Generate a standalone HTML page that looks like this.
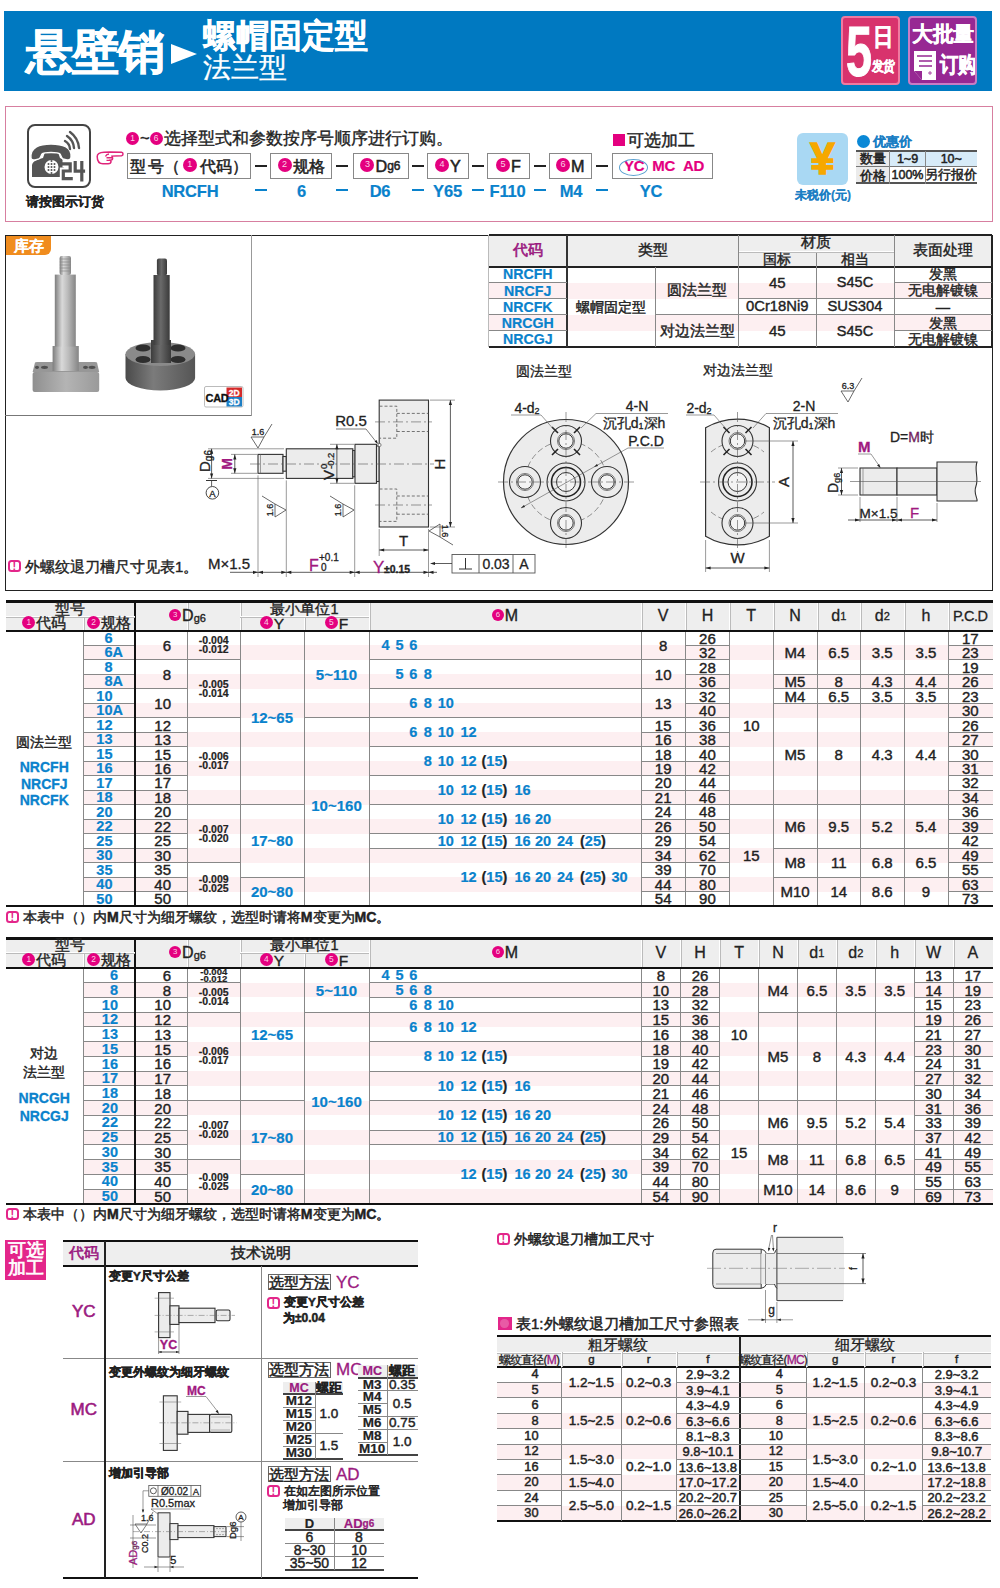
<!DOCTYPE html><html><head><meta charset="utf-8"><title>悬壁销 螺帽固定型 法兰型</title><style>
*{margin:0;padding:0}
html,body{width:1000px;height:1588px;background:#fff;overflow:hidden}
body{position:relative;font-family:"Liberation Sans",sans-serif}
.a{position:absolute}
.t{position:absolute;display:flex;align-items:center;white-space:nowrap;line-height:1;-webkit-text-stroke-width:0.3px}
.c{position:absolute;border-radius:50%;display:flex;align-items:center;justify-content:center;line-height:1}
.ci{display:inline-flex;align-items:center;justify-content:center;border-radius:50%;color:#fbd0e6;-webkit-text-stroke:0;vertical-align:middle;margin-right:1px;line-height:1;position:relative;top:-1px}
.nt{display:inline-flex;align-items:center;justify-content:center;width:12.5px;height:12.5px;border:2.2px solid #e3268a;border-radius:3.5px;color:#e3268a;font-size:11px;font-weight:bold;margin-left:1px;margin-right:4.5px;box-sizing:border-box;line-height:1;-webkit-text-stroke:0}
svg text{font-family:"Liberation Sans",sans-serif}
</style></head><body>
<div class="a" style="left:4px;top:11px;width:988px;height:80px;background:#0079c1;"></div>
<div class="t" style="left:26px;top:20px;width:149px;height:62px;font-size:47px;color:#fff;font-weight:bold;justify-content:flex-start;-webkit-text-stroke-width:0.2px;letter-spacing:-1px;-webkit-text-stroke:0.7px #fff;">悬壁销</div>
<svg class="a" style="left:171px;top:44px" width="27" height="21"><polygon points="0,0 26,10 0,20" fill="#fff"/></svg>
<div class="t" style="left:203px;top:18px;width:177px;height:37px;font-size:32.5px;color:#fff;font-weight:bold;justify-content:flex-start;-webkit-text-stroke-width:0.2px;-webkit-text-stroke:0.5px #fff;">螺帽固定型</div>
<div class="t" style="left:203px;top:53px;width:177px;height:30px;font-size:28px;color:#fff;font-weight:normal;justify-content:flex-start;">法兰型</div>
<div class="a" style="left:841px;top:16px;width:59px;height:69px;background:#d8336d;border:2px solid #f07aa0;box-sizing:border-box;border-radius:4px;"></div>
<div class="t" style="left:838px;top:18px;width:42px;height:67px;font-size:71px;color:#fff;font-weight:bold;justify-content:center;-webkit-text-stroke-width:0.2px;transform:scaleX(0.66);-webkit-text-stroke:1px #fff;">5</div>
<div class="t" style="left:872px;top:22px;width:22px;height:30px;font-size:24px;color:#fff;font-weight:bold;justify-content:center;-webkit-text-stroke-width:0.2px;transform:scaleX(0.85);-webkit-text-stroke:0.6px #fff;">日</div>
<div class="t" style="left:869px;top:55px;width:27px;height:23px;font-size:13.5px;color:#fff;font-weight:bold;justify-content:center;-webkit-text-stroke-width:0.2px;letter-spacing:-1.5px;transform:scaleX(0.85);-webkit-text-stroke:0.4px #fff;">发货</div>
<div class="a" style="left:908px;top:16px;width:69px;height:69px;background:#972893;border:2px solid #c97cc4;box-sizing:border-box;border-radius:4px;"></div>
<div class="t" style="left:909px;top:20px;width:68px;height:29px;font-size:20.5px;color:#fff;font-weight:bold;justify-content:center;-webkit-text-stroke-width:0.2px;letter-spacing:-0.5px;-webkit-text-stroke:0.4px #fff;">大批量</div>
<div class="t" style="left:939px;top:50px;width:37px;height:29px;font-size:18px;color:#fff;font-weight:bold;justify-content:center;-webkit-text-stroke-width:0.2px;transform:scaleY(1.2);letter-spacing:-0.5px;-webkit-text-stroke:0.4px #fff;">订购</div>
<svg class="a" style="left:913px;top:51px" width="25" height="30"><path d="M1,0 H23 V29 H9 L1,20 Z" fill="#fff"/><path d="M1,20 H9 V29 Z" fill="#972893"/><path d="M4,5 H19 M6,10 H19 M6,15 H19" stroke="#972893" stroke-width="1.6"/><path d="M15,22 h4 M17,20 v4" stroke="#972893" stroke-width="0.8"/></svg>
<div class="a" style="left:5px;top:106px;width:988px;height:116px;border:1.5px solid #d77fa0;box-sizing:border-box;"></div>
<div class="a" style="left:27px;top:124px;width:64px;height:64px;background:#fff;border:2.2px solid #444;box-sizing:border-box;border-radius:8px;"></div>
<svg class="a" style="left:27px;top:124px" width="64" height="64" viewBox="0 0 64 64">
<path d="M5,53 L5,41 C6,37 11,35 16,34 L18,28 L31,28 L33,34 C36,35 37,38 37,41 L37,53 Z" fill="#555"/>
<path d="M4,34 C3,23 13,20 24,20 C35,20 45,23 44,33 C44,35 42,36 40,36 L36,35 C34,34 34,31 33,30 C31,28 17,28 15,30 C14,31 14,34 12,35 L8,36 C6,36 4,36 4,34 Z" fill="#555" stroke="#fff" stroke-width="1.3"/>
<circle cx="24.5" cy="43" r="7" fill="#fff"/>
<g fill="#555"><circle cx="21.5" cy="40" r="1"/><circle cx="24.5" cy="40" r="1"/><circle cx="27.5" cy="40" r="1"/><circle cx="21.5" cy="43" r="1"/><circle cx="24.5" cy="43" r="1"/><circle cx="27.5" cy="43" r="1"/><circle cx="21.5" cy="46" r="1"/><circle cx="24.5" cy="46" r="1"/><circle cx="27.5" cy="46" r="1"/><circle cx="24.5" cy="37" r="1"/><circle cx="24.5" cy="49" r="1"/></g>
<path d="M44,24 A10,10 0 0 0 39,16 M48,23 A16,16 0 0 0 41,11 M53,23 A22,22 0 0 0 44,7" stroke="#555" stroke-width="2.4" fill="none" stroke-linecap="round" transform="translate(-1,1)"/>
<path d="M35.5,39.8 H43.2 V47 H36.3 V54.6 H44.2 M48.2,38.5 V47.2 H56.5 M54.8,38.5 V56" fill="none" stroke="#fff" stroke-width="7" stroke-linejoin="miter"/>
<path d="M35.5,39.8 H43.2 V47 H36.3 V54.6 H44.2 M48.2,38.5 V47.2 H56.5 M54.8,38.5 V56" fill="none" stroke="#555" stroke-width="3.2" stroke-linejoin="miter" stroke-linecap="square"/>
</svg>
<div class="t" style="left:20px;top:193px;width:90px;height:16px;font-size:13px;color:#222;font-weight:bold;justify-content:center;-webkit-text-stroke-width:0.2px;">请按图示订货</div>
<svg class="a" style="left:96px;top:150.5px" width="29" height="15"><path d="M1.2,5.5 C1.2,2.5 5,1.3 8,1.2 L14,0.9 L25.5,1.3 C27.5,1.6 27.5,4.5 25.5,4.8 L16,5.1 L16.6,7.2 C16.6,8.6 15.6,9.2 14.3,9.2 L15,10.5 C15,12.2 14,12.8 12,12.8 L7,12.8 C3.5,12.8 1.2,10.5 1.2,5.5 Z" fill="#fff" stroke="#e0247a" stroke-width="1.5"/><path d="M9.5,5.5 C10,4 11,3.2 13,3 M10.5,6.7 H16.2 M10.5,9.4 H14.5" fill="none" stroke="#e0247a" stroke-width="1.4"/></svg>
<div class="t" style="left:126px;top:130px;width:434px;height:18px;font-size:16.6px;color:#222;font-weight:normal;justify-content:flex-start;-webkit-text-stroke:0.35px #222;"><span class="ci" style="width:13.0px;height:13.0px;background:#e4007f;font-size:8.450000000000001px;">1</span>~<span class="ci" style="width:13.0px;height:13.0px;background:#e4007f;font-size:8.450000000000001px;">6</span>选择型式和参数按序号顺序进行订购。</div>
<div class="a" style="left:126.5px;top:153px;width:124.5px;height:25.5px;background:#fff;border:1px solid #888;box-sizing:border-box;"></div>
<div class="t" style="left:126.5px;top:153px;width:124.5px;height:25.5px;font-size:16.2px;color:#222;font-weight:normal;justify-content:center;-webkit-text-stroke:0.5px #222;">型<span style="margin-left:2px">号</span>（<span style="margin:0 2px 0 3px;display:inline-flex"><span class="ci" style="width:14px;height:14px;background:#e4007f;font-size:9.1px;">1</span></span>代码）</div>
<div class="a" style="left:270px;top:153px;width:62px;height:25.5px;background:#fff;border:1px solid #888;box-sizing:border-box;"></div>
<div class="t" style="left:270px;top:153px;width:62px;height:25.5px;font-size:16.2px;color:#222;font-weight:normal;justify-content:center;-webkit-text-stroke:0.5px #222;"><span class="ci" style="width:14px;height:14px;background:#e4007f;font-size:9.1px;">2</span>规格</div>
<div class="a" style="left:352.5px;top:153px;width:56.0px;height:25.5px;background:#fff;border:1px solid #888;box-sizing:border-box;"></div>
<div class="t" style="left:352.5px;top:153px;width:56.0px;height:25.5px;font-size:16.2px;color:#222;font-weight:normal;justify-content:center;-webkit-text-stroke:0.5px #222;"><span class="ci" style="width:14px;height:14px;background:#e4007f;font-size:9.1px;">3</span>D<span style="font-size:12px">g6</span></div>
<div class="a" style="left:427px;top:153px;width:42px;height:25.5px;background:#fff;border:1px solid #888;box-sizing:border-box;"></div>
<div class="t" style="left:427px;top:153px;width:42px;height:25.5px;font-size:16.2px;color:#222;font-weight:normal;justify-content:center;-webkit-text-stroke:0.5px #222;"><span class="ci" style="width:14px;height:14px;background:#e4007f;font-size:9.1px;">4</span>Y</div>
<div class="a" style="left:487px;top:153px;width:43px;height:25.5px;background:#fff;border:1px solid #888;box-sizing:border-box;"></div>
<div class="t" style="left:487px;top:153px;width:43px;height:25.5px;font-size:16.2px;color:#222;font-weight:normal;justify-content:center;-webkit-text-stroke:0.5px #222;"><span class="ci" style="width:14px;height:14px;background:#e4007f;font-size:9.1px;">5</span>F</div>
<div class="a" style="left:549px;top:153px;width:42.5px;height:25.5px;background:#fff;border:1px solid #888;box-sizing:border-box;"></div>
<div class="t" style="left:549px;top:153px;width:42.5px;height:25.5px;font-size:16.2px;color:#222;font-weight:normal;justify-content:center;-webkit-text-stroke:0.5px #222;"><span class="ci" style="width:14px;height:14px;background:#e4007f;font-size:9.1px;">6</span>M</div>
<div class="a" style="left:612px;top:153px;width:101px;height:25.5px;background:#fff;border:1px solid #888;box-sizing:border-box;"></div>
<div class="t" style="left:624px;top:153px;width:96px;height:25.5px;font-size:15px;color:#e4007f;font-weight:bold;justify-content:flex-start;-webkit-text-stroke-width:0.2px;letter-spacing:-0.3px;">YC<span style="margin-left:8px">MC</span><span style="margin-left:8px">AD</span></div>
<div class="a" style="left:619px;top:158.5px;width:29px;height:17px;border:1px solid #5aa0d0;border-radius:50%;box-sizing:border-box;"></div>
<div class="a" style="left:613px;top:134px;width:12px;height:12px;background:#e4007f;"></div>
<div class="t" style="left:627px;top:130px;width:73px;height:20px;font-size:17px;color:#222;font-weight:normal;justify-content:flex-start;-webkit-text-stroke:0.4px #222;">可选加工</div>
<div class="a" style="left:254.5px;top:164.7px;width:12.0px;height:2.2px;background:#222;"></div>
<div class="a" style="left:336.2px;top:164.7px;width:12.0px;height:2.2px;background:#222;"></div>
<div class="a" style="left:411.8px;top:164.7px;width:12.0px;height:2.2px;background:#222;"></div>
<div class="a" style="left:472px;top:164.7px;width:12px;height:2.2px;background:#222;"></div>
<div class="a" style="left:533.5px;top:164.7px;width:12.0px;height:2.2px;background:#222;"></div>
<div class="a" style="left:595.8px;top:164.7px;width:12.0px;height:2.2px;background:#222;"></div>
<div class="t" style="left:150px;top:182px;width:80px;height:18px;font-size:16.5px;color:#0a82cc;font-weight:bold;justify-content:center;-webkit-text-stroke-width:0.2px;letter-spacing:-0.2px;">NRCFH</div>
<div class="t" style="left:285px;top:182px;width:33px;height:18px;font-size:16.5px;color:#0a82cc;font-weight:bold;justify-content:center;-webkit-text-stroke-width:0.2px;letter-spacing:-0.2px;">6</div>
<div class="t" style="left:360px;top:182px;width:40px;height:18px;font-size:16.5px;color:#0a82cc;font-weight:bold;justify-content:center;-webkit-text-stroke-width:0.2px;letter-spacing:-0.2px;">D6</div>
<div class="t" style="left:425px;top:182px;width:45px;height:18px;font-size:16.5px;color:#0a82cc;font-weight:bold;justify-content:center;-webkit-text-stroke-width:0.2px;letter-spacing:-0.2px;">Y65</div>
<div class="t" style="left:485px;top:182px;width:45px;height:18px;font-size:16.5px;color:#0a82cc;font-weight:bold;justify-content:center;-webkit-text-stroke-width:0.2px;letter-spacing:-0.2px;">F110</div>
<div class="t" style="left:550px;top:182px;width:42px;height:18px;font-size:16.5px;color:#0a82cc;font-weight:bold;justify-content:center;-webkit-text-stroke-width:0.2px;letter-spacing:-0.2px;">M4</div>
<div class="t" style="left:620px;top:182px;width:62px;height:18px;font-size:16.5px;color:#0a82cc;font-weight:bold;justify-content:center;-webkit-text-stroke-width:0.2px;letter-spacing:-0.2px;">YC</div>
<div class="a" style="left:254.5px;top:188.9px;width:12.0px;height:2.2px;background:#0a82cc;"></div>
<div class="a" style="left:336.2px;top:188.9px;width:12.0px;height:2.2px;background:#0a82cc;"></div>
<div class="a" style="left:411.8px;top:188.9px;width:12.0px;height:2.2px;background:#0a82cc;"></div>
<div class="a" style="left:472px;top:188.9px;width:12px;height:2.2px;background:#0a82cc;"></div>
<div class="a" style="left:533.5px;top:188.9px;width:12.0px;height:2.2px;background:#0a82cc;"></div>
<div class="a" style="left:595.8px;top:188.9px;width:12.0px;height:2.2px;background:#0a82cc;"></div>
<div class="a" style="left:797px;top:132.5px;width:51px;height:52.0px;background:#a9d8f3;border-radius:6px;"></div>
<div class="t" style="left:797px;top:132.5px;width:51px;height:52.0px;font-size:44px;color:#f6a800;font-weight:bold;justify-content:center;-webkit-text-stroke-width:0.2px;-webkit-text-stroke:1.6px #f6a800;">¥</div>
<div class="t" style="left:790px;top:187px;width:66px;height:16px;font-size:12px;color:#1b7ec4;font-weight:bold;justify-content:center;-webkit-text-stroke-width:0.2px;">未税价(元)</div>
<div class="c" style="left:857.0px;top:135.0px;width:13.0px;height:13.0px;background:#0a88d6;color:#f7a8d0;font-size:9.1px;"></div>
<div class="t" style="left:873px;top:133px;width:47px;height:17px;font-size:13px;color:#1b7ec4;font-weight:bold;justify-content:flex-start;-webkit-text-stroke-width:0.2px;">优惠价</div>
<div class="a" style="left:856px;top:150.5px;width:121px;height:33.0px;background:#fff;"></div>
<div class="a" style="left:856px;top:150.5px;width:33.5px;height:33.0px;background:#ebebeb;"></div>
<div class="a" style="left:889.5px;top:150.5px;width:87.5px;height:16.0px;background:#d7ebf8;"></div>
<div class="a" style="left:856px;top:150.25px;width:121px;height:1.5px;background:#555;"></div>
<div class="a" style="left:856px;top:166.0px;width:121px;height:1.0px;background:#777;"></div>
<div class="a" style="left:856px;top:182.25px;width:121px;height:1.5px;background:#555;"></div>
<div class="a" style="left:889.0px;top:150.5px;width:1.0px;height:33.0px;background:#888;"></div>
<div class="a" style="left:925.0px;top:150.5px;width:1.0px;height:33.0px;background:#888;"></div>
<div class="t" style="left:856px;top:151px;width:33.5px;height:15.5px;font-size:13px;color:#222;font-weight:normal;justify-content:center;-webkit-text-stroke-width:0.5px;">数量</div>
<div class="t" style="left:889.5px;top:151px;width:36.0px;height:15.5px;font-size:12.5px;color:#222;font-weight:normal;justify-content:center;-webkit-text-stroke-width:0.5px;">1~9</div>
<div class="t" style="left:925.5px;top:151px;width:51.5px;height:15.5px;font-size:12.5px;color:#222;font-weight:normal;justify-content:center;-webkit-text-stroke-width:0.5px;">10~</div>
<div class="t" style="left:856px;top:167px;width:33.5px;height:16px;font-size:13px;color:#222;font-weight:normal;justify-content:center;-webkit-text-stroke-width:0.5px;">价格</div>
<div class="t" style="left:889.5px;top:167px;width:36.0px;height:16px;font-size:12.5px;color:#222;font-weight:normal;justify-content:center;-webkit-text-stroke-width:0.5px;">100%</div>
<div class="t" style="left:925.5px;top:167px;width:51.5px;height:16px;font-size:12.5px;color:#222;font-weight:normal;justify-content:center;-webkit-text-stroke-width:0.5px;">另行报价</div>
<div class="a" style="left:5px;top:234.5px;width:988px;height:356.0px;border:1.5px solid #222;box-sizing:border-box;"></div>
<div class="a" style="left:5px;top:415.0px;width:246px;height:1.0px;background:#777;"></div>
<div class="a" style="left:250.5px;top:234.5px;width:1.0px;height:181.0px;background:#999;"></div>
<div class="a" style="left:6px;top:235.5px;width:45px;height:19.5px;background:#f08c1e;border-radius:0 0 6px 0;"></div>
<div class="t" style="left:6px;top:235.5px;width:45px;height:19.5px;font-size:15px;color:#fff;font-weight:bold;justify-content:center;-webkit-text-stroke-width:0.2px;">库存</div>
<div class="t" style="left:7px;top:557px;width:293px;height:18px;font-size:15px;color:#222;font-weight:normal;justify-content:flex-start;-webkit-text-stroke:0.4px #222;"><span class="nt">!</span>外螺纹退刀槽尺寸见表1。</div>
<div class="a" style="left:488.5px;top:234.5px;width:503.5px;height:32.0px;background:#eeeeee;"></div>
<div class="a" style="left:488.5px;top:234.5px;width:503.5px;height:112.5px;"></div>
<div class="a" style="left:488.5px;top:266.5px;width:503.5px;height:80.5px;background:#fff;"></div>
<div class="a" style="left:488.5px;top:282.6px;width:503.5px;height:16.1px;background:#fdeff1;"></div>
<div class="a" style="left:488.5px;top:314.8px;width:503.5px;height:16.1px;background:#fdeff1;"></div>
<div class="a" style="left:488.5px;top:233.5px;width:503.5px;height:2.0px;background:#222;"></div>
<div class="a" style="left:488.5px;top:265.5px;width:503.5px;height:2.0px;background:#222;"></div>
<div class="a" style="left:488.5px;top:346.0px;width:503.5px;height:2.0px;background:#222;"></div>
<div class="a" style="left:488.0px;top:234.5px;width:1.0px;height:112.5px;background:#bbb;"></div>
<div class="a" style="left:991.25px;top:234.5px;width:1.5px;height:112.5px;background:#222;"></div>
<div class="a" style="left:566.4px;top:234.5px;width:1.2px;height:112.5px;background:#333;"></div>
<div class="a" style="left:655.0px;top:266.5px;width:1.0px;height:80.5px;background:#888;"></div>
<div class="a" style="left:738.1px;top:234.5px;width:1.0px;height:112.5px;background:#888;"></div>
<div class="a" style="left:815.5px;top:251.8px;width:1.0px;height:95.2px;background:#888;"></div>
<div class="a" style="left:893.5px;top:234.5px;width:1.0px;height:112.5px;background:#888;"></div>
<div class="a" style="left:738.6px;top:251.3px;width:155.4px;height:1.0px;background:#fff;"></div>
<div class="a" style="left:738.6px;top:252.1px;width:155.4px;height:1.0px;background:#bbb;"></div>
<div class="a" style="left:488.5px;top:282.1px;width:78.5px;height:1.0px;background:#888;"></div>
<div class="a" style="left:488.5px;top:298.2px;width:78.5px;height:1.0px;background:#888;"></div>
<div class="a" style="left:488.5px;top:314.3px;width:78.5px;height:1.0px;background:#888;"></div>
<div class="a" style="left:488.5px;top:330.4px;width:78.5px;height:1.0px;background:#888;"></div>
<div class="a" style="left:738.6px;top:298.2px;width:253.4px;height:1.0px;background:#888;"></div>
<div class="a" style="left:655.5px;top:314.3px;width:336.5px;height:1.0px;background:#888;"></div>
<div class="a" style="left:894px;top:282.1px;width:98px;height:1.0px;background:#888;"></div>
<div class="a" style="left:894px;top:330.4px;width:98px;height:1.0px;background:#888;"></div>
<div class="t" style="left:488.5px;top:234.5px;width:78.5px;height:32.0px;font-size:14.5px;color:#9b1a80;font-weight:normal;justify-content:center;-webkit-text-stroke-width:0.6px;">代码</div>
<div class="t" style="left:567px;top:234.5px;width:171.6px;height:32.0px;font-size:14.5px;color:#222;font-weight:normal;justify-content:center;-webkit-text-stroke-width:0.4px;">类型</div>
<div class="t" style="left:738.6px;top:233.5px;width:155.4px;height:18.3px;font-size:14.5px;color:#222;font-weight:normal;justify-content:center;-webkit-text-stroke-width:0.4px;">材质</div>
<div class="t" style="left:738.6px;top:251.8px;width:77.4px;height:14.7px;font-size:14.3px;color:#222;font-weight:normal;justify-content:center;-webkit-text-stroke-width:0.4px;">国标</div>
<div class="t" style="left:816px;top:251.8px;width:78px;height:14.7px;font-size:14.3px;color:#222;font-weight:normal;justify-content:center;-webkit-text-stroke-width:0.4px;">相当</div>
<div class="t" style="left:894px;top:234.5px;width:98px;height:32.0px;font-size:14.5px;color:#222;font-weight:normal;justify-content:center;-webkit-text-stroke-width:0.4px;">表面处理</div>
<div class="t" style="left:488.5px;top:266.5px;width:78.5px;height:16.1px;font-size:14.2px;color:#0a82cc;font-weight:bold;justify-content:center;-webkit-text-stroke-width:0.2px;">NRCFH</div>
<div class="t" style="left:488.5px;top:282.6px;width:78.5px;height:16.1px;font-size:14.2px;color:#0a82cc;font-weight:bold;justify-content:center;-webkit-text-stroke-width:0.2px;">NRCFJ</div>
<div class="t" style="left:488.5px;top:298.7px;width:78.5px;height:16.1px;font-size:14.2px;color:#0a82cc;font-weight:bold;justify-content:center;-webkit-text-stroke-width:0.2px;">NRCFK</div>
<div class="t" style="left:488.5px;top:314.8px;width:78.5px;height:16.1px;font-size:14.2px;color:#0a82cc;font-weight:bold;justify-content:center;-webkit-text-stroke-width:0.2px;">NRCGH</div>
<div class="t" style="left:488.5px;top:330.9px;width:78.5px;height:16.1px;font-size:14.2px;color:#0a82cc;font-weight:bold;justify-content:center;-webkit-text-stroke-width:0.2px;">NRCGJ</div>
<div class="t" style="left:567px;top:266.5px;width:88.5px;height:80.5px;font-size:14.3px;color:#222;font-weight:normal;justify-content:center;-webkit-text-stroke-width:0.4px;">螺帽固定型</div>
<div class="t" style="left:655.5px;top:266.5px;width:83.1px;height:48.3px;font-size:14.5px;color:#222;font-weight:normal;justify-content:center;-webkit-text-stroke-width:0.4px;">圆法兰型</div>
<div class="t" style="left:655.5px;top:314.8px;width:83.1px;height:32.2px;font-size:14.5px;color:#222;font-weight:normal;justify-content:center;-webkit-text-stroke-width:0.4px;">对边法兰型</div>
<div class="t" style="left:738.6px;top:266.5px;width:77.4px;height:32.2px;font-size:15px;color:#222;font-weight:normal;justify-content:center;-webkit-text-stroke-width:0.4px;">45</div>
<div class="t" style="left:816px;top:266.5px;width:78px;height:32.2px;font-size:14.5px;color:#222;font-weight:normal;justify-content:center;-webkit-text-stroke-width:0.4px;">S45C</div>
<div class="t" style="left:738.6px;top:298.7px;width:77.4px;height:16.1px;font-size:14.8px;color:#222;font-weight:normal;justify-content:center;-webkit-text-stroke-width:0.4px;">0Cr18Ni9</div>
<div class="t" style="left:816px;top:298.7px;width:78px;height:16.1px;font-size:14.8px;color:#222;font-weight:normal;justify-content:center;-webkit-text-stroke-width:0.4px;">SUS304</div>
<div class="t" style="left:738.6px;top:314.8px;width:77.4px;height:32.2px;font-size:15px;color:#222;font-weight:normal;justify-content:center;-webkit-text-stroke-width:0.4px;">45</div>
<div class="t" style="left:816px;top:314.8px;width:78px;height:32.2px;font-size:14.5px;color:#222;font-weight:normal;justify-content:center;-webkit-text-stroke-width:0.4px;">S45C</div>
<div class="t" style="left:894px;top:266.5px;width:98px;height:16.1px;font-size:14.3px;color:#222;font-weight:normal;justify-content:center;-webkit-text-stroke-width:0.4px;">发黑</div>
<div class="t" style="left:894px;top:282.6px;width:98px;height:16.1px;font-size:14.3px;color:#222;font-weight:normal;justify-content:center;-webkit-text-stroke-width:0.4px;">无电解镀镍</div>
<div class="t" style="left:894px;top:298.7px;width:98px;height:16.1px;font-size:14.3px;color:#222;font-weight:normal;justify-content:center;-webkit-text-stroke-width:0.4px;">—</div>
<div class="t" style="left:894px;top:314.8px;width:98px;height:16.1px;font-size:14.3px;color:#222;font-weight:normal;justify-content:center;-webkit-text-stroke-width:0.4px;">发黑</div>
<div class="t" style="left:894px;top:330.9px;width:98px;height:16.1px;font-size:14.3px;color:#222;font-weight:normal;justify-content:center;-webkit-text-stroke-width:0.4px;">无电解镀镍</div>
<div class="a" style="left:5.5px;top:601.5px;width:987.0px;height:29.5px;background:#eeeeee;"></div>
<div class="a" style="left:83px;top:645.47px;width:909.5px;height:14.47px;background:#fdeff1;"></div>
<div class="a" style="left:83px;top:674.42px;width:909.5px;height:14.47px;background:#fdeff1;"></div>
<div class="a" style="left:83px;top:703.37px;width:909.5px;height:14.47px;background:#fdeff1;"></div>
<div class="a" style="left:83px;top:732.32px;width:909.5px;height:14.47px;background:#fdeff1;"></div>
<div class="a" style="left:83px;top:761.26px;width:909.5px;height:14.47px;background:#fdeff1;"></div>
<div class="a" style="left:83px;top:790.21px;width:909.5px;height:14.47px;background:#fdeff1;"></div>
<div class="a" style="left:83px;top:819.16px;width:909.5px;height:14.47px;background:#fdeff1;"></div>
<div class="a" style="left:83px;top:848.11px;width:909.5px;height:14.47px;background:#fdeff1;"></div>
<div class="a" style="left:83px;top:877.05px;width:909.5px;height:14.47px;background:#fdeff1;"></div>
<div class="t" style="left:83px;top:631.0px;width:29.5px;height:14.47px;font-size:14.5px;color:#0a82cc;font-weight:bold;justify-content:flex-end;-webkit-text-stroke-width:0.2px;">6</div>
<div class="a" style="left:83px;top:644.97px;width:52px;height:1.0px;background:#888;"></div>
<div class="t" style="left:83px;top:645.47px;width:29.5px;height:14.47px;font-size:14.5px;color:#0a82cc;font-weight:bold;justify-content:flex-end;-webkit-text-stroke-width:0.2px;">6</div>
<div class="t" style="left:112.5px;top:645.47px;width:22.5px;height:14.47px;font-size:14.5px;color:#0a82cc;font-weight:bold;justify-content:flex-start;-webkit-text-stroke-width:0.2px;">A</div>
<div class="a" style="left:83px;top:659.45px;width:52px;height:1.0px;background:#888;"></div>
<div class="t" style="left:83px;top:659.95px;width:29.5px;height:14.47px;font-size:14.5px;color:#0a82cc;font-weight:bold;justify-content:flex-end;-webkit-text-stroke-width:0.2px;">8</div>
<div class="a" style="left:83px;top:673.92px;width:52px;height:1.0px;background:#888;"></div>
<div class="t" style="left:83px;top:674.42px;width:29.5px;height:14.47px;font-size:14.5px;color:#0a82cc;font-weight:bold;justify-content:flex-end;-webkit-text-stroke-width:0.2px;">8</div>
<div class="t" style="left:112.5px;top:674.42px;width:22.5px;height:14.47px;font-size:14.5px;color:#0a82cc;font-weight:bold;justify-content:flex-start;-webkit-text-stroke-width:0.2px;">A</div>
<div class="a" style="left:83px;top:688.39px;width:52px;height:1.0px;background:#888;"></div>
<div class="t" style="left:83px;top:688.89px;width:29.5px;height:14.47px;font-size:14.5px;color:#0a82cc;font-weight:bold;justify-content:flex-end;-webkit-text-stroke-width:0.2px;">10</div>
<div class="a" style="left:83px;top:702.87px;width:52px;height:1.0px;background:#888;"></div>
<div class="t" style="left:83px;top:703.37px;width:29.5px;height:14.47px;font-size:14.5px;color:#0a82cc;font-weight:bold;justify-content:flex-end;-webkit-text-stroke-width:0.2px;">10</div>
<div class="t" style="left:112.5px;top:703.37px;width:22.5px;height:14.47px;font-size:14.5px;color:#0a82cc;font-weight:bold;justify-content:flex-start;-webkit-text-stroke-width:0.2px;">A</div>
<div class="a" style="left:83px;top:717.34px;width:52px;height:1.0px;background:#888;"></div>
<div class="t" style="left:83px;top:717.84px;width:29.5px;height:14.47px;font-size:14.5px;color:#0a82cc;font-weight:bold;justify-content:flex-end;-webkit-text-stroke-width:0.2px;">12</div>
<div class="a" style="left:83px;top:731.82px;width:52px;height:1.0px;background:#888;"></div>
<div class="t" style="left:83px;top:732.32px;width:29.5px;height:14.47px;font-size:14.5px;color:#0a82cc;font-weight:bold;justify-content:flex-end;-webkit-text-stroke-width:0.2px;">13</div>
<div class="a" style="left:83px;top:746.29px;width:52px;height:1.0px;background:#888;"></div>
<div class="t" style="left:83px;top:746.79px;width:29.5px;height:14.47px;font-size:14.5px;color:#0a82cc;font-weight:bold;justify-content:flex-end;-webkit-text-stroke-width:0.2px;">15</div>
<div class="a" style="left:83px;top:760.76px;width:52px;height:1.0px;background:#888;"></div>
<div class="t" style="left:83px;top:761.26px;width:29.5px;height:14.47px;font-size:14.5px;color:#0a82cc;font-weight:bold;justify-content:flex-end;-webkit-text-stroke-width:0.2px;">16</div>
<div class="a" style="left:83px;top:775.24px;width:52px;height:1.0px;background:#888;"></div>
<div class="t" style="left:83px;top:775.74px;width:29.5px;height:14.47px;font-size:14.5px;color:#0a82cc;font-weight:bold;justify-content:flex-end;-webkit-text-stroke-width:0.2px;">17</div>
<div class="a" style="left:83px;top:789.71px;width:52px;height:1.0px;background:#888;"></div>
<div class="t" style="left:83px;top:790.21px;width:29.5px;height:14.47px;font-size:14.5px;color:#0a82cc;font-weight:bold;justify-content:flex-end;-webkit-text-stroke-width:0.2px;">18</div>
<div class="a" style="left:83px;top:804.18px;width:52px;height:1.0px;background:#888;"></div>
<div class="t" style="left:83px;top:804.68px;width:29.5px;height:14.47px;font-size:14.5px;color:#0a82cc;font-weight:bold;justify-content:flex-end;-webkit-text-stroke-width:0.2px;">20</div>
<div class="a" style="left:83px;top:818.66px;width:52px;height:1.0px;background:#888;"></div>
<div class="t" style="left:83px;top:819.16px;width:29.5px;height:14.47px;font-size:14.5px;color:#0a82cc;font-weight:bold;justify-content:flex-end;-webkit-text-stroke-width:0.2px;">22</div>
<div class="a" style="left:83px;top:833.13px;width:52px;height:1.0px;background:#888;"></div>
<div class="t" style="left:83px;top:833.63px;width:29.5px;height:14.47px;font-size:14.5px;color:#0a82cc;font-weight:bold;justify-content:flex-end;-webkit-text-stroke-width:0.2px;">25</div>
<div class="a" style="left:83px;top:847.61px;width:52px;height:1.0px;background:#888;"></div>
<div class="t" style="left:83px;top:848.11px;width:29.5px;height:14.47px;font-size:14.5px;color:#0a82cc;font-weight:bold;justify-content:flex-end;-webkit-text-stroke-width:0.2px;">30</div>
<div class="a" style="left:83px;top:862.08px;width:52px;height:1.0px;background:#888;"></div>
<div class="t" style="left:83px;top:862.58px;width:29.5px;height:14.47px;font-size:14.5px;color:#0a82cc;font-weight:bold;justify-content:flex-end;-webkit-text-stroke-width:0.2px;">35</div>
<div class="a" style="left:83px;top:876.55px;width:52px;height:1.0px;background:#888;"></div>
<div class="t" style="left:83px;top:877.05px;width:29.5px;height:14.47px;font-size:14.5px;color:#0a82cc;font-weight:bold;justify-content:flex-end;-webkit-text-stroke-width:0.2px;">40</div>
<div class="a" style="left:83px;top:891.03px;width:52px;height:1.0px;background:#888;"></div>
<div class="t" style="left:83px;top:891.53px;width:29.5px;height:14.47px;font-size:14.5px;color:#0a82cc;font-weight:bold;justify-content:flex-end;-webkit-text-stroke-width:0.2px;">50</div>
<div class="t" style="left:135px;top:631.0px;width:36px;height:28.95px;font-size:15px;color:#222;font-weight:normal;justify-content:flex-end;-webkit-text-stroke:0.4px #222;">6</div>
<div class="a" style="left:135px;top:659.45px;width:52.5px;height:1.0px;background:#888;"></div>
<div class="t" style="left:135px;top:659.95px;width:36px;height:28.95px;font-size:15px;color:#222;font-weight:normal;justify-content:flex-end;-webkit-text-stroke:0.4px #222;">8</div>
<div class="a" style="left:135px;top:688.39px;width:52.5px;height:1.0px;background:#888;"></div>
<div class="t" style="left:135px;top:688.89px;width:36px;height:28.95px;font-size:15px;color:#222;font-weight:normal;justify-content:flex-end;-webkit-text-stroke:0.4px #222;">10</div>
<div class="a" style="left:135px;top:717.34px;width:52.5px;height:1.0px;background:#888;"></div>
<div class="t" style="left:135px;top:717.84px;width:36px;height:14.47px;font-size:15px;color:#222;font-weight:normal;justify-content:flex-end;-webkit-text-stroke:0.4px #222;">12</div>
<div class="a" style="left:135px;top:731.82px;width:52.5px;height:1.0px;background:#888;"></div>
<div class="t" style="left:135px;top:732.32px;width:36px;height:14.47px;font-size:15px;color:#222;font-weight:normal;justify-content:flex-end;-webkit-text-stroke:0.4px #222;">13</div>
<div class="a" style="left:135px;top:746.29px;width:52.5px;height:1.0px;background:#888;"></div>
<div class="t" style="left:135px;top:746.79px;width:36px;height:14.47px;font-size:15px;color:#222;font-weight:normal;justify-content:flex-end;-webkit-text-stroke:0.4px #222;">15</div>
<div class="a" style="left:135px;top:760.76px;width:52.5px;height:1.0px;background:#888;"></div>
<div class="t" style="left:135px;top:761.26px;width:36px;height:14.47px;font-size:15px;color:#222;font-weight:normal;justify-content:flex-end;-webkit-text-stroke:0.4px #222;">16</div>
<div class="a" style="left:135px;top:775.24px;width:52.5px;height:1.0px;background:#888;"></div>
<div class="t" style="left:135px;top:775.74px;width:36px;height:14.47px;font-size:15px;color:#222;font-weight:normal;justify-content:flex-end;-webkit-text-stroke:0.4px #222;">17</div>
<div class="a" style="left:135px;top:789.71px;width:52.5px;height:1.0px;background:#888;"></div>
<div class="t" style="left:135px;top:790.21px;width:36px;height:14.47px;font-size:15px;color:#222;font-weight:normal;justify-content:flex-end;-webkit-text-stroke:0.4px #222;">18</div>
<div class="a" style="left:135px;top:804.18px;width:52.5px;height:1.0px;background:#888;"></div>
<div class="t" style="left:135px;top:804.68px;width:36px;height:14.47px;font-size:15px;color:#222;font-weight:normal;justify-content:flex-end;-webkit-text-stroke:0.4px #222;">20</div>
<div class="a" style="left:135px;top:818.66px;width:52.5px;height:1.0px;background:#888;"></div>
<div class="t" style="left:135px;top:819.16px;width:36px;height:14.47px;font-size:15px;color:#222;font-weight:normal;justify-content:flex-end;-webkit-text-stroke:0.4px #222;">22</div>
<div class="a" style="left:135px;top:833.13px;width:52.5px;height:1.0px;background:#888;"></div>
<div class="t" style="left:135px;top:833.63px;width:36px;height:14.47px;font-size:15px;color:#222;font-weight:normal;justify-content:flex-end;-webkit-text-stroke:0.4px #222;">25</div>
<div class="a" style="left:135px;top:847.61px;width:52.5px;height:1.0px;background:#888;"></div>
<div class="t" style="left:135px;top:848.11px;width:36px;height:14.47px;font-size:15px;color:#222;font-weight:normal;justify-content:flex-end;-webkit-text-stroke:0.4px #222;">30</div>
<div class="a" style="left:135px;top:862.08px;width:52.5px;height:1.0px;background:#888;"></div>
<div class="t" style="left:135px;top:862.58px;width:36px;height:14.47px;font-size:15px;color:#222;font-weight:normal;justify-content:flex-end;-webkit-text-stroke:0.4px #222;">35</div>
<div class="a" style="left:135px;top:876.55px;width:52.5px;height:1.0px;background:#888;"></div>
<div class="t" style="left:135px;top:877.05px;width:36px;height:14.47px;font-size:15px;color:#222;font-weight:normal;justify-content:flex-end;-webkit-text-stroke:0.4px #222;">40</div>
<div class="a" style="left:135px;top:891.03px;width:52.5px;height:1.0px;background:#888;"></div>
<div class="t" style="left:135px;top:891.53px;width:36px;height:14.47px;font-size:15px;color:#222;font-weight:normal;justify-content:flex-end;-webkit-text-stroke:0.4px #222;">50</div>
<div class="t" style="left:187.5px;top:631.0px;width:52.5px;height:28.95px;font-size:10.5px;color:#222;font-weight:bold;justify-content:center;-webkit-text-stroke-width:0.2px;line-height:9px;text-align:center;">-0.004<br>-0.012</div>
<div class="a" style="left:187.5px;top:659.45px;width:52.5px;height:1.0px;background:#888;"></div>
<div class="t" style="left:187.5px;top:659.95px;width:52.5px;height:57.89px;font-size:10.5px;color:#222;font-weight:bold;justify-content:center;-webkit-text-stroke-width:0.2px;line-height:9px;text-align:center;">-0.005<br>-0.014</div>
<div class="a" style="left:187.5px;top:717.34px;width:52.5px;height:1.0px;background:#888;"></div>
<div class="t" style="left:187.5px;top:717.84px;width:52.5px;height:86.84px;font-size:10.5px;color:#222;font-weight:bold;justify-content:center;-webkit-text-stroke-width:0.2px;line-height:9px;text-align:center;">-0.006<br>-0.017</div>
<div class="a" style="left:187.5px;top:804.18px;width:52.5px;height:1.0px;background:#888;"></div>
<div class="t" style="left:187.5px;top:804.68px;width:52.5px;height:57.89px;font-size:10.5px;color:#222;font-weight:bold;justify-content:center;-webkit-text-stroke-width:0.2px;line-height:9px;text-align:center;">-0.007<br>-0.020</div>
<div class="a" style="left:187.5px;top:862.08px;width:52.5px;height:1.0px;background:#888;"></div>
<div class="t" style="left:187.5px;top:862.58px;width:52.5px;height:43.42px;font-size:10.5px;color:#222;font-weight:bold;justify-content:center;-webkit-text-stroke-width:0.2px;line-height:9px;text-align:center;">-0.009<br>-0.025</div>
<div class="t" style="left:240px;top:631.0px;width:64px;height:173.68px;font-size:15px;color:#0a82cc;font-weight:bold;justify-content:center;-webkit-text-stroke-width:0.2px;">12~65</div>
<div class="a" style="left:240px;top:804.18px;width:64px;height:1.0px;background:#888;"></div>
<div class="t" style="left:240px;top:804.68px;width:64px;height:72.37px;font-size:15px;color:#0a82cc;font-weight:bold;justify-content:center;-webkit-text-stroke-width:0.2px;">17~80</div>
<div class="a" style="left:240px;top:876.55px;width:64px;height:1.0px;background:#888;"></div>
<div class="t" style="left:240px;top:877.05px;width:64px;height:28.95px;font-size:15px;color:#0a82cc;font-weight:bold;justify-content:center;-webkit-text-stroke-width:0.2px;">20~80</div>
<div class="t" style="left:304px;top:631.0px;width:65px;height:86.84px;font-size:15px;color:#0a82cc;font-weight:bold;justify-content:center;-webkit-text-stroke-width:0.2px;">5~110</div>
<div class="a" style="left:304px;top:717.34px;width:65px;height:1.0px;background:#888;"></div>
<div class="t" style="left:304px;top:711.34px;width:65px;height:188.16px;font-size:15px;color:#0a82cc;font-weight:bold;justify-content:center;-webkit-text-stroke-width:0.2px;">10~160</div>
<div class="a" style="left:369px;top:659.45px;width:272px;height:1.0px;background:#888;"></div>
<div class="a" style="left:369px;top:688.39px;width:272px;height:1.0px;background:#888;"></div>
<div class="a" style="left:369px;top:717.34px;width:272px;height:1.0px;background:#888;"></div>
<div class="a" style="left:369px;top:746.29px;width:272px;height:1.0px;background:#888;"></div>
<div class="a" style="left:369px;top:775.24px;width:272px;height:1.0px;background:#888;"></div>
<div class="a" style="left:369px;top:804.18px;width:272px;height:1.0px;background:#888;"></div>
<div class="a" style="left:369px;top:833.13px;width:272px;height:1.0px;background:#888;"></div>
<div class="a" style="left:369px;top:847.61px;width:272px;height:1.0px;background:#888;"></div>
<div class="t" style="left:641px;top:631.0px;width:44.4px;height:28.95px;font-size:15px;color:#222;font-weight:normal;justify-content:center;-webkit-text-stroke:0.4px #222;">8</div>
<div class="a" style="left:641px;top:659.45px;width:44.4px;height:1.0px;background:#888;"></div>
<div class="t" style="left:641px;top:659.95px;width:44.4px;height:28.95px;font-size:15px;color:#222;font-weight:normal;justify-content:center;-webkit-text-stroke:0.4px #222;">10</div>
<div class="a" style="left:641px;top:688.39px;width:44.4px;height:1.0px;background:#888;"></div>
<div class="t" style="left:641px;top:688.89px;width:44.4px;height:28.95px;font-size:15px;color:#222;font-weight:normal;justify-content:center;-webkit-text-stroke:0.4px #222;">13</div>
<div class="a" style="left:641px;top:717.34px;width:44.4px;height:1.0px;background:#888;"></div>
<div class="t" style="left:641px;top:717.84px;width:44.4px;height:14.47px;font-size:15px;color:#222;font-weight:normal;justify-content:center;-webkit-text-stroke:0.4px #222;">15</div>
<div class="a" style="left:641px;top:731.82px;width:44.4px;height:1.0px;background:#888;"></div>
<div class="t" style="left:641px;top:732.32px;width:44.4px;height:14.47px;font-size:15px;color:#222;font-weight:normal;justify-content:center;-webkit-text-stroke:0.4px #222;">16</div>
<div class="a" style="left:641px;top:746.29px;width:44.4px;height:1.0px;background:#888;"></div>
<div class="t" style="left:641px;top:746.79px;width:44.4px;height:14.47px;font-size:15px;color:#222;font-weight:normal;justify-content:center;-webkit-text-stroke:0.4px #222;">18</div>
<div class="a" style="left:641px;top:760.76px;width:44.4px;height:1.0px;background:#888;"></div>
<div class="t" style="left:641px;top:761.26px;width:44.4px;height:14.47px;font-size:15px;color:#222;font-weight:normal;justify-content:center;-webkit-text-stroke:0.4px #222;">19</div>
<div class="a" style="left:641px;top:775.24px;width:44.4px;height:1.0px;background:#888;"></div>
<div class="t" style="left:641px;top:775.74px;width:44.4px;height:14.47px;font-size:15px;color:#222;font-weight:normal;justify-content:center;-webkit-text-stroke:0.4px #222;">20</div>
<div class="a" style="left:641px;top:789.71px;width:44.4px;height:1.0px;background:#888;"></div>
<div class="t" style="left:641px;top:790.21px;width:44.4px;height:14.47px;font-size:15px;color:#222;font-weight:normal;justify-content:center;-webkit-text-stroke:0.4px #222;">21</div>
<div class="a" style="left:641px;top:804.18px;width:44.4px;height:1.0px;background:#888;"></div>
<div class="t" style="left:641px;top:804.68px;width:44.4px;height:14.47px;font-size:15px;color:#222;font-weight:normal;justify-content:center;-webkit-text-stroke:0.4px #222;">24</div>
<div class="a" style="left:641px;top:818.66px;width:44.4px;height:1.0px;background:#888;"></div>
<div class="t" style="left:641px;top:819.16px;width:44.4px;height:14.47px;font-size:15px;color:#222;font-weight:normal;justify-content:center;-webkit-text-stroke:0.4px #222;">26</div>
<div class="a" style="left:641px;top:833.13px;width:44.4px;height:1.0px;background:#888;"></div>
<div class="t" style="left:641px;top:833.63px;width:44.4px;height:14.47px;font-size:15px;color:#222;font-weight:normal;justify-content:center;-webkit-text-stroke:0.4px #222;">29</div>
<div class="a" style="left:641px;top:847.61px;width:44.4px;height:1.0px;background:#888;"></div>
<div class="t" style="left:641px;top:848.11px;width:44.4px;height:14.47px;font-size:15px;color:#222;font-weight:normal;justify-content:center;-webkit-text-stroke:0.4px #222;">34</div>
<div class="a" style="left:641px;top:862.08px;width:44.4px;height:1.0px;background:#888;"></div>
<div class="t" style="left:641px;top:862.58px;width:44.4px;height:14.47px;font-size:15px;color:#222;font-weight:normal;justify-content:center;-webkit-text-stroke:0.4px #222;">39</div>
<div class="a" style="left:641px;top:876.55px;width:44.4px;height:1.0px;background:#888;"></div>
<div class="t" style="left:641px;top:877.05px;width:44.4px;height:14.47px;font-size:15px;color:#222;font-weight:normal;justify-content:center;-webkit-text-stroke:0.4px #222;">44</div>
<div class="a" style="left:641px;top:891.03px;width:44.4px;height:1.0px;background:#888;"></div>
<div class="t" style="left:641px;top:891.53px;width:44.4px;height:14.47px;font-size:15px;color:#222;font-weight:normal;justify-content:center;-webkit-text-stroke:0.4px #222;">54</div>
<div class="t" style="left:685.4px;top:631.0px;width:44.1px;height:14.47px;font-size:15px;color:#222;font-weight:normal;justify-content:center;-webkit-text-stroke:0.4px #222;">26</div>
<div class="a" style="left:685.4px;top:644.97px;width:44.1px;height:1.0px;background:#888;"></div>
<div class="t" style="left:685.4px;top:645.47px;width:44.1px;height:14.47px;font-size:15px;color:#222;font-weight:normal;justify-content:center;-webkit-text-stroke:0.4px #222;">32</div>
<div class="a" style="left:685.4px;top:659.45px;width:44.1px;height:1.0px;background:#888;"></div>
<div class="t" style="left:685.4px;top:659.95px;width:44.1px;height:14.47px;font-size:15px;color:#222;font-weight:normal;justify-content:center;-webkit-text-stroke:0.4px #222;">28</div>
<div class="a" style="left:685.4px;top:673.92px;width:44.1px;height:1.0px;background:#888;"></div>
<div class="t" style="left:685.4px;top:674.42px;width:44.1px;height:14.47px;font-size:15px;color:#222;font-weight:normal;justify-content:center;-webkit-text-stroke:0.4px #222;">36</div>
<div class="a" style="left:685.4px;top:688.39px;width:44.1px;height:1.0px;background:#888;"></div>
<div class="t" style="left:685.4px;top:688.89px;width:44.1px;height:14.47px;font-size:15px;color:#222;font-weight:normal;justify-content:center;-webkit-text-stroke:0.4px #222;">32</div>
<div class="a" style="left:685.4px;top:702.87px;width:44.1px;height:1.0px;background:#888;"></div>
<div class="t" style="left:685.4px;top:703.37px;width:44.1px;height:14.47px;font-size:15px;color:#222;font-weight:normal;justify-content:center;-webkit-text-stroke:0.4px #222;">40</div>
<div class="a" style="left:685.4px;top:717.34px;width:44.1px;height:1.0px;background:#888;"></div>
<div class="t" style="left:685.4px;top:717.84px;width:44.1px;height:14.47px;font-size:15px;color:#222;font-weight:normal;justify-content:center;-webkit-text-stroke:0.4px #222;">36</div>
<div class="a" style="left:685.4px;top:731.82px;width:44.1px;height:1.0px;background:#888;"></div>
<div class="t" style="left:685.4px;top:732.32px;width:44.1px;height:14.47px;font-size:15px;color:#222;font-weight:normal;justify-content:center;-webkit-text-stroke:0.4px #222;">38</div>
<div class="a" style="left:685.4px;top:746.29px;width:44.1px;height:1.0px;background:#888;"></div>
<div class="t" style="left:685.4px;top:746.79px;width:44.1px;height:14.47px;font-size:15px;color:#222;font-weight:normal;justify-content:center;-webkit-text-stroke:0.4px #222;">40</div>
<div class="a" style="left:685.4px;top:760.76px;width:44.1px;height:1.0px;background:#888;"></div>
<div class="t" style="left:685.4px;top:761.26px;width:44.1px;height:14.47px;font-size:15px;color:#222;font-weight:normal;justify-content:center;-webkit-text-stroke:0.4px #222;">42</div>
<div class="a" style="left:685.4px;top:775.24px;width:44.1px;height:1.0px;background:#888;"></div>
<div class="t" style="left:685.4px;top:775.74px;width:44.1px;height:14.47px;font-size:15px;color:#222;font-weight:normal;justify-content:center;-webkit-text-stroke:0.4px #222;">44</div>
<div class="a" style="left:685.4px;top:789.71px;width:44.1px;height:1.0px;background:#888;"></div>
<div class="t" style="left:685.4px;top:790.21px;width:44.1px;height:14.47px;font-size:15px;color:#222;font-weight:normal;justify-content:center;-webkit-text-stroke:0.4px #222;">46</div>
<div class="a" style="left:685.4px;top:804.18px;width:44.1px;height:1.0px;background:#888;"></div>
<div class="t" style="left:685.4px;top:804.68px;width:44.1px;height:14.47px;font-size:15px;color:#222;font-weight:normal;justify-content:center;-webkit-text-stroke:0.4px #222;">48</div>
<div class="a" style="left:685.4px;top:818.66px;width:44.1px;height:1.0px;background:#888;"></div>
<div class="t" style="left:685.4px;top:819.16px;width:44.1px;height:14.47px;font-size:15px;color:#222;font-weight:normal;justify-content:center;-webkit-text-stroke:0.4px #222;">50</div>
<div class="a" style="left:685.4px;top:833.13px;width:44.1px;height:1.0px;background:#888;"></div>
<div class="t" style="left:685.4px;top:833.63px;width:44.1px;height:14.47px;font-size:15px;color:#222;font-weight:normal;justify-content:center;-webkit-text-stroke:0.4px #222;">54</div>
<div class="a" style="left:685.4px;top:847.61px;width:44.1px;height:1.0px;background:#888;"></div>
<div class="t" style="left:685.4px;top:848.11px;width:44.1px;height:14.47px;font-size:15px;color:#222;font-weight:normal;justify-content:center;-webkit-text-stroke:0.4px #222;">62</div>
<div class="a" style="left:685.4px;top:862.08px;width:44.1px;height:1.0px;background:#888;"></div>
<div class="t" style="left:685.4px;top:862.58px;width:44.1px;height:14.47px;font-size:15px;color:#222;font-weight:normal;justify-content:center;-webkit-text-stroke:0.4px #222;">70</div>
<div class="a" style="left:685.4px;top:876.55px;width:44.1px;height:1.0px;background:#888;"></div>
<div class="t" style="left:685.4px;top:877.05px;width:44.1px;height:14.47px;font-size:15px;color:#222;font-weight:normal;justify-content:center;-webkit-text-stroke:0.4px #222;">80</div>
<div class="a" style="left:685.4px;top:891.03px;width:44.1px;height:1.0px;background:#888;"></div>
<div class="t" style="left:685.4px;top:891.53px;width:44.1px;height:14.47px;font-size:15px;color:#222;font-weight:normal;justify-content:center;-webkit-text-stroke:0.4px #222;">90</div>
<div class="t" style="left:729.5px;top:638.5px;width:43.5px;height:173.68px;font-size:15px;color:#222;font-weight:normal;justify-content:center;-webkit-text-stroke:0.4px #222;">10</div>
<div class="a" style="left:729.5px;top:804.18px;width:43.5px;height:1.0px;background:#888;"></div>
<div class="t" style="left:729.5px;top:804.68px;width:43.5px;height:101.32px;font-size:15px;color:#222;font-weight:normal;justify-content:center;-webkit-text-stroke:0.4px #222;">15</div>
<div class="t" style="left:773px;top:631.0px;width:44px;height:43.42px;font-size:15px;color:#222;font-weight:normal;justify-content:center;-webkit-text-stroke:0.4px #222;">M4</div>
<div class="a" style="left:773px;top:673.92px;width:44px;height:1.0px;background:#888;"></div>
<div class="t" style="left:773px;top:674.42px;width:44px;height:14.47px;font-size:15px;color:#222;font-weight:normal;justify-content:center;-webkit-text-stroke:0.4px #222;">M5</div>
<div class="a" style="left:773px;top:688.39px;width:44px;height:1.0px;background:#888;"></div>
<div class="t" style="left:773px;top:688.89px;width:44px;height:14.47px;font-size:15px;color:#222;font-weight:normal;justify-content:center;-webkit-text-stroke:0.4px #222;">M4</div>
<div class="a" style="left:773px;top:702.87px;width:44px;height:1.0px;background:#888;"></div>
<div class="t" style="left:773px;top:703.37px;width:44px;height:101.32px;font-size:15px;color:#222;font-weight:normal;justify-content:center;-webkit-text-stroke:0.4px #222;">M5</div>
<div class="a" style="left:773px;top:804.18px;width:44px;height:1.0px;background:#888;"></div>
<div class="t" style="left:773px;top:804.68px;width:44px;height:43.42px;font-size:15px;color:#222;font-weight:normal;justify-content:center;-webkit-text-stroke:0.4px #222;">M6</div>
<div class="a" style="left:773px;top:847.61px;width:44px;height:1.0px;background:#888;"></div>
<div class="t" style="left:773px;top:848.11px;width:44px;height:28.95px;font-size:15px;color:#222;font-weight:normal;justify-content:center;-webkit-text-stroke:0.4px #222;">M8</div>
<div class="a" style="left:773px;top:876.55px;width:44px;height:1.0px;background:#888;"></div>
<div class="t" style="left:773px;top:877.05px;width:44px;height:28.95px;font-size:15px;color:#222;font-weight:normal;justify-content:center;-webkit-text-stroke:0.4px #222;">M10</div>
<div class="t" style="left:817px;top:631.0px;width:43.5px;height:43.42px;font-size:15px;color:#222;font-weight:normal;justify-content:center;-webkit-text-stroke:0.4px #222;">6.5</div>
<div class="a" style="left:817px;top:673.92px;width:43.5px;height:1.0px;background:#888;"></div>
<div class="t" style="left:817px;top:674.42px;width:43.5px;height:14.47px;font-size:15px;color:#222;font-weight:normal;justify-content:center;-webkit-text-stroke:0.4px #222;">8</div>
<div class="a" style="left:817px;top:688.39px;width:43.5px;height:1.0px;background:#888;"></div>
<div class="t" style="left:817px;top:688.89px;width:43.5px;height:14.47px;font-size:15px;color:#222;font-weight:normal;justify-content:center;-webkit-text-stroke:0.4px #222;">6.5</div>
<div class="a" style="left:817px;top:702.87px;width:43.5px;height:1.0px;background:#888;"></div>
<div class="t" style="left:817px;top:703.37px;width:43.5px;height:101.32px;font-size:15px;color:#222;font-weight:normal;justify-content:center;-webkit-text-stroke:0.4px #222;">8</div>
<div class="a" style="left:817px;top:804.18px;width:43.5px;height:1.0px;background:#888;"></div>
<div class="t" style="left:817px;top:804.68px;width:43.5px;height:43.42px;font-size:15px;color:#222;font-weight:normal;justify-content:center;-webkit-text-stroke:0.4px #222;">9.5</div>
<div class="a" style="left:817px;top:847.61px;width:43.5px;height:1.0px;background:#888;"></div>
<div class="t" style="left:817px;top:848.11px;width:43.5px;height:28.95px;font-size:15px;color:#222;font-weight:normal;justify-content:center;-webkit-text-stroke:0.4px #222;">11</div>
<div class="a" style="left:817px;top:876.55px;width:43.5px;height:1.0px;background:#888;"></div>
<div class="t" style="left:817px;top:877.05px;width:43.5px;height:28.95px;font-size:15px;color:#222;font-weight:normal;justify-content:center;-webkit-text-stroke:0.4px #222;">14</div>
<div class="t" style="left:860.5px;top:631.0px;width:43.5px;height:43.42px;font-size:15px;color:#222;font-weight:normal;justify-content:center;-webkit-text-stroke:0.4px #222;">3.5</div>
<div class="a" style="left:860.5px;top:673.92px;width:43.5px;height:1.0px;background:#888;"></div>
<div class="t" style="left:860.5px;top:674.42px;width:43.5px;height:14.47px;font-size:15px;color:#222;font-weight:normal;justify-content:center;-webkit-text-stroke:0.4px #222;">4.3</div>
<div class="a" style="left:860.5px;top:688.39px;width:43.5px;height:1.0px;background:#888;"></div>
<div class="t" style="left:860.5px;top:688.89px;width:43.5px;height:14.47px;font-size:15px;color:#222;font-weight:normal;justify-content:center;-webkit-text-stroke:0.4px #222;">3.5</div>
<div class="a" style="left:860.5px;top:702.87px;width:43.5px;height:1.0px;background:#888;"></div>
<div class="t" style="left:860.5px;top:703.37px;width:43.5px;height:101.32px;font-size:15px;color:#222;font-weight:normal;justify-content:center;-webkit-text-stroke:0.4px #222;">4.3</div>
<div class="a" style="left:860.5px;top:804.18px;width:43.5px;height:1.0px;background:#888;"></div>
<div class="t" style="left:860.5px;top:804.68px;width:43.5px;height:43.42px;font-size:15px;color:#222;font-weight:normal;justify-content:center;-webkit-text-stroke:0.4px #222;">5.2</div>
<div class="a" style="left:860.5px;top:847.61px;width:43.5px;height:1.0px;background:#888;"></div>
<div class="t" style="left:860.5px;top:848.11px;width:43.5px;height:28.95px;font-size:15px;color:#222;font-weight:normal;justify-content:center;-webkit-text-stroke:0.4px #222;">6.8</div>
<div class="a" style="left:860.5px;top:876.55px;width:43.5px;height:1.0px;background:#888;"></div>
<div class="t" style="left:860.5px;top:877.05px;width:43.5px;height:28.95px;font-size:15px;color:#222;font-weight:normal;justify-content:center;-webkit-text-stroke:0.4px #222;">8.6</div>
<div class="t" style="left:904px;top:631.0px;width:44px;height:43.42px;font-size:15px;color:#222;font-weight:normal;justify-content:center;-webkit-text-stroke:0.4px #222;">3.5</div>
<div class="a" style="left:904px;top:673.92px;width:44px;height:1.0px;background:#888;"></div>
<div class="t" style="left:904px;top:674.42px;width:44px;height:14.47px;font-size:15px;color:#222;font-weight:normal;justify-content:center;-webkit-text-stroke:0.4px #222;">4.4</div>
<div class="a" style="left:904px;top:688.39px;width:44px;height:1.0px;background:#888;"></div>
<div class="t" style="left:904px;top:688.89px;width:44px;height:14.47px;font-size:15px;color:#222;font-weight:normal;justify-content:center;-webkit-text-stroke:0.4px #222;">3.5</div>
<div class="a" style="left:904px;top:702.87px;width:44px;height:1.0px;background:#888;"></div>
<div class="t" style="left:904px;top:703.37px;width:44px;height:101.32px;font-size:15px;color:#222;font-weight:normal;justify-content:center;-webkit-text-stroke:0.4px #222;">4.4</div>
<div class="a" style="left:904px;top:804.18px;width:44px;height:1.0px;background:#888;"></div>
<div class="t" style="left:904px;top:804.68px;width:44px;height:43.42px;font-size:15px;color:#222;font-weight:normal;justify-content:center;-webkit-text-stroke:0.4px #222;">5.4</div>
<div class="a" style="left:904px;top:847.61px;width:44px;height:1.0px;background:#888;"></div>
<div class="t" style="left:904px;top:848.11px;width:44px;height:28.95px;font-size:15px;color:#222;font-weight:normal;justify-content:center;-webkit-text-stroke:0.4px #222;">6.5</div>
<div class="a" style="left:904px;top:876.55px;width:44px;height:1.0px;background:#888;"></div>
<div class="t" style="left:904px;top:877.05px;width:44px;height:28.95px;font-size:15px;color:#222;font-weight:normal;justify-content:center;-webkit-text-stroke:0.4px #222;">9</div>
<div class="t" style="left:948px;top:631.0px;width:44.5px;height:14.47px;font-size:15px;color:#222;font-weight:normal;justify-content:center;-webkit-text-stroke:0.4px #222;">17</div>
<div class="a" style="left:948px;top:644.97px;width:44.5px;height:1.0px;background:#888;"></div>
<div class="t" style="left:948px;top:645.47px;width:44.5px;height:14.47px;font-size:15px;color:#222;font-weight:normal;justify-content:center;-webkit-text-stroke:0.4px #222;">23</div>
<div class="a" style="left:948px;top:659.45px;width:44.5px;height:1.0px;background:#888;"></div>
<div class="t" style="left:948px;top:659.95px;width:44.5px;height:14.47px;font-size:15px;color:#222;font-weight:normal;justify-content:center;-webkit-text-stroke:0.4px #222;">19</div>
<div class="a" style="left:948px;top:673.92px;width:44.5px;height:1.0px;background:#888;"></div>
<div class="t" style="left:948px;top:674.42px;width:44.5px;height:14.47px;font-size:15px;color:#222;font-weight:normal;justify-content:center;-webkit-text-stroke:0.4px #222;">26</div>
<div class="a" style="left:948px;top:688.39px;width:44.5px;height:1.0px;background:#888;"></div>
<div class="t" style="left:948px;top:688.89px;width:44.5px;height:14.47px;font-size:15px;color:#222;font-weight:normal;justify-content:center;-webkit-text-stroke:0.4px #222;">23</div>
<div class="a" style="left:948px;top:702.87px;width:44.5px;height:1.0px;background:#888;"></div>
<div class="t" style="left:948px;top:703.37px;width:44.5px;height:14.47px;font-size:15px;color:#222;font-weight:normal;justify-content:center;-webkit-text-stroke:0.4px #222;">30</div>
<div class="a" style="left:948px;top:717.34px;width:44.5px;height:1.0px;background:#888;"></div>
<div class="t" style="left:948px;top:717.84px;width:44.5px;height:14.47px;font-size:15px;color:#222;font-weight:normal;justify-content:center;-webkit-text-stroke:0.4px #222;">26</div>
<div class="a" style="left:948px;top:731.82px;width:44.5px;height:1.0px;background:#888;"></div>
<div class="t" style="left:948px;top:732.32px;width:44.5px;height:14.47px;font-size:15px;color:#222;font-weight:normal;justify-content:center;-webkit-text-stroke:0.4px #222;">27</div>
<div class="a" style="left:948px;top:746.29px;width:44.5px;height:1.0px;background:#888;"></div>
<div class="t" style="left:948px;top:746.79px;width:44.5px;height:14.47px;font-size:15px;color:#222;font-weight:normal;justify-content:center;-webkit-text-stroke:0.4px #222;">30</div>
<div class="a" style="left:948px;top:760.76px;width:44.5px;height:1.0px;background:#888;"></div>
<div class="t" style="left:948px;top:761.26px;width:44.5px;height:14.47px;font-size:15px;color:#222;font-weight:normal;justify-content:center;-webkit-text-stroke:0.4px #222;">31</div>
<div class="a" style="left:948px;top:775.24px;width:44.5px;height:1.0px;background:#888;"></div>
<div class="t" style="left:948px;top:775.74px;width:44.5px;height:14.47px;font-size:15px;color:#222;font-weight:normal;justify-content:center;-webkit-text-stroke:0.4px #222;">32</div>
<div class="a" style="left:948px;top:789.71px;width:44.5px;height:1.0px;background:#888;"></div>
<div class="t" style="left:948px;top:790.21px;width:44.5px;height:14.47px;font-size:15px;color:#222;font-weight:normal;justify-content:center;-webkit-text-stroke:0.4px #222;">34</div>
<div class="a" style="left:948px;top:804.18px;width:44.5px;height:1.0px;background:#888;"></div>
<div class="t" style="left:948px;top:804.68px;width:44.5px;height:14.47px;font-size:15px;color:#222;font-weight:normal;justify-content:center;-webkit-text-stroke:0.4px #222;">36</div>
<div class="a" style="left:948px;top:818.66px;width:44.5px;height:1.0px;background:#888;"></div>
<div class="t" style="left:948px;top:819.16px;width:44.5px;height:14.47px;font-size:15px;color:#222;font-weight:normal;justify-content:center;-webkit-text-stroke:0.4px #222;">39</div>
<div class="a" style="left:948px;top:833.13px;width:44.5px;height:1.0px;background:#888;"></div>
<div class="t" style="left:948px;top:833.63px;width:44.5px;height:14.47px;font-size:15px;color:#222;font-weight:normal;justify-content:center;-webkit-text-stroke:0.4px #222;">42</div>
<div class="a" style="left:948px;top:847.61px;width:44.5px;height:1.0px;background:#888;"></div>
<div class="t" style="left:948px;top:848.11px;width:44.5px;height:14.47px;font-size:15px;color:#222;font-weight:normal;justify-content:center;-webkit-text-stroke:0.4px #222;">49</div>
<div class="a" style="left:948px;top:862.08px;width:44.5px;height:1.0px;background:#888;"></div>
<div class="t" style="left:948px;top:862.58px;width:44.5px;height:14.47px;font-size:15px;color:#222;font-weight:normal;justify-content:center;-webkit-text-stroke:0.4px #222;">55</div>
<div class="a" style="left:948px;top:876.55px;width:44.5px;height:1.0px;background:#888;"></div>
<div class="t" style="left:948px;top:877.05px;width:44.5px;height:14.47px;font-size:15px;color:#222;font-weight:normal;justify-content:center;-webkit-text-stroke:0.4px #222;">63</div>
<div class="a" style="left:948px;top:891.03px;width:44.5px;height:1.0px;background:#888;"></div>
<div class="t" style="left:948px;top:891.53px;width:44.5px;height:14.47px;font-size:15px;color:#222;font-weight:normal;justify-content:center;-webkit-text-stroke:0.4px #222;">73</div>
<div class="a" style="left:82.5px;top:631px;width:1.0px;height:275px;background:#888;"></div>
<div class="a" style="left:134.0px;top:601.5px;width:2.0px;height:304.5px;background:#111;"></div>
<div class="a" style="left:187.0px;top:631px;width:1.0px;height:275px;background:#888;"></div>
<div class="a" style="left:239.5px;top:631px;width:1.0px;height:275px;background:#888;"></div>
<div class="a" style="left:303.5px;top:631px;width:1.0px;height:275px;background:#888;"></div>
<div class="a" style="left:368.5px;top:631px;width:1.0px;height:275px;background:#888;"></div>
<div class="a" style="left:640.5px;top:631px;width:1.0px;height:275px;background:#888;"></div>
<div class="a" style="left:684.9px;top:631px;width:1.0px;height:275px;background:#888;"></div>
<div class="a" style="left:729.0px;top:631px;width:1.0px;height:275px;background:#888;"></div>
<div class="a" style="left:772.5px;top:631px;width:1.0px;height:275px;background:#888;"></div>
<div class="a" style="left:816.5px;top:631px;width:1.0px;height:275px;background:#888;"></div>
<div class="a" style="left:860.0px;top:631px;width:1.0px;height:275px;background:#888;"></div>
<div class="a" style="left:903.5px;top:631px;width:1.0px;height:275px;background:#888;"></div>
<div class="a" style="left:947.5px;top:631px;width:1.0px;height:275px;background:#888;"></div>
<div class="a" style="left:82.5px;top:616px;width:1.0px;height:15px;background:#fff;"></div>
<div class="a" style="left:83.5px;top:616px;width:1.0px;height:15px;background:#bbb;"></div>
<div class="a" style="left:187.0px;top:601.5px;width:1.0px;height:29.5px;background:#fff;"></div>
<div class="a" style="left:188.0px;top:601.5px;width:1.0px;height:29.5px;background:#bbb;"></div>
<div class="a" style="left:239.5px;top:601.5px;width:1.0px;height:29.5px;background:#fff;"></div>
<div class="a" style="left:240.5px;top:601.5px;width:1.0px;height:29.5px;background:#bbb;"></div>
<div class="a" style="left:303.5px;top:616px;width:1.0px;height:15px;background:#fff;"></div>
<div class="a" style="left:304.5px;top:616px;width:1.0px;height:15px;background:#bbb;"></div>
<div class="a" style="left:368.5px;top:601.5px;width:1.0px;height:29.5px;background:#fff;"></div>
<div class="a" style="left:369.5px;top:601.5px;width:1.0px;height:29.5px;background:#bbb;"></div>
<div class="a" style="left:640.5px;top:601.5px;width:1.0px;height:29.5px;background:#fff;"></div>
<div class="a" style="left:641.5px;top:601.5px;width:1.0px;height:29.5px;background:#bbb;"></div>
<div class="a" style="left:684.9px;top:601.5px;width:1.0px;height:29.5px;background:#fff;"></div>
<div class="a" style="left:685.9px;top:601.5px;width:1.0px;height:29.5px;background:#bbb;"></div>
<div class="a" style="left:729.0px;top:601.5px;width:1.0px;height:29.5px;background:#fff;"></div>
<div class="a" style="left:730.0px;top:601.5px;width:1.0px;height:29.5px;background:#bbb;"></div>
<div class="a" style="left:772.5px;top:601.5px;width:1.0px;height:29.5px;background:#fff;"></div>
<div class="a" style="left:773.5px;top:601.5px;width:1.0px;height:29.5px;background:#bbb;"></div>
<div class="a" style="left:816.5px;top:601.5px;width:1.0px;height:29.5px;background:#fff;"></div>
<div class="a" style="left:817.5px;top:601.5px;width:1.0px;height:29.5px;background:#bbb;"></div>
<div class="a" style="left:860.0px;top:601.5px;width:1.0px;height:29.5px;background:#fff;"></div>
<div class="a" style="left:861.0px;top:601.5px;width:1.0px;height:29.5px;background:#bbb;"></div>
<div class="a" style="left:903.5px;top:601.5px;width:1.0px;height:29.5px;background:#fff;"></div>
<div class="a" style="left:904.5px;top:601.5px;width:1.0px;height:29.5px;background:#bbb;"></div>
<div class="a" style="left:947.5px;top:601.5px;width:1.0px;height:29.5px;background:#fff;"></div>
<div class="a" style="left:948.5px;top:601.5px;width:1.0px;height:29.5px;background:#bbb;"></div>
<div class="a" style="left:5.5px;top:615.5px;width:129.5px;height:1.0px;background:#fff;"></div>
<div class="a" style="left:5.5px;top:616.5px;width:129.5px;height:1.0px;background:#bbb;"></div>
<div class="a" style="left:240px;top:615.5px;width:129px;height:1.0px;background:#fff;"></div>
<div class="a" style="left:240px;top:616.5px;width:129px;height:1.0px;background:#bbb;"></div>
<div class="a" style="left:5.5px;top:600.4px;width:987.0px;height:2.2px;background:#111;"></div>
<div class="a" style="left:5.5px;top:629.9px;width:987.0px;height:2.2px;background:#111;"></div>
<div class="a" style="left:5.5px;top:904.9px;width:987.0px;height:2.2px;background:#111;"></div>
<div class="t" style="left:5.5px;top:601.5px;width:129.5px;height:14.5px;font-size:14.5px;color:#222;font-weight:normal;justify-content:center;-webkit-text-stroke:0.35px #222;">型号</div>
<div class="t" style="left:5.5px;top:616px;width:77.5px;height:15px;font-size:14.5px;color:#222;font-weight:normal;justify-content:center;-webkit-text-stroke:0.35px #222;"><span class="ci" style="width:13.0px;height:13.0px;background:#e4007f;font-size:8.450000000000001px;">1</span>代码</div>
<div class="t" style="left:83px;top:616px;width:52px;height:15px;font-size:14.5px;color:#222;font-weight:normal;justify-content:center;-webkit-text-stroke:0.35px #222;"><span class="ci" style="width:13.0px;height:13.0px;background:#e4007f;font-size:8.450000000000001px;">2</span>规格</div>
<div class="t" style="left:135px;top:601.5px;width:105px;height:29.5px;font-size:16px;color:#222;font-weight:normal;justify-content:center;-webkit-text-stroke:0.35px #222;"><span class="ci" style="width:12px;height:12px;background:#e4007f;font-size:7.800000000000001px;">3</span>D<span style="font-size:11px;position:relative;top:2px">g6</span></div>
<div class="t" style="left:240px;top:601.5px;width:129px;height:14.5px;font-size:14.5px;color:#222;font-weight:normal;justify-content:center;-webkit-text-stroke:0.35px #222;">最小单位1</div>
<div class="t" style="left:240px;top:616px;width:64px;height:15px;font-size:15.5px;color:#222;font-weight:normal;justify-content:center;-webkit-text-stroke:0.35px #222;"><span class="ci" style="width:13.0px;height:13.0px;background:#e4007f;font-size:8.450000000000001px;">4</span>Y</div>
<div class="t" style="left:304px;top:616px;width:65px;height:15px;font-size:15.5px;color:#222;font-weight:normal;justify-content:center;-webkit-text-stroke:0.35px #222;"><span class="ci" style="width:13.0px;height:13.0px;background:#e4007f;font-size:8.450000000000001px;">5</span>F</div>
<div class="t" style="left:369px;top:601.5px;width:272px;height:29.5px;font-size:16px;color:#222;font-weight:normal;justify-content:center;-webkit-text-stroke:0.35px #222;"><span class="ci" style="width:12px;height:12px;background:#e4007f;font-size:7.800000000000001px;">6</span>M</div>
<div class="t" style="left:5.5px;top:733px;width:77.5px;height:18px;font-size:14.4px;color:#222;font-weight:normal;justify-content:center;-webkit-text-stroke-width:0.4px;">圆法兰型</div>
<div class="t" style="left:5.5px;top:758px;width:77.5px;height:18px;font-size:14px;color:#0a82cc;font-weight:bold;justify-content:center;-webkit-text-stroke-width:0.2px;-webkit-text-stroke-width:0.3px;">NRCFH</div>
<div class="t" style="left:5.5px;top:774.5px;width:77.5px;height:18.0px;font-size:14px;color:#0a82cc;font-weight:bold;justify-content:center;-webkit-text-stroke-width:0.2px;-webkit-text-stroke-width:0.3px;">NRCFJ</div>
<div class="t" style="left:5.5px;top:790.5px;width:77.5px;height:18.0px;font-size:14px;color:#0a82cc;font-weight:bold;justify-content:center;-webkit-text-stroke-width:0.2px;-webkit-text-stroke-width:0.3px;">NRCFK</div>
<div class="t" style="left:381.5px;top:631.0px;width:40.0px;height:28.95px;font-size:14.5px;color:#0a82cc;font-weight:bold;justify-content:flex-start;-webkit-text-stroke-width:0.2px;">4</div>
<div class="t" style="left:395.5px;top:631.0px;width:40.0px;height:28.95px;font-size:14.5px;color:#0a82cc;font-weight:bold;justify-content:flex-start;-webkit-text-stroke-width:0.2px;">5</div>
<div class="t" style="left:409.3px;top:631.0px;width:40.0px;height:28.95px;font-size:14.5px;color:#0a82cc;font-weight:bold;justify-content:flex-start;-webkit-text-stroke-width:0.2px;">6</div>
<div class="t" style="left:395.5px;top:659.95px;width:40.0px;height:28.95px;font-size:14.5px;color:#0a82cc;font-weight:bold;justify-content:flex-start;-webkit-text-stroke-width:0.2px;">5</div>
<div class="t" style="left:409.3px;top:659.95px;width:40.0px;height:28.95px;font-size:14.5px;color:#0a82cc;font-weight:bold;justify-content:flex-start;-webkit-text-stroke-width:0.2px;">6</div>
<div class="t" style="left:423.8px;top:659.95px;width:40.0px;height:28.95px;font-size:14.5px;color:#0a82cc;font-weight:bold;justify-content:flex-start;-webkit-text-stroke-width:0.2px;">8</div>
<div class="t" style="left:409.3px;top:688.89px;width:40.0px;height:28.95px;font-size:14.5px;color:#0a82cc;font-weight:bold;justify-content:flex-start;-webkit-text-stroke-width:0.2px;">6</div>
<div class="t" style="left:423.8px;top:688.89px;width:40.0px;height:28.95px;font-size:14.5px;color:#0a82cc;font-weight:bold;justify-content:flex-start;-webkit-text-stroke-width:0.2px;">8</div>
<div class="t" style="left:437.8px;top:688.89px;width:40.0px;height:28.95px;font-size:14.5px;color:#0a82cc;font-weight:bold;justify-content:flex-start;-webkit-text-stroke-width:0.2px;">10</div>
<div class="t" style="left:409.3px;top:717.84px;width:40.0px;height:28.95px;font-size:14.5px;color:#0a82cc;font-weight:bold;justify-content:flex-start;-webkit-text-stroke-width:0.2px;">6</div>
<div class="t" style="left:423.8px;top:717.84px;width:40.0px;height:28.95px;font-size:14.5px;color:#0a82cc;font-weight:bold;justify-content:flex-start;-webkit-text-stroke-width:0.2px;">8</div>
<div class="t" style="left:437.8px;top:717.84px;width:40.0px;height:28.95px;font-size:14.5px;color:#0a82cc;font-weight:bold;justify-content:flex-start;-webkit-text-stroke-width:0.2px;">10</div>
<div class="t" style="left:460.5px;top:717.84px;width:40.0px;height:28.95px;font-size:14.5px;color:#0a82cc;font-weight:bold;justify-content:flex-start;-webkit-text-stroke-width:0.2px;">12</div>
<div class="t" style="left:423.8px;top:746.79px;width:40.0px;height:28.95px;font-size:14.5px;color:#0a82cc;font-weight:bold;justify-content:flex-start;-webkit-text-stroke-width:0.2px;">8</div>
<div class="t" style="left:437.8px;top:746.79px;width:40.0px;height:28.95px;font-size:14.5px;color:#0a82cc;font-weight:bold;justify-content:flex-start;-webkit-text-stroke-width:0.2px;">10</div>
<div class="t" style="left:460.5px;top:746.79px;width:40.0px;height:28.95px;font-size:14.5px;color:#0a82cc;font-weight:bold;justify-content:flex-start;-webkit-text-stroke-width:0.2px;">12</div>
<div class="t" style="left:481.5px;top:746.79px;width:40.0px;height:28.95px;font-size:14.5px;color:#0a82cc;font-weight:bold;justify-content:flex-start;-webkit-text-stroke-width:0.2px;"><span style="color:#222">(</span>15<span style="color:#222">)</span></div>
<div class="t" style="left:437.8px;top:775.74px;width:40.0px;height:28.95px;font-size:14.5px;color:#0a82cc;font-weight:bold;justify-content:flex-start;-webkit-text-stroke-width:0.2px;">10</div>
<div class="t" style="left:460.5px;top:775.74px;width:40.0px;height:28.95px;font-size:14.5px;color:#0a82cc;font-weight:bold;justify-content:flex-start;-webkit-text-stroke-width:0.2px;">12</div>
<div class="t" style="left:481.5px;top:775.74px;width:40.0px;height:28.95px;font-size:14.5px;color:#0a82cc;font-weight:bold;justify-content:flex-start;-webkit-text-stroke-width:0.2px;"><span style="color:#222">(</span>15<span style="color:#222">)</span></div>
<div class="t" style="left:514.5px;top:775.74px;width:40.0px;height:28.95px;font-size:14.5px;color:#0a82cc;font-weight:bold;justify-content:flex-start;-webkit-text-stroke-width:0.2px;">16</div>
<div class="t" style="left:437.8px;top:804.68px;width:40.0px;height:28.95px;font-size:14.5px;color:#0a82cc;font-weight:bold;justify-content:flex-start;-webkit-text-stroke-width:0.2px;">10</div>
<div class="t" style="left:460.5px;top:804.68px;width:40.0px;height:28.95px;font-size:14.5px;color:#0a82cc;font-weight:bold;justify-content:flex-start;-webkit-text-stroke-width:0.2px;">12</div>
<div class="t" style="left:481.5px;top:804.68px;width:40.0px;height:28.95px;font-size:14.5px;color:#0a82cc;font-weight:bold;justify-content:flex-start;-webkit-text-stroke-width:0.2px;"><span style="color:#222">(</span>15<span style="color:#222">)</span></div>
<div class="t" style="left:514.5px;top:804.68px;width:40.0px;height:28.95px;font-size:14.5px;color:#0a82cc;font-weight:bold;justify-content:flex-start;-webkit-text-stroke-width:0.2px;">16</div>
<div class="t" style="left:535px;top:804.68px;width:40px;height:28.95px;font-size:14.5px;color:#0a82cc;font-weight:bold;justify-content:flex-start;-webkit-text-stroke-width:0.2px;">20</div>
<div class="t" style="left:437.8px;top:833.63px;width:40.0px;height:14.47px;font-size:14.5px;color:#0a82cc;font-weight:bold;justify-content:flex-start;-webkit-text-stroke-width:0.2px;">10</div>
<div class="t" style="left:460.5px;top:833.63px;width:40.0px;height:14.47px;font-size:14.5px;color:#0a82cc;font-weight:bold;justify-content:flex-start;-webkit-text-stroke-width:0.2px;">12</div>
<div class="t" style="left:481.5px;top:833.63px;width:40.0px;height:14.47px;font-size:14.5px;color:#0a82cc;font-weight:bold;justify-content:flex-start;-webkit-text-stroke-width:0.2px;"><span style="color:#222">(</span>15<span style="color:#222">)</span></div>
<div class="t" style="left:514.5px;top:833.63px;width:40.0px;height:14.47px;font-size:14.5px;color:#0a82cc;font-weight:bold;justify-content:flex-start;-webkit-text-stroke-width:0.2px;">16</div>
<div class="t" style="left:535px;top:833.63px;width:40px;height:14.47px;font-size:14.5px;color:#0a82cc;font-weight:bold;justify-content:flex-start;-webkit-text-stroke-width:0.2px;">20</div>
<div class="t" style="left:557px;top:833.63px;width:40px;height:14.47px;font-size:14.5px;color:#0a82cc;font-weight:bold;justify-content:flex-start;-webkit-text-stroke-width:0.2px;">24</div>
<div class="t" style="left:580px;top:833.63px;width:40px;height:14.47px;font-size:14.5px;color:#0a82cc;font-weight:bold;justify-content:flex-start;-webkit-text-stroke-width:0.2px;"><span style="color:#222">(</span>25<span style="color:#222">)</span></div>
<div class="t" style="left:460.5px;top:848.11px;width:40.0px;height:57.89px;font-size:14.5px;color:#0a82cc;font-weight:bold;justify-content:flex-start;-webkit-text-stroke-width:0.2px;">12</div>
<div class="t" style="left:481.5px;top:848.11px;width:40.0px;height:57.89px;font-size:14.5px;color:#0a82cc;font-weight:bold;justify-content:flex-start;-webkit-text-stroke-width:0.2px;"><span style="color:#222">(</span>15<span style="color:#222">)</span></div>
<div class="t" style="left:514.5px;top:848.11px;width:40.0px;height:57.89px;font-size:14.5px;color:#0a82cc;font-weight:bold;justify-content:flex-start;-webkit-text-stroke-width:0.2px;">16</div>
<div class="t" style="left:535px;top:848.11px;width:40px;height:57.89px;font-size:14.5px;color:#0a82cc;font-weight:bold;justify-content:flex-start;-webkit-text-stroke-width:0.2px;">20</div>
<div class="t" style="left:557px;top:848.11px;width:40px;height:57.89px;font-size:14.5px;color:#0a82cc;font-weight:bold;justify-content:flex-start;-webkit-text-stroke-width:0.2px;">24</div>
<div class="t" style="left:580px;top:848.11px;width:40px;height:57.89px;font-size:14.5px;color:#0a82cc;font-weight:bold;justify-content:flex-start;-webkit-text-stroke-width:0.2px;"><span style="color:#222">(</span>25<span style="color:#222">)</span></div>
<div class="t" style="left:611.5px;top:848.11px;width:40.0px;height:57.89px;font-size:14.5px;color:#0a82cc;font-weight:bold;justify-content:flex-start;-webkit-text-stroke-width:0.2px;">30</div>
<div class="t" style="left:641px;top:601.5px;width:44.4px;height:29.5px;font-size:16px;color:#222;font-weight:normal;justify-content:center;">V</div>
<div class="t" style="left:685.4px;top:601.5px;width:44.1px;height:29.5px;font-size:16px;color:#222;font-weight:normal;justify-content:center;">H</div>
<div class="t" style="left:729.5px;top:601.5px;width:43.5px;height:29.5px;font-size:16px;color:#222;font-weight:normal;justify-content:center;">T</div>
<div class="t" style="left:773px;top:601.5px;width:44px;height:29.5px;font-size:16px;color:#222;font-weight:normal;justify-content:center;">N</div>
<div class="t" style="left:817px;top:601.5px;width:43.5px;height:29.5px;font-size:16px;color:#222;font-weight:normal;justify-content:center;">d<span style="font-size:11px">1</span></div>
<div class="t" style="left:860.5px;top:601.5px;width:43.5px;height:29.5px;font-size:16px;color:#222;font-weight:normal;justify-content:center;">d<span style="font-size:11px">2</span></div>
<div class="t" style="left:904px;top:601.5px;width:44px;height:29.5px;font-size:16px;color:#222;font-weight:normal;justify-content:center;">h</div>
<div class="t" style="left:948px;top:601.5px;width:44.5px;height:29.5px;font-size:14.5px;color:#222;font-weight:normal;justify-content:center;letter-spacing:-0.5px;">P.C.D</div>
<div class="t" style="left:5px;top:908px;width:595px;height:18px;font-size:14.1px;color:#222;font-weight:normal;justify-content:flex-start;-webkit-text-stroke-width:0.45px;"><span class="nt">!</span>本表中（）内<b>M</b>尺寸为细牙螺纹，选型时请将<b>M</b>变更为<b>MC</b>。</div>
<div class="a" style="left:5.5px;top:938.5px;width:987.0px;height:29.5px;background:#eeeeee;"></div>
<div class="a" style="left:83px;top:982.74px;width:909.5px;height:14.74px;background:#fdeff1;"></div>
<div class="a" style="left:83px;top:1012.21px;width:909.5px;height:14.74px;background:#fdeff1;"></div>
<div class="a" style="left:83px;top:1041.69px;width:909.5px;height:14.74px;background:#fdeff1;"></div>
<div class="a" style="left:83px;top:1071.16px;width:909.5px;height:14.74px;background:#fdeff1;"></div>
<div class="a" style="left:83px;top:1100.64px;width:909.5px;height:14.74px;background:#fdeff1;"></div>
<div class="a" style="left:83px;top:1130.11px;width:909.5px;height:14.74px;background:#fdeff1;"></div>
<div class="a" style="left:83px;top:1159.59px;width:909.5px;height:14.74px;background:#fdeff1;"></div>
<div class="a" style="left:83px;top:1189.06px;width:909.5px;height:14.74px;background:#fdeff1;"></div>
<div class="t" style="left:83px;top:968.0px;width:35px;height:14.74px;font-size:14.5px;color:#0a82cc;font-weight:bold;justify-content:flex-end;-webkit-text-stroke-width:0.2px;">6</div>
<div class="a" style="left:83px;top:982.24px;width:52px;height:1.0px;background:#888;"></div>
<div class="t" style="left:83px;top:982.74px;width:35px;height:14.74px;font-size:14.5px;color:#0a82cc;font-weight:bold;justify-content:flex-end;-webkit-text-stroke-width:0.2px;">8</div>
<div class="a" style="left:83px;top:996.98px;width:52px;height:1.0px;background:#888;"></div>
<div class="t" style="left:83px;top:997.48px;width:35px;height:14.74px;font-size:14.5px;color:#0a82cc;font-weight:bold;justify-content:flex-end;-webkit-text-stroke-width:0.2px;">10</div>
<div class="a" style="left:83px;top:1011.71px;width:52px;height:1.0px;background:#888;"></div>
<div class="t" style="left:83px;top:1012.21px;width:35px;height:14.74px;font-size:14.5px;color:#0a82cc;font-weight:bold;justify-content:flex-end;-webkit-text-stroke-width:0.2px;">12</div>
<div class="a" style="left:83px;top:1026.45px;width:52px;height:1.0px;background:#888;"></div>
<div class="t" style="left:83px;top:1026.95px;width:35px;height:14.74px;font-size:14.5px;color:#0a82cc;font-weight:bold;justify-content:flex-end;-webkit-text-stroke-width:0.2px;">13</div>
<div class="a" style="left:83px;top:1041.19px;width:52px;height:1.0px;background:#888;"></div>
<div class="t" style="left:83px;top:1041.69px;width:35px;height:14.74px;font-size:14.5px;color:#0a82cc;font-weight:bold;justify-content:flex-end;-webkit-text-stroke-width:0.2px;">15</div>
<div class="a" style="left:83px;top:1055.92px;width:52px;height:1.0px;background:#888;"></div>
<div class="t" style="left:83px;top:1056.42px;width:35px;height:14.74px;font-size:14.5px;color:#0a82cc;font-weight:bold;justify-content:flex-end;-webkit-text-stroke-width:0.2px;">16</div>
<div class="a" style="left:83px;top:1070.66px;width:52px;height:1.0px;background:#888;"></div>
<div class="t" style="left:83px;top:1071.16px;width:35px;height:14.74px;font-size:14.5px;color:#0a82cc;font-weight:bold;justify-content:flex-end;-webkit-text-stroke-width:0.2px;">17</div>
<div class="a" style="left:83px;top:1085.4px;width:52px;height:1.0px;background:#888;"></div>
<div class="t" style="left:83px;top:1085.9px;width:35px;height:14.74px;font-size:14.5px;color:#0a82cc;font-weight:bold;justify-content:flex-end;-webkit-text-stroke-width:0.2px;">18</div>
<div class="a" style="left:83px;top:1100.14px;width:52px;height:1.0px;background:#888;"></div>
<div class="t" style="left:83px;top:1100.64px;width:35px;height:14.74px;font-size:14.5px;color:#0a82cc;font-weight:bold;justify-content:flex-end;-webkit-text-stroke-width:0.2px;">20</div>
<div class="a" style="left:83px;top:1114.88px;width:52px;height:1.0px;background:#888;"></div>
<div class="t" style="left:83px;top:1115.38px;width:35px;height:14.74px;font-size:14.5px;color:#0a82cc;font-weight:bold;justify-content:flex-end;-webkit-text-stroke-width:0.2px;">22</div>
<div class="a" style="left:83px;top:1129.61px;width:52px;height:1.0px;background:#888;"></div>
<div class="t" style="left:83px;top:1130.11px;width:35px;height:14.74px;font-size:14.5px;color:#0a82cc;font-weight:bold;justify-content:flex-end;-webkit-text-stroke-width:0.2px;">25</div>
<div class="a" style="left:83px;top:1144.35px;width:52px;height:1.0px;background:#888;"></div>
<div class="t" style="left:83px;top:1144.85px;width:35px;height:14.74px;font-size:14.5px;color:#0a82cc;font-weight:bold;justify-content:flex-end;-webkit-text-stroke-width:0.2px;">30</div>
<div class="a" style="left:83px;top:1159.09px;width:52px;height:1.0px;background:#888;"></div>
<div class="t" style="left:83px;top:1159.59px;width:35px;height:14.74px;font-size:14.5px;color:#0a82cc;font-weight:bold;justify-content:flex-end;-webkit-text-stroke-width:0.2px;">35</div>
<div class="a" style="left:83px;top:1173.83px;width:52px;height:1.0px;background:#888;"></div>
<div class="t" style="left:83px;top:1174.33px;width:35px;height:14.74px;font-size:14.5px;color:#0a82cc;font-weight:bold;justify-content:flex-end;-webkit-text-stroke-width:0.2px;">40</div>
<div class="a" style="left:83px;top:1188.56px;width:52px;height:1.0px;background:#888;"></div>
<div class="t" style="left:83px;top:1189.06px;width:35px;height:14.74px;font-size:14.5px;color:#0a82cc;font-weight:bold;justify-content:flex-end;-webkit-text-stroke-width:0.2px;">50</div>
<div class="t" style="left:135px;top:968.0px;width:36px;height:14.74px;font-size:15px;color:#222;font-weight:normal;justify-content:flex-end;-webkit-text-stroke:0.4px #222;">6</div>
<div class="a" style="left:135px;top:982.24px;width:52.5px;height:1.0px;background:#888;"></div>
<div class="t" style="left:135px;top:982.74px;width:36px;height:14.74px;font-size:15px;color:#222;font-weight:normal;justify-content:flex-end;-webkit-text-stroke:0.4px #222;">8</div>
<div class="a" style="left:135px;top:996.98px;width:52.5px;height:1.0px;background:#888;"></div>
<div class="t" style="left:135px;top:997.48px;width:36px;height:14.74px;font-size:15px;color:#222;font-weight:normal;justify-content:flex-end;-webkit-text-stroke:0.4px #222;">10</div>
<div class="a" style="left:135px;top:1011.71px;width:52.5px;height:1.0px;background:#888;"></div>
<div class="t" style="left:135px;top:1012.21px;width:36px;height:14.74px;font-size:15px;color:#222;font-weight:normal;justify-content:flex-end;-webkit-text-stroke:0.4px #222;">12</div>
<div class="a" style="left:135px;top:1026.45px;width:52.5px;height:1.0px;background:#888;"></div>
<div class="t" style="left:135px;top:1026.95px;width:36px;height:14.74px;font-size:15px;color:#222;font-weight:normal;justify-content:flex-end;-webkit-text-stroke:0.4px #222;">13</div>
<div class="a" style="left:135px;top:1041.19px;width:52.5px;height:1.0px;background:#888;"></div>
<div class="t" style="left:135px;top:1041.69px;width:36px;height:14.74px;font-size:15px;color:#222;font-weight:normal;justify-content:flex-end;-webkit-text-stroke:0.4px #222;">15</div>
<div class="a" style="left:135px;top:1055.92px;width:52.5px;height:1.0px;background:#888;"></div>
<div class="t" style="left:135px;top:1056.42px;width:36px;height:14.74px;font-size:15px;color:#222;font-weight:normal;justify-content:flex-end;-webkit-text-stroke:0.4px #222;">16</div>
<div class="a" style="left:135px;top:1070.66px;width:52.5px;height:1.0px;background:#888;"></div>
<div class="t" style="left:135px;top:1071.16px;width:36px;height:14.74px;font-size:15px;color:#222;font-weight:normal;justify-content:flex-end;-webkit-text-stroke:0.4px #222;">17</div>
<div class="a" style="left:135px;top:1085.4px;width:52.5px;height:1.0px;background:#888;"></div>
<div class="t" style="left:135px;top:1085.9px;width:36px;height:14.74px;font-size:15px;color:#222;font-weight:normal;justify-content:flex-end;-webkit-text-stroke:0.4px #222;">18</div>
<div class="a" style="left:135px;top:1100.14px;width:52.5px;height:1.0px;background:#888;"></div>
<div class="t" style="left:135px;top:1100.64px;width:36px;height:14.74px;font-size:15px;color:#222;font-weight:normal;justify-content:flex-end;-webkit-text-stroke:0.4px #222;">20</div>
<div class="a" style="left:135px;top:1114.88px;width:52.5px;height:1.0px;background:#888;"></div>
<div class="t" style="left:135px;top:1115.38px;width:36px;height:14.74px;font-size:15px;color:#222;font-weight:normal;justify-content:flex-end;-webkit-text-stroke:0.4px #222;">22</div>
<div class="a" style="left:135px;top:1129.61px;width:52.5px;height:1.0px;background:#888;"></div>
<div class="t" style="left:135px;top:1130.11px;width:36px;height:14.74px;font-size:15px;color:#222;font-weight:normal;justify-content:flex-end;-webkit-text-stroke:0.4px #222;">25</div>
<div class="a" style="left:135px;top:1144.35px;width:52.5px;height:1.0px;background:#888;"></div>
<div class="t" style="left:135px;top:1144.85px;width:36px;height:14.74px;font-size:15px;color:#222;font-weight:normal;justify-content:flex-end;-webkit-text-stroke:0.4px #222;">30</div>
<div class="a" style="left:135px;top:1159.09px;width:52.5px;height:1.0px;background:#888;"></div>
<div class="t" style="left:135px;top:1159.59px;width:36px;height:14.74px;font-size:15px;color:#222;font-weight:normal;justify-content:flex-end;-webkit-text-stroke:0.4px #222;">35</div>
<div class="a" style="left:135px;top:1173.83px;width:52.5px;height:1.0px;background:#888;"></div>
<div class="t" style="left:135px;top:1174.33px;width:36px;height:14.74px;font-size:15px;color:#222;font-weight:normal;justify-content:flex-end;-webkit-text-stroke:0.4px #222;">40</div>
<div class="a" style="left:135px;top:1188.56px;width:52.5px;height:1.0px;background:#888;"></div>
<div class="t" style="left:135px;top:1189.06px;width:36px;height:14.74px;font-size:15px;color:#222;font-weight:normal;justify-content:flex-end;-webkit-text-stroke:0.4px #222;">50</div>
<div class="t" style="left:187.5px;top:968.0px;width:52.5px;height:14.74px;font-size:9.5px;color:#222;font-weight:bold;justify-content:center;-webkit-text-stroke-width:0.2px;line-height:7px;text-align:center;">-0.004<br>-0.012</div>
<div class="a" style="left:187.5px;top:982.24px;width:52.5px;height:1.0px;background:#888;"></div>
<div class="t" style="left:187.5px;top:982.74px;width:52.5px;height:29.48px;font-size:10.5px;color:#222;font-weight:bold;justify-content:center;-webkit-text-stroke-width:0.2px;line-height:9px;text-align:center;">-0.005<br>-0.014</div>
<div class="a" style="left:187.5px;top:1011.71px;width:52.5px;height:1.0px;background:#888;"></div>
<div class="t" style="left:187.5px;top:1012.21px;width:52.5px;height:88.43px;font-size:10.5px;color:#222;font-weight:bold;justify-content:center;-webkit-text-stroke-width:0.2px;line-height:9px;text-align:center;">-0.006<br>-0.017</div>
<div class="a" style="left:187.5px;top:1100.14px;width:52.5px;height:1.0px;background:#888;"></div>
<div class="t" style="left:187.5px;top:1100.64px;width:52.5px;height:58.95px;font-size:10.5px;color:#222;font-weight:bold;justify-content:center;-webkit-text-stroke-width:0.2px;line-height:9px;text-align:center;">-0.007<br>-0.020</div>
<div class="a" style="left:187.5px;top:1159.09px;width:52.5px;height:1.0px;background:#888;"></div>
<div class="t" style="left:187.5px;top:1159.59px;width:52.5px;height:44.21px;font-size:10.5px;color:#222;font-weight:bold;justify-content:center;-webkit-text-stroke-width:0.2px;line-height:9px;text-align:center;">-0.009<br>-0.025</div>
<div class="t" style="left:240px;top:968.0px;width:64px;height:132.64px;font-size:15px;color:#0a82cc;font-weight:bold;justify-content:center;-webkit-text-stroke-width:0.2px;">12~65</div>
<div class="a" style="left:240px;top:1100.14px;width:64px;height:1.0px;background:#888;"></div>
<div class="t" style="left:240px;top:1100.64px;width:64px;height:73.69px;font-size:15px;color:#0a82cc;font-weight:bold;justify-content:center;-webkit-text-stroke-width:0.2px;">17~80</div>
<div class="a" style="left:240px;top:1173.83px;width:64px;height:1.0px;background:#888;"></div>
<div class="t" style="left:240px;top:1174.33px;width:64px;height:29.47px;font-size:15px;color:#0a82cc;font-weight:bold;justify-content:center;-webkit-text-stroke-width:0.2px;">20~80</div>
<div class="t" style="left:304px;top:968.0px;width:65px;height:44.21px;font-size:15px;color:#0a82cc;font-weight:bold;justify-content:center;-webkit-text-stroke-width:0.2px;">5~110</div>
<div class="a" style="left:304px;top:1011.71px;width:65px;height:1.0px;background:#888;"></div>
<div class="t" style="left:304px;top:1005.71px;width:65px;height:191.59px;font-size:15px;color:#0a82cc;font-weight:bold;justify-content:center;-webkit-text-stroke-width:0.2px;">10~160</div>
<div class="a" style="left:369px;top:982.24px;width:272px;height:1.0px;background:#888;"></div>
<div class="a" style="left:369px;top:996.98px;width:272px;height:1.0px;background:#888;"></div>
<div class="a" style="left:369px;top:1011.71px;width:272px;height:1.0px;background:#888;"></div>
<div class="a" style="left:369px;top:1041.19px;width:272px;height:1.0px;background:#888;"></div>
<div class="a" style="left:369px;top:1070.66px;width:272px;height:1.0px;background:#888;"></div>
<div class="a" style="left:369px;top:1100.14px;width:272px;height:1.0px;background:#888;"></div>
<div class="a" style="left:369px;top:1129.61px;width:272px;height:1.0px;background:#888;"></div>
<div class="a" style="left:369px;top:1144.35px;width:272px;height:1.0px;background:#888;"></div>
<div class="t" style="left:641px;top:968.0px;width:39.7px;height:14.74px;font-size:15px;color:#222;font-weight:normal;justify-content:center;-webkit-text-stroke:0.4px #222;">8</div>
<div class="a" style="left:641px;top:982.24px;width:39.7px;height:1.0px;background:#888;"></div>
<div class="t" style="left:641px;top:982.74px;width:39.7px;height:14.74px;font-size:15px;color:#222;font-weight:normal;justify-content:center;-webkit-text-stroke:0.4px #222;">10</div>
<div class="a" style="left:641px;top:996.98px;width:39.7px;height:1.0px;background:#888;"></div>
<div class="t" style="left:641px;top:997.48px;width:39.7px;height:14.74px;font-size:15px;color:#222;font-weight:normal;justify-content:center;-webkit-text-stroke:0.4px #222;">13</div>
<div class="a" style="left:641px;top:1011.71px;width:39.7px;height:1.0px;background:#888;"></div>
<div class="t" style="left:641px;top:1012.21px;width:39.7px;height:14.74px;font-size:15px;color:#222;font-weight:normal;justify-content:center;-webkit-text-stroke:0.4px #222;">15</div>
<div class="a" style="left:641px;top:1026.45px;width:39.7px;height:1.0px;background:#888;"></div>
<div class="t" style="left:641px;top:1026.95px;width:39.7px;height:14.74px;font-size:15px;color:#222;font-weight:normal;justify-content:center;-webkit-text-stroke:0.4px #222;">16</div>
<div class="a" style="left:641px;top:1041.19px;width:39.7px;height:1.0px;background:#888;"></div>
<div class="t" style="left:641px;top:1041.69px;width:39.7px;height:14.74px;font-size:15px;color:#222;font-weight:normal;justify-content:center;-webkit-text-stroke:0.4px #222;">18</div>
<div class="a" style="left:641px;top:1055.92px;width:39.7px;height:1.0px;background:#888;"></div>
<div class="t" style="left:641px;top:1056.42px;width:39.7px;height:14.74px;font-size:15px;color:#222;font-weight:normal;justify-content:center;-webkit-text-stroke:0.4px #222;">19</div>
<div class="a" style="left:641px;top:1070.66px;width:39.7px;height:1.0px;background:#888;"></div>
<div class="t" style="left:641px;top:1071.16px;width:39.7px;height:14.74px;font-size:15px;color:#222;font-weight:normal;justify-content:center;-webkit-text-stroke:0.4px #222;">20</div>
<div class="a" style="left:641px;top:1085.4px;width:39.7px;height:1.0px;background:#888;"></div>
<div class="t" style="left:641px;top:1085.9px;width:39.7px;height:14.74px;font-size:15px;color:#222;font-weight:normal;justify-content:center;-webkit-text-stroke:0.4px #222;">21</div>
<div class="a" style="left:641px;top:1100.14px;width:39.7px;height:1.0px;background:#888;"></div>
<div class="t" style="left:641px;top:1100.64px;width:39.7px;height:14.74px;font-size:15px;color:#222;font-weight:normal;justify-content:center;-webkit-text-stroke:0.4px #222;">24</div>
<div class="a" style="left:641px;top:1114.88px;width:39.7px;height:1.0px;background:#888;"></div>
<div class="t" style="left:641px;top:1115.38px;width:39.7px;height:14.74px;font-size:15px;color:#222;font-weight:normal;justify-content:center;-webkit-text-stroke:0.4px #222;">26</div>
<div class="a" style="left:641px;top:1129.61px;width:39.7px;height:1.0px;background:#888;"></div>
<div class="t" style="left:641px;top:1130.11px;width:39.7px;height:14.74px;font-size:15px;color:#222;font-weight:normal;justify-content:center;-webkit-text-stroke:0.4px #222;">29</div>
<div class="a" style="left:641px;top:1144.35px;width:39.7px;height:1.0px;background:#888;"></div>
<div class="t" style="left:641px;top:1144.85px;width:39.7px;height:14.74px;font-size:15px;color:#222;font-weight:normal;justify-content:center;-webkit-text-stroke:0.4px #222;">34</div>
<div class="a" style="left:641px;top:1159.09px;width:39.7px;height:1.0px;background:#888;"></div>
<div class="t" style="left:641px;top:1159.59px;width:39.7px;height:14.74px;font-size:15px;color:#222;font-weight:normal;justify-content:center;-webkit-text-stroke:0.4px #222;">39</div>
<div class="a" style="left:641px;top:1173.83px;width:39.7px;height:1.0px;background:#888;"></div>
<div class="t" style="left:641px;top:1174.33px;width:39.7px;height:14.74px;font-size:15px;color:#222;font-weight:normal;justify-content:center;-webkit-text-stroke:0.4px #222;">44</div>
<div class="a" style="left:641px;top:1188.56px;width:39.7px;height:1.0px;background:#888;"></div>
<div class="t" style="left:641px;top:1189.06px;width:39.7px;height:14.74px;font-size:15px;color:#222;font-weight:normal;justify-content:center;-webkit-text-stroke:0.4px #222;">54</div>
<div class="t" style="left:680.7px;top:968.0px;width:38.9px;height:14.74px;font-size:15px;color:#222;font-weight:normal;justify-content:center;-webkit-text-stroke:0.4px #222;">26</div>
<div class="a" style="left:680.7px;top:982.24px;width:38.9px;height:1.0px;background:#888;"></div>
<div class="t" style="left:680.7px;top:982.74px;width:38.9px;height:14.74px;font-size:15px;color:#222;font-weight:normal;justify-content:center;-webkit-text-stroke:0.4px #222;">28</div>
<div class="a" style="left:680.7px;top:996.98px;width:38.9px;height:1.0px;background:#888;"></div>
<div class="t" style="left:680.7px;top:997.48px;width:38.9px;height:14.74px;font-size:15px;color:#222;font-weight:normal;justify-content:center;-webkit-text-stroke:0.4px #222;">32</div>
<div class="a" style="left:680.7px;top:1011.71px;width:38.9px;height:1.0px;background:#888;"></div>
<div class="t" style="left:680.7px;top:1012.21px;width:38.9px;height:14.74px;font-size:15px;color:#222;font-weight:normal;justify-content:center;-webkit-text-stroke:0.4px #222;">36</div>
<div class="a" style="left:680.7px;top:1026.45px;width:38.9px;height:1.0px;background:#888;"></div>
<div class="t" style="left:680.7px;top:1026.95px;width:38.9px;height:14.74px;font-size:15px;color:#222;font-weight:normal;justify-content:center;-webkit-text-stroke:0.4px #222;">38</div>
<div class="a" style="left:680.7px;top:1041.19px;width:38.9px;height:1.0px;background:#888;"></div>
<div class="t" style="left:680.7px;top:1041.69px;width:38.9px;height:14.74px;font-size:15px;color:#222;font-weight:normal;justify-content:center;-webkit-text-stroke:0.4px #222;">40</div>
<div class="a" style="left:680.7px;top:1055.92px;width:38.9px;height:1.0px;background:#888;"></div>
<div class="t" style="left:680.7px;top:1056.42px;width:38.9px;height:14.74px;font-size:15px;color:#222;font-weight:normal;justify-content:center;-webkit-text-stroke:0.4px #222;">42</div>
<div class="a" style="left:680.7px;top:1070.66px;width:38.9px;height:1.0px;background:#888;"></div>
<div class="t" style="left:680.7px;top:1071.16px;width:38.9px;height:14.74px;font-size:15px;color:#222;font-weight:normal;justify-content:center;-webkit-text-stroke:0.4px #222;">44</div>
<div class="a" style="left:680.7px;top:1085.4px;width:38.9px;height:1.0px;background:#888;"></div>
<div class="t" style="left:680.7px;top:1085.9px;width:38.9px;height:14.74px;font-size:15px;color:#222;font-weight:normal;justify-content:center;-webkit-text-stroke:0.4px #222;">46</div>
<div class="a" style="left:680.7px;top:1100.14px;width:38.9px;height:1.0px;background:#888;"></div>
<div class="t" style="left:680.7px;top:1100.64px;width:38.9px;height:14.74px;font-size:15px;color:#222;font-weight:normal;justify-content:center;-webkit-text-stroke:0.4px #222;">48</div>
<div class="a" style="left:680.7px;top:1114.88px;width:38.9px;height:1.0px;background:#888;"></div>
<div class="t" style="left:680.7px;top:1115.38px;width:38.9px;height:14.74px;font-size:15px;color:#222;font-weight:normal;justify-content:center;-webkit-text-stroke:0.4px #222;">50</div>
<div class="a" style="left:680.7px;top:1129.61px;width:38.9px;height:1.0px;background:#888;"></div>
<div class="t" style="left:680.7px;top:1130.11px;width:38.9px;height:14.74px;font-size:15px;color:#222;font-weight:normal;justify-content:center;-webkit-text-stroke:0.4px #222;">54</div>
<div class="a" style="left:680.7px;top:1144.35px;width:38.9px;height:1.0px;background:#888;"></div>
<div class="t" style="left:680.7px;top:1144.85px;width:38.9px;height:14.74px;font-size:15px;color:#222;font-weight:normal;justify-content:center;-webkit-text-stroke:0.4px #222;">62</div>
<div class="a" style="left:680.7px;top:1159.09px;width:38.9px;height:1.0px;background:#888;"></div>
<div class="t" style="left:680.7px;top:1159.59px;width:38.9px;height:14.74px;font-size:15px;color:#222;font-weight:normal;justify-content:center;-webkit-text-stroke:0.4px #222;">70</div>
<div class="a" style="left:680.7px;top:1173.83px;width:38.9px;height:1.0px;background:#888;"></div>
<div class="t" style="left:680.7px;top:1174.33px;width:38.9px;height:14.74px;font-size:15px;color:#222;font-weight:normal;justify-content:center;-webkit-text-stroke:0.4px #222;">80</div>
<div class="a" style="left:680.7px;top:1188.56px;width:38.9px;height:1.0px;background:#888;"></div>
<div class="t" style="left:680.7px;top:1189.06px;width:38.9px;height:14.74px;font-size:15px;color:#222;font-weight:normal;justify-content:center;-webkit-text-stroke:0.4px #222;">90</div>
<div class="t" style="left:719.6px;top:968.0px;width:38.9px;height:132.64px;font-size:15px;color:#222;font-weight:normal;justify-content:center;-webkit-text-stroke:0.4px #222;">10</div>
<div class="a" style="left:719.6px;top:1100.14px;width:38.9px;height:1.0px;background:#888;"></div>
<div class="t" style="left:719.6px;top:1100.64px;width:38.9px;height:103.16px;font-size:15px;color:#222;font-weight:normal;justify-content:center;-webkit-text-stroke:0.4px #222;">15</div>
<div class="t" style="left:758.5px;top:968.0px;width:38.9px;height:44.21px;font-size:15px;color:#222;font-weight:normal;justify-content:center;-webkit-text-stroke:0.4px #222;">M4</div>
<div class="a" style="left:758.5px;top:1011.71px;width:38.9px;height:1.0px;background:#888;"></div>
<div class="t" style="left:758.5px;top:1012.21px;width:38.9px;height:88.43px;font-size:15px;color:#222;font-weight:normal;justify-content:center;-webkit-text-stroke:0.4px #222;">M5</div>
<div class="a" style="left:758.5px;top:1100.14px;width:38.9px;height:1.0px;background:#888;"></div>
<div class="t" style="left:758.5px;top:1100.64px;width:38.9px;height:44.21px;font-size:15px;color:#222;font-weight:normal;justify-content:center;-webkit-text-stroke:0.4px #222;">M6</div>
<div class="a" style="left:758.5px;top:1144.35px;width:38.9px;height:1.0px;background:#888;"></div>
<div class="t" style="left:758.5px;top:1144.85px;width:38.9px;height:29.48px;font-size:15px;color:#222;font-weight:normal;justify-content:center;-webkit-text-stroke:0.4px #222;">M8</div>
<div class="a" style="left:758.5px;top:1173.83px;width:38.9px;height:1.0px;background:#888;"></div>
<div class="t" style="left:758.5px;top:1174.33px;width:38.9px;height:29.47px;font-size:15px;color:#222;font-weight:normal;justify-content:center;-webkit-text-stroke:0.4px #222;">M10</div>
<div class="t" style="left:797.4px;top:968.0px;width:38.9px;height:44.21px;font-size:15px;color:#222;font-weight:normal;justify-content:center;-webkit-text-stroke:0.4px #222;">6.5</div>
<div class="a" style="left:797.4px;top:1011.71px;width:38.9px;height:1.0px;background:#888;"></div>
<div class="t" style="left:797.4px;top:1012.21px;width:38.9px;height:88.43px;font-size:15px;color:#222;font-weight:normal;justify-content:center;-webkit-text-stroke:0.4px #222;">8</div>
<div class="a" style="left:797.4px;top:1100.14px;width:38.9px;height:1.0px;background:#888;"></div>
<div class="t" style="left:797.4px;top:1100.64px;width:38.9px;height:44.21px;font-size:15px;color:#222;font-weight:normal;justify-content:center;-webkit-text-stroke:0.4px #222;">9.5</div>
<div class="a" style="left:797.4px;top:1144.35px;width:38.9px;height:1.0px;background:#888;"></div>
<div class="t" style="left:797.4px;top:1144.85px;width:38.9px;height:29.48px;font-size:15px;color:#222;font-weight:normal;justify-content:center;-webkit-text-stroke:0.4px #222;">11</div>
<div class="a" style="left:797.4px;top:1173.83px;width:38.9px;height:1.0px;background:#888;"></div>
<div class="t" style="left:797.4px;top:1174.33px;width:38.9px;height:29.47px;font-size:15px;color:#222;font-weight:normal;justify-content:center;-webkit-text-stroke:0.4px #222;">14</div>
<div class="t" style="left:836.3px;top:968.0px;width:38.9px;height:44.21px;font-size:15px;color:#222;font-weight:normal;justify-content:center;-webkit-text-stroke:0.4px #222;">3.5</div>
<div class="a" style="left:836.3px;top:1011.71px;width:38.9px;height:1.0px;background:#888;"></div>
<div class="t" style="left:836.3px;top:1012.21px;width:38.9px;height:88.43px;font-size:15px;color:#222;font-weight:normal;justify-content:center;-webkit-text-stroke:0.4px #222;">4.3</div>
<div class="a" style="left:836.3px;top:1100.14px;width:38.9px;height:1.0px;background:#888;"></div>
<div class="t" style="left:836.3px;top:1100.64px;width:38.9px;height:44.21px;font-size:15px;color:#222;font-weight:normal;justify-content:center;-webkit-text-stroke:0.4px #222;">5.2</div>
<div class="a" style="left:836.3px;top:1144.35px;width:38.9px;height:1.0px;background:#888;"></div>
<div class="t" style="left:836.3px;top:1144.85px;width:38.9px;height:29.48px;font-size:15px;color:#222;font-weight:normal;justify-content:center;-webkit-text-stroke:0.4px #222;">6.8</div>
<div class="a" style="left:836.3px;top:1173.83px;width:38.9px;height:1.0px;background:#888;"></div>
<div class="t" style="left:836.3px;top:1174.33px;width:38.9px;height:29.47px;font-size:15px;color:#222;font-weight:normal;justify-content:center;-webkit-text-stroke:0.4px #222;">8.6</div>
<div class="t" style="left:875.2px;top:968.0px;width:38.9px;height:44.21px;font-size:15px;color:#222;font-weight:normal;justify-content:center;-webkit-text-stroke:0.4px #222;">3.5</div>
<div class="a" style="left:875.2px;top:1011.71px;width:38.9px;height:1.0px;background:#888;"></div>
<div class="t" style="left:875.2px;top:1012.21px;width:38.9px;height:88.43px;font-size:15px;color:#222;font-weight:normal;justify-content:center;-webkit-text-stroke:0.4px #222;">4.4</div>
<div class="a" style="left:875.2px;top:1100.14px;width:38.9px;height:1.0px;background:#888;"></div>
<div class="t" style="left:875.2px;top:1100.64px;width:38.9px;height:44.21px;font-size:15px;color:#222;font-weight:normal;justify-content:center;-webkit-text-stroke:0.4px #222;">5.4</div>
<div class="a" style="left:875.2px;top:1144.35px;width:38.9px;height:1.0px;background:#888;"></div>
<div class="t" style="left:875.2px;top:1144.85px;width:38.9px;height:29.48px;font-size:15px;color:#222;font-weight:normal;justify-content:center;-webkit-text-stroke:0.4px #222;">6.5</div>
<div class="a" style="left:875.2px;top:1173.83px;width:38.9px;height:1.0px;background:#888;"></div>
<div class="t" style="left:875.2px;top:1174.33px;width:38.9px;height:29.47px;font-size:15px;color:#222;font-weight:normal;justify-content:center;-webkit-text-stroke:0.4px #222;">9</div>
<div class="t" style="left:914.1px;top:968.0px;width:38.9px;height:14.74px;font-size:15px;color:#222;font-weight:normal;justify-content:center;-webkit-text-stroke:0.4px #222;">13</div>
<div class="a" style="left:914.1px;top:982.24px;width:38.9px;height:1.0px;background:#888;"></div>
<div class="t" style="left:914.1px;top:982.74px;width:38.9px;height:14.74px;font-size:15px;color:#222;font-weight:normal;justify-content:center;-webkit-text-stroke:0.4px #222;">14</div>
<div class="a" style="left:914.1px;top:996.98px;width:38.9px;height:1.0px;background:#888;"></div>
<div class="t" style="left:914.1px;top:997.48px;width:38.9px;height:14.74px;font-size:15px;color:#222;font-weight:normal;justify-content:center;-webkit-text-stroke:0.4px #222;">15</div>
<div class="a" style="left:914.1px;top:1011.71px;width:38.9px;height:1.0px;background:#888;"></div>
<div class="t" style="left:914.1px;top:1012.21px;width:38.9px;height:14.74px;font-size:15px;color:#222;font-weight:normal;justify-content:center;-webkit-text-stroke:0.4px #222;">19</div>
<div class="a" style="left:914.1px;top:1026.45px;width:38.9px;height:1.0px;background:#888;"></div>
<div class="t" style="left:914.1px;top:1026.95px;width:38.9px;height:14.74px;font-size:15px;color:#222;font-weight:normal;justify-content:center;-webkit-text-stroke:0.4px #222;">21</div>
<div class="a" style="left:914.1px;top:1041.19px;width:38.9px;height:1.0px;background:#888;"></div>
<div class="t" style="left:914.1px;top:1041.69px;width:38.9px;height:14.74px;font-size:15px;color:#222;font-weight:normal;justify-content:center;-webkit-text-stroke:0.4px #222;">23</div>
<div class="a" style="left:914.1px;top:1055.92px;width:38.9px;height:1.0px;background:#888;"></div>
<div class="t" style="left:914.1px;top:1056.42px;width:38.9px;height:14.74px;font-size:15px;color:#222;font-weight:normal;justify-content:center;-webkit-text-stroke:0.4px #222;">24</div>
<div class="a" style="left:914.1px;top:1070.66px;width:38.9px;height:1.0px;background:#888;"></div>
<div class="t" style="left:914.1px;top:1071.16px;width:38.9px;height:14.74px;font-size:15px;color:#222;font-weight:normal;justify-content:center;-webkit-text-stroke:0.4px #222;">27</div>
<div class="a" style="left:914.1px;top:1085.4px;width:38.9px;height:1.0px;background:#888;"></div>
<div class="t" style="left:914.1px;top:1085.9px;width:38.9px;height:14.74px;font-size:15px;color:#222;font-weight:normal;justify-content:center;-webkit-text-stroke:0.4px #222;">30</div>
<div class="a" style="left:914.1px;top:1100.14px;width:38.9px;height:1.0px;background:#888;"></div>
<div class="t" style="left:914.1px;top:1100.64px;width:38.9px;height:14.74px;font-size:15px;color:#222;font-weight:normal;justify-content:center;-webkit-text-stroke:0.4px #222;">31</div>
<div class="a" style="left:914.1px;top:1114.88px;width:38.9px;height:1.0px;background:#888;"></div>
<div class="t" style="left:914.1px;top:1115.38px;width:38.9px;height:14.74px;font-size:15px;color:#222;font-weight:normal;justify-content:center;-webkit-text-stroke:0.4px #222;">33</div>
<div class="a" style="left:914.1px;top:1129.61px;width:38.9px;height:1.0px;background:#888;"></div>
<div class="t" style="left:914.1px;top:1130.11px;width:38.9px;height:14.74px;font-size:15px;color:#222;font-weight:normal;justify-content:center;-webkit-text-stroke:0.4px #222;">37</div>
<div class="a" style="left:914.1px;top:1144.35px;width:38.9px;height:1.0px;background:#888;"></div>
<div class="t" style="left:914.1px;top:1144.85px;width:38.9px;height:14.74px;font-size:15px;color:#222;font-weight:normal;justify-content:center;-webkit-text-stroke:0.4px #222;">41</div>
<div class="a" style="left:914.1px;top:1159.09px;width:38.9px;height:1.0px;background:#888;"></div>
<div class="t" style="left:914.1px;top:1159.59px;width:38.9px;height:14.74px;font-size:15px;color:#222;font-weight:normal;justify-content:center;-webkit-text-stroke:0.4px #222;">49</div>
<div class="a" style="left:914.1px;top:1173.83px;width:38.9px;height:1.0px;background:#888;"></div>
<div class="t" style="left:914.1px;top:1174.33px;width:38.9px;height:14.74px;font-size:15px;color:#222;font-weight:normal;justify-content:center;-webkit-text-stroke:0.4px #222;">55</div>
<div class="a" style="left:914.1px;top:1188.56px;width:38.9px;height:1.0px;background:#888;"></div>
<div class="t" style="left:914.1px;top:1189.06px;width:38.9px;height:14.74px;font-size:15px;color:#222;font-weight:normal;justify-content:center;-webkit-text-stroke:0.4px #222;">69</div>
<div class="t" style="left:953px;top:968.0px;width:39.5px;height:14.74px;font-size:15px;color:#222;font-weight:normal;justify-content:center;-webkit-text-stroke:0.4px #222;">17</div>
<div class="a" style="left:953px;top:982.24px;width:39.5px;height:1.0px;background:#888;"></div>
<div class="t" style="left:953px;top:982.74px;width:39.5px;height:14.74px;font-size:15px;color:#222;font-weight:normal;justify-content:center;-webkit-text-stroke:0.4px #222;">19</div>
<div class="a" style="left:953px;top:996.98px;width:39.5px;height:1.0px;background:#888;"></div>
<div class="t" style="left:953px;top:997.48px;width:39.5px;height:14.74px;font-size:15px;color:#222;font-weight:normal;justify-content:center;-webkit-text-stroke:0.4px #222;">23</div>
<div class="a" style="left:953px;top:1011.71px;width:39.5px;height:1.0px;background:#888;"></div>
<div class="t" style="left:953px;top:1012.21px;width:39.5px;height:14.74px;font-size:15px;color:#222;font-weight:normal;justify-content:center;-webkit-text-stroke:0.4px #222;">26</div>
<div class="a" style="left:953px;top:1026.45px;width:39.5px;height:1.0px;background:#888;"></div>
<div class="t" style="left:953px;top:1026.95px;width:39.5px;height:14.74px;font-size:15px;color:#222;font-weight:normal;justify-content:center;-webkit-text-stroke:0.4px #222;">27</div>
<div class="a" style="left:953px;top:1041.19px;width:39.5px;height:1.0px;background:#888;"></div>
<div class="t" style="left:953px;top:1041.69px;width:39.5px;height:14.74px;font-size:15px;color:#222;font-weight:normal;justify-content:center;-webkit-text-stroke:0.4px #222;">30</div>
<div class="a" style="left:953px;top:1055.92px;width:39.5px;height:1.0px;background:#888;"></div>
<div class="t" style="left:953px;top:1056.42px;width:39.5px;height:14.74px;font-size:15px;color:#222;font-weight:normal;justify-content:center;-webkit-text-stroke:0.4px #222;">31</div>
<div class="a" style="left:953px;top:1070.66px;width:39.5px;height:1.0px;background:#888;"></div>
<div class="t" style="left:953px;top:1071.16px;width:39.5px;height:14.74px;font-size:15px;color:#222;font-weight:normal;justify-content:center;-webkit-text-stroke:0.4px #222;">32</div>
<div class="a" style="left:953px;top:1085.4px;width:39.5px;height:1.0px;background:#888;"></div>
<div class="t" style="left:953px;top:1085.9px;width:39.5px;height:14.74px;font-size:15px;color:#222;font-weight:normal;justify-content:center;-webkit-text-stroke:0.4px #222;">34</div>
<div class="a" style="left:953px;top:1100.14px;width:39.5px;height:1.0px;background:#888;"></div>
<div class="t" style="left:953px;top:1100.64px;width:39.5px;height:14.74px;font-size:15px;color:#222;font-weight:normal;justify-content:center;-webkit-text-stroke:0.4px #222;">36</div>
<div class="a" style="left:953px;top:1114.88px;width:39.5px;height:1.0px;background:#888;"></div>
<div class="t" style="left:953px;top:1115.38px;width:39.5px;height:14.74px;font-size:15px;color:#222;font-weight:normal;justify-content:center;-webkit-text-stroke:0.4px #222;">39</div>
<div class="a" style="left:953px;top:1129.61px;width:39.5px;height:1.0px;background:#888;"></div>
<div class="t" style="left:953px;top:1130.11px;width:39.5px;height:14.74px;font-size:15px;color:#222;font-weight:normal;justify-content:center;-webkit-text-stroke:0.4px #222;">42</div>
<div class="a" style="left:953px;top:1144.35px;width:39.5px;height:1.0px;background:#888;"></div>
<div class="t" style="left:953px;top:1144.85px;width:39.5px;height:14.74px;font-size:15px;color:#222;font-weight:normal;justify-content:center;-webkit-text-stroke:0.4px #222;">49</div>
<div class="a" style="left:953px;top:1159.09px;width:39.5px;height:1.0px;background:#888;"></div>
<div class="t" style="left:953px;top:1159.59px;width:39.5px;height:14.74px;font-size:15px;color:#222;font-weight:normal;justify-content:center;-webkit-text-stroke:0.4px #222;">55</div>
<div class="a" style="left:953px;top:1173.83px;width:39.5px;height:1.0px;background:#888;"></div>
<div class="t" style="left:953px;top:1174.33px;width:39.5px;height:14.74px;font-size:15px;color:#222;font-weight:normal;justify-content:center;-webkit-text-stroke:0.4px #222;">63</div>
<div class="a" style="left:953px;top:1188.56px;width:39.5px;height:1.0px;background:#888;"></div>
<div class="t" style="left:953px;top:1189.06px;width:39.5px;height:14.74px;font-size:15px;color:#222;font-weight:normal;justify-content:center;-webkit-text-stroke:0.4px #222;">73</div>
<div class="a" style="left:82.5px;top:968px;width:1.0px;height:235.8px;background:#888;"></div>
<div class="a" style="left:134.0px;top:938.5px;width:2.0px;height:265.3px;background:#111;"></div>
<div class="a" style="left:187.0px;top:968px;width:1.0px;height:235.8px;background:#888;"></div>
<div class="a" style="left:239.5px;top:968px;width:1.0px;height:235.8px;background:#888;"></div>
<div class="a" style="left:303.5px;top:968px;width:1.0px;height:235.8px;background:#888;"></div>
<div class="a" style="left:368.5px;top:968px;width:1.0px;height:235.8px;background:#888;"></div>
<div class="a" style="left:640.5px;top:968px;width:1.0px;height:235.8px;background:#888;"></div>
<div class="a" style="left:680.2px;top:968px;width:1.0px;height:235.8px;background:#888;"></div>
<div class="a" style="left:719.1px;top:968px;width:1.0px;height:235.8px;background:#888;"></div>
<div class="a" style="left:758.0px;top:968px;width:1.0px;height:235.8px;background:#888;"></div>
<div class="a" style="left:796.9px;top:968px;width:1.0px;height:235.8px;background:#888;"></div>
<div class="a" style="left:835.8px;top:968px;width:1.0px;height:235.8px;background:#888;"></div>
<div class="a" style="left:874.7px;top:968px;width:1.0px;height:235.8px;background:#888;"></div>
<div class="a" style="left:913.6px;top:968px;width:1.0px;height:235.8px;background:#888;"></div>
<div class="a" style="left:952.5px;top:968px;width:1.0px;height:235.8px;background:#888;"></div>
<div class="a" style="left:82.5px;top:952.5px;width:1.0px;height:15.5px;background:#fff;"></div>
<div class="a" style="left:83.5px;top:952.5px;width:1.0px;height:15.5px;background:#bbb;"></div>
<div class="a" style="left:187.0px;top:938.5px;width:1.0px;height:29.5px;background:#fff;"></div>
<div class="a" style="left:188.0px;top:938.5px;width:1.0px;height:29.5px;background:#bbb;"></div>
<div class="a" style="left:239.5px;top:938.5px;width:1.0px;height:29.5px;background:#fff;"></div>
<div class="a" style="left:240.5px;top:938.5px;width:1.0px;height:29.5px;background:#bbb;"></div>
<div class="a" style="left:303.5px;top:952.5px;width:1.0px;height:15.5px;background:#fff;"></div>
<div class="a" style="left:304.5px;top:952.5px;width:1.0px;height:15.5px;background:#bbb;"></div>
<div class="a" style="left:368.5px;top:938.5px;width:1.0px;height:29.5px;background:#fff;"></div>
<div class="a" style="left:369.5px;top:938.5px;width:1.0px;height:29.5px;background:#bbb;"></div>
<div class="a" style="left:640.5px;top:938.5px;width:1.0px;height:29.5px;background:#fff;"></div>
<div class="a" style="left:641.5px;top:938.5px;width:1.0px;height:29.5px;background:#bbb;"></div>
<div class="a" style="left:680.2px;top:938.5px;width:1.0px;height:29.5px;background:#fff;"></div>
<div class="a" style="left:681.2px;top:938.5px;width:1.0px;height:29.5px;background:#bbb;"></div>
<div class="a" style="left:719.1px;top:938.5px;width:1.0px;height:29.5px;background:#fff;"></div>
<div class="a" style="left:720.1px;top:938.5px;width:1.0px;height:29.5px;background:#bbb;"></div>
<div class="a" style="left:758.0px;top:938.5px;width:1.0px;height:29.5px;background:#fff;"></div>
<div class="a" style="left:759.0px;top:938.5px;width:1.0px;height:29.5px;background:#bbb;"></div>
<div class="a" style="left:796.9px;top:938.5px;width:1.0px;height:29.5px;background:#fff;"></div>
<div class="a" style="left:797.9px;top:938.5px;width:1.0px;height:29.5px;background:#bbb;"></div>
<div class="a" style="left:835.8px;top:938.5px;width:1.0px;height:29.5px;background:#fff;"></div>
<div class="a" style="left:836.8px;top:938.5px;width:1.0px;height:29.5px;background:#bbb;"></div>
<div class="a" style="left:874.7px;top:938.5px;width:1.0px;height:29.5px;background:#fff;"></div>
<div class="a" style="left:875.7px;top:938.5px;width:1.0px;height:29.5px;background:#bbb;"></div>
<div class="a" style="left:913.6px;top:938.5px;width:1.0px;height:29.5px;background:#fff;"></div>
<div class="a" style="left:914.6px;top:938.5px;width:1.0px;height:29.5px;background:#bbb;"></div>
<div class="a" style="left:952.5px;top:938.5px;width:1.0px;height:29.5px;background:#fff;"></div>
<div class="a" style="left:953.5px;top:938.5px;width:1.0px;height:29.5px;background:#bbb;"></div>
<div class="a" style="left:5.5px;top:952.0px;width:129.5px;height:1.0px;background:#fff;"></div>
<div class="a" style="left:5.5px;top:953.0px;width:129.5px;height:1.0px;background:#bbb;"></div>
<div class="a" style="left:240px;top:952.0px;width:129px;height:1.0px;background:#fff;"></div>
<div class="a" style="left:240px;top:953.0px;width:129px;height:1.0px;background:#bbb;"></div>
<div class="a" style="left:5.5px;top:937.4px;width:987.0px;height:2.2px;background:#111;"></div>
<div class="a" style="left:5.5px;top:966.9px;width:987.0px;height:2.2px;background:#111;"></div>
<div class="a" style="left:5.5px;top:1202.7px;width:987.0px;height:2.2px;background:#111;"></div>
<div class="t" style="left:5.5px;top:938.5px;width:129.5px;height:14.0px;font-size:14.5px;color:#222;font-weight:normal;justify-content:center;-webkit-text-stroke:0.35px #222;">型号</div>
<div class="t" style="left:5.5px;top:952.5px;width:77.5px;height:15.5px;font-size:14.5px;color:#222;font-weight:normal;justify-content:center;-webkit-text-stroke:0.35px #222;"><span class="ci" style="width:13.0px;height:13.0px;background:#e4007f;font-size:8.450000000000001px;">1</span>代码</div>
<div class="t" style="left:83px;top:952.5px;width:52px;height:15.5px;font-size:14.5px;color:#222;font-weight:normal;justify-content:center;-webkit-text-stroke:0.35px #222;"><span class="ci" style="width:13.0px;height:13.0px;background:#e4007f;font-size:8.450000000000001px;">2</span>规格</div>
<div class="t" style="left:135px;top:938.5px;width:105px;height:29.5px;font-size:16px;color:#222;font-weight:normal;justify-content:center;-webkit-text-stroke:0.35px #222;"><span class="ci" style="width:12px;height:12px;background:#e4007f;font-size:7.800000000000001px;">3</span>D<span style="font-size:11px;position:relative;top:2px">g6</span></div>
<div class="t" style="left:240px;top:938.5px;width:129px;height:14.0px;font-size:14.5px;color:#222;font-weight:normal;justify-content:center;-webkit-text-stroke:0.35px #222;">最小单位1</div>
<div class="t" style="left:240px;top:952.5px;width:64px;height:15.5px;font-size:15.5px;color:#222;font-weight:normal;justify-content:center;-webkit-text-stroke:0.35px #222;"><span class="ci" style="width:13.0px;height:13.0px;background:#e4007f;font-size:8.450000000000001px;">4</span>Y</div>
<div class="t" style="left:304px;top:952.5px;width:65px;height:15.5px;font-size:15.5px;color:#222;font-weight:normal;justify-content:center;-webkit-text-stroke:0.35px #222;"><span class="ci" style="width:13.0px;height:13.0px;background:#e4007f;font-size:8.450000000000001px;">5</span>F</div>
<div class="t" style="left:369px;top:938.5px;width:272px;height:29.5px;font-size:16px;color:#222;font-weight:normal;justify-content:center;-webkit-text-stroke:0.35px #222;"><span class="ci" style="width:12px;height:12px;background:#e4007f;font-size:7.800000000000001px;">6</span>M</div>
<div class="t" style="left:5.5px;top:1044px;width:77.5px;height:18px;font-size:14.4px;color:#222;font-weight:normal;justify-content:center;-webkit-text-stroke-width:0.4px;">对边</div>
<div class="t" style="left:5.5px;top:1063px;width:77.5px;height:18px;font-size:14.4px;color:#222;font-weight:normal;justify-content:center;-webkit-text-stroke-width:0.4px;">法兰型</div>
<div class="t" style="left:5.5px;top:1089px;width:77.5px;height:18px;font-size:14px;color:#0a82cc;font-weight:bold;justify-content:center;-webkit-text-stroke-width:0.2px;-webkit-text-stroke-width:0.3px;">NRCGH</div>
<div class="t" style="left:5.5px;top:1107px;width:77.5px;height:18px;font-size:14px;color:#0a82cc;font-weight:bold;justify-content:center;-webkit-text-stroke-width:0.2px;-webkit-text-stroke-width:0.3px;">NRCGJ</div>
<div class="t" style="left:381.5px;top:968.0px;width:40.0px;height:14.74px;font-size:14.5px;color:#0a82cc;font-weight:bold;justify-content:flex-start;-webkit-text-stroke-width:0.2px;">4</div>
<div class="t" style="left:395.5px;top:968.0px;width:40.0px;height:14.74px;font-size:14.5px;color:#0a82cc;font-weight:bold;justify-content:flex-start;-webkit-text-stroke-width:0.2px;">5</div>
<div class="t" style="left:409.3px;top:968.0px;width:40.0px;height:14.74px;font-size:14.5px;color:#0a82cc;font-weight:bold;justify-content:flex-start;-webkit-text-stroke-width:0.2px;">6</div>
<div class="t" style="left:395.5px;top:982.74px;width:40.0px;height:14.74px;font-size:14.5px;color:#0a82cc;font-weight:bold;justify-content:flex-start;-webkit-text-stroke-width:0.2px;">5</div>
<div class="t" style="left:409.3px;top:982.74px;width:40.0px;height:14.74px;font-size:14.5px;color:#0a82cc;font-weight:bold;justify-content:flex-start;-webkit-text-stroke-width:0.2px;">6</div>
<div class="t" style="left:423.8px;top:982.74px;width:40.0px;height:14.74px;font-size:14.5px;color:#0a82cc;font-weight:bold;justify-content:flex-start;-webkit-text-stroke-width:0.2px;">8</div>
<div class="t" style="left:409.3px;top:997.48px;width:40.0px;height:14.74px;font-size:14.5px;color:#0a82cc;font-weight:bold;justify-content:flex-start;-webkit-text-stroke-width:0.2px;">6</div>
<div class="t" style="left:423.8px;top:997.48px;width:40.0px;height:14.74px;font-size:14.5px;color:#0a82cc;font-weight:bold;justify-content:flex-start;-webkit-text-stroke-width:0.2px;">8</div>
<div class="t" style="left:437.8px;top:997.48px;width:40.0px;height:14.74px;font-size:14.5px;color:#0a82cc;font-weight:bold;justify-content:flex-start;-webkit-text-stroke-width:0.2px;">10</div>
<div class="t" style="left:409.3px;top:1012.21px;width:40.0px;height:29.48px;font-size:14.5px;color:#0a82cc;font-weight:bold;justify-content:flex-start;-webkit-text-stroke-width:0.2px;">6</div>
<div class="t" style="left:423.8px;top:1012.21px;width:40.0px;height:29.48px;font-size:14.5px;color:#0a82cc;font-weight:bold;justify-content:flex-start;-webkit-text-stroke-width:0.2px;">8</div>
<div class="t" style="left:437.8px;top:1012.21px;width:40.0px;height:29.48px;font-size:14.5px;color:#0a82cc;font-weight:bold;justify-content:flex-start;-webkit-text-stroke-width:0.2px;">10</div>
<div class="t" style="left:460.5px;top:1012.21px;width:40.0px;height:29.48px;font-size:14.5px;color:#0a82cc;font-weight:bold;justify-content:flex-start;-webkit-text-stroke-width:0.2px;">12</div>
<div class="t" style="left:423.8px;top:1041.69px;width:40.0px;height:29.47px;font-size:14.5px;color:#0a82cc;font-weight:bold;justify-content:flex-start;-webkit-text-stroke-width:0.2px;">8</div>
<div class="t" style="left:437.8px;top:1041.69px;width:40.0px;height:29.47px;font-size:14.5px;color:#0a82cc;font-weight:bold;justify-content:flex-start;-webkit-text-stroke-width:0.2px;">10</div>
<div class="t" style="left:460.5px;top:1041.69px;width:40.0px;height:29.47px;font-size:14.5px;color:#0a82cc;font-weight:bold;justify-content:flex-start;-webkit-text-stroke-width:0.2px;">12</div>
<div class="t" style="left:481.5px;top:1041.69px;width:40.0px;height:29.47px;font-size:14.5px;color:#0a82cc;font-weight:bold;justify-content:flex-start;-webkit-text-stroke-width:0.2px;"><span style="color:#222">(</span>15<span style="color:#222">)</span></div>
<div class="t" style="left:437.8px;top:1071.16px;width:40.0px;height:29.48px;font-size:14.5px;color:#0a82cc;font-weight:bold;justify-content:flex-start;-webkit-text-stroke-width:0.2px;">10</div>
<div class="t" style="left:460.5px;top:1071.16px;width:40.0px;height:29.48px;font-size:14.5px;color:#0a82cc;font-weight:bold;justify-content:flex-start;-webkit-text-stroke-width:0.2px;">12</div>
<div class="t" style="left:481.5px;top:1071.16px;width:40.0px;height:29.48px;font-size:14.5px;color:#0a82cc;font-weight:bold;justify-content:flex-start;-webkit-text-stroke-width:0.2px;"><span style="color:#222">(</span>15<span style="color:#222">)</span></div>
<div class="t" style="left:514.5px;top:1071.16px;width:40.0px;height:29.48px;font-size:14.5px;color:#0a82cc;font-weight:bold;justify-content:flex-start;-webkit-text-stroke-width:0.2px;">16</div>
<div class="t" style="left:437.8px;top:1100.64px;width:40.0px;height:29.47px;font-size:14.5px;color:#0a82cc;font-weight:bold;justify-content:flex-start;-webkit-text-stroke-width:0.2px;">10</div>
<div class="t" style="left:460.5px;top:1100.64px;width:40.0px;height:29.47px;font-size:14.5px;color:#0a82cc;font-weight:bold;justify-content:flex-start;-webkit-text-stroke-width:0.2px;">12</div>
<div class="t" style="left:481.5px;top:1100.64px;width:40.0px;height:29.47px;font-size:14.5px;color:#0a82cc;font-weight:bold;justify-content:flex-start;-webkit-text-stroke-width:0.2px;"><span style="color:#222">(</span>15<span style="color:#222">)</span></div>
<div class="t" style="left:514.5px;top:1100.64px;width:40.0px;height:29.47px;font-size:14.5px;color:#0a82cc;font-weight:bold;justify-content:flex-start;-webkit-text-stroke-width:0.2px;">16</div>
<div class="t" style="left:535px;top:1100.64px;width:40px;height:29.47px;font-size:14.5px;color:#0a82cc;font-weight:bold;justify-content:flex-start;-webkit-text-stroke-width:0.2px;">20</div>
<div class="t" style="left:437.8px;top:1130.11px;width:40.0px;height:14.74px;font-size:14.5px;color:#0a82cc;font-weight:bold;justify-content:flex-start;-webkit-text-stroke-width:0.2px;">10</div>
<div class="t" style="left:460.5px;top:1130.11px;width:40.0px;height:14.74px;font-size:14.5px;color:#0a82cc;font-weight:bold;justify-content:flex-start;-webkit-text-stroke-width:0.2px;">12</div>
<div class="t" style="left:481.5px;top:1130.11px;width:40.0px;height:14.74px;font-size:14.5px;color:#0a82cc;font-weight:bold;justify-content:flex-start;-webkit-text-stroke-width:0.2px;"><span style="color:#222">(</span>15<span style="color:#222">)</span></div>
<div class="t" style="left:514.5px;top:1130.11px;width:40.0px;height:14.74px;font-size:14.5px;color:#0a82cc;font-weight:bold;justify-content:flex-start;-webkit-text-stroke-width:0.2px;">16</div>
<div class="t" style="left:535px;top:1130.11px;width:40px;height:14.74px;font-size:14.5px;color:#0a82cc;font-weight:bold;justify-content:flex-start;-webkit-text-stroke-width:0.2px;">20</div>
<div class="t" style="left:557px;top:1130.11px;width:40px;height:14.74px;font-size:14.5px;color:#0a82cc;font-weight:bold;justify-content:flex-start;-webkit-text-stroke-width:0.2px;">24</div>
<div class="t" style="left:580px;top:1130.11px;width:40px;height:14.74px;font-size:14.5px;color:#0a82cc;font-weight:bold;justify-content:flex-start;-webkit-text-stroke-width:0.2px;"><span style="color:#222">(</span>25<span style="color:#222">)</span></div>
<div class="t" style="left:460.5px;top:1144.85px;width:40.0px;height:58.95px;font-size:14.5px;color:#0a82cc;font-weight:bold;justify-content:flex-start;-webkit-text-stroke-width:0.2px;">12</div>
<div class="t" style="left:481.5px;top:1144.85px;width:40.0px;height:58.95px;font-size:14.5px;color:#0a82cc;font-weight:bold;justify-content:flex-start;-webkit-text-stroke-width:0.2px;"><span style="color:#222">(</span>15<span style="color:#222">)</span></div>
<div class="t" style="left:514.5px;top:1144.85px;width:40.0px;height:58.95px;font-size:14.5px;color:#0a82cc;font-weight:bold;justify-content:flex-start;-webkit-text-stroke-width:0.2px;">16</div>
<div class="t" style="left:535px;top:1144.85px;width:40px;height:58.95px;font-size:14.5px;color:#0a82cc;font-weight:bold;justify-content:flex-start;-webkit-text-stroke-width:0.2px;">20</div>
<div class="t" style="left:557px;top:1144.85px;width:40px;height:58.95px;font-size:14.5px;color:#0a82cc;font-weight:bold;justify-content:flex-start;-webkit-text-stroke-width:0.2px;">24</div>
<div class="t" style="left:580px;top:1144.85px;width:40px;height:58.95px;font-size:14.5px;color:#0a82cc;font-weight:bold;justify-content:flex-start;-webkit-text-stroke-width:0.2px;"><span style="color:#222">(</span>25<span style="color:#222">)</span></div>
<div class="t" style="left:611.5px;top:1144.85px;width:40.0px;height:58.95px;font-size:14.5px;color:#0a82cc;font-weight:bold;justify-content:flex-start;-webkit-text-stroke-width:0.2px;">30</div>
<div class="t" style="left:641px;top:938.5px;width:39.7px;height:29.5px;font-size:16px;color:#222;font-weight:normal;justify-content:center;">V</div>
<div class="t" style="left:680.7px;top:938.5px;width:38.9px;height:29.5px;font-size:16px;color:#222;font-weight:normal;justify-content:center;">H</div>
<div class="t" style="left:719.6px;top:938.5px;width:38.9px;height:29.5px;font-size:16px;color:#222;font-weight:normal;justify-content:center;">T</div>
<div class="t" style="left:758.5px;top:938.5px;width:38.9px;height:29.5px;font-size:16px;color:#222;font-weight:normal;justify-content:center;">N</div>
<div class="t" style="left:797.4px;top:938.5px;width:38.9px;height:29.5px;font-size:16px;color:#222;font-weight:normal;justify-content:center;">d<span style="font-size:11px">1</span></div>
<div class="t" style="left:836.3px;top:938.5px;width:38.9px;height:29.5px;font-size:16px;color:#222;font-weight:normal;justify-content:center;">d<span style="font-size:11px">2</span></div>
<div class="t" style="left:875.2px;top:938.5px;width:38.9px;height:29.5px;font-size:16px;color:#222;font-weight:normal;justify-content:center;">h</div>
<div class="t" style="left:914.1px;top:938.5px;width:38.9px;height:29.5px;font-size:16px;color:#222;font-weight:normal;justify-content:center;">W</div>
<div class="t" style="left:953px;top:938.5px;width:39.5px;height:29.5px;font-size:16px;color:#222;font-weight:normal;justify-content:center;">A</div>
<div class="t" style="left:5px;top:1205px;width:595px;height:18px;font-size:14.1px;color:#222;font-weight:normal;justify-content:flex-start;-webkit-text-stroke-width:0.45px;"><span class="nt">!</span>本表中（）内<b>M</b>尺寸为细牙螺纹，选型时请将<b>M</b>变更为<b>MC</b>。</div>
<div class="a" style="left:5.4px;top:1240.3px;width:41.1px;height:39.7px;background:#e3268a;"></div>
<div class="t" style="left:5.4px;top:1241px;width:41.1px;height:20px;font-size:17.5px;color:#fff;font-weight:normal;justify-content:center;-webkit-text-stroke-width:0.7px;">可选</div>
<div class="t" style="left:5.4px;top:1259px;width:41.1px;height:20px;font-size:17.5px;color:#fff;font-weight:normal;justify-content:center;-webkit-text-stroke-width:0.7px;">加工</div>
<div class="a" style="left:62.5px;top:1240.5px;width:355.0px;height:25.3px;background:#eeeeee;"></div>
<div class="a" style="left:62.5px;top:1239.5px;width:355.0px;height:2.0px;background:#111;"></div>
<div class="a" style="left:62.5px;top:1264.8px;width:355.0px;height:2.0px;background:#111;"></div>
<div class="a" style="left:62.5px;top:1576.8px;width:355.0px;height:2.0px;background:#111;"></div>
<div class="a" style="left:62.5px;top:1357.5px;width:355.0px;height:1.0px;background:#888;"></div>
<div class="a" style="left:62.5px;top:1460.5px;width:355.0px;height:1.0px;background:#888;"></div>
<div class="a" style="left:104.25px;top:1240.5px;width:1.5px;height:337.3px;background:#222;"></div>
<div class="a" style="left:260.5px;top:1265.8px;width:1.0px;height:312.0px;background:#888;"></div>
<div class="t" style="left:62.5px;top:1240.5px;width:42.5px;height:25.3px;font-size:14.5px;color:#9b1a80;font-weight:normal;justify-content:center;-webkit-text-stroke-width:0.6px;">代码</div>
<div class="t" style="left:105px;top:1240.5px;width:312.5px;height:25.3px;font-size:14.8px;color:#222;font-weight:normal;justify-content:center;-webkit-text-stroke-width:0.5px;">技术说明</div>
<div class="t" style="left:62.5px;top:1265.8px;width:42.5px;height:92.2px;font-size:17px;color:#9b1a80;font-weight:normal;justify-content:center;-webkit-text-stroke-width:0.6px;">YC</div>
<div class="t" style="left:62.5px;top:1358px;width:42.5px;height:103px;font-size:17px;color:#9b1a80;font-weight:normal;justify-content:center;-webkit-text-stroke-width:0.6px;">MC</div>
<div class="t" style="left:62.5px;top:1461px;width:42.5px;height:116.8px;font-size:17px;color:#9b1a80;font-weight:normal;justify-content:center;-webkit-text-stroke-width:0.6px;">AD</div>
<div class="t" style="left:109px;top:1268.5px;width:151px;height:16.0px;font-size:11.8px;color:#222;font-weight:bold;justify-content:flex-start;-webkit-text-stroke-width:0.2px;-webkit-text-stroke-width:0.5px;">变更Y尺寸公差</div>
<div class="t" style="left:109px;top:1365px;width:151px;height:16px;font-size:11.8px;color:#222;font-weight:bold;justify-content:flex-start;-webkit-text-stroke-width:0.2px;-webkit-text-stroke-width:0.5px;">变更外螺纹为细牙螺纹</div>
<div class="t" style="left:109px;top:1466px;width:151px;height:16px;font-size:11.8px;color:#222;font-weight:bold;justify-content:flex-start;-webkit-text-stroke-width:0.2px;-webkit-text-stroke-width:0.5px;">增加引导部</div>
<div class="a" style="left:268px;top:1274px;width:62.5px;height:16px;background:#fff;border:1px solid #666;box-sizing:border-box;"></div>
<div class="t" style="left:268px;top:1274px;width:62.5px;height:16px;font-size:15px;color:#222;font-weight:normal;justify-content:center;-webkit-text-stroke:0.5px #222;">选型方法</div>
<div class="t" style="left:336px;top:1273px;width:44px;height:18px;font-size:17px;color:#9b1a80;font-weight:normal;justify-content:flex-start;">YC</div>
<div class="t" style="left:266px;top:1295px;width:144px;height:16px;font-size:11.8px;color:#222;font-weight:bold;justify-content:flex-start;-webkit-text-stroke-width:0.2px;-webkit-text-stroke-width:0.5px;"><span class="nt">!</span>变更Y尺寸公差</div>
<div class="t" style="left:283px;top:1310px;width:127px;height:16px;font-size:12px;color:#222;font-weight:bold;justify-content:flex-start;-webkit-text-stroke-width:0.2px;-webkit-text-stroke-width:0.5px;">为±0.04</div>
<div class="a" style="left:268px;top:1361.5px;width:62.5px;height:16.0px;background:#fff;border:1px solid #666;box-sizing:border-box;"></div>
<div class="t" style="left:268px;top:1361.5px;width:62.5px;height:16.0px;font-size:15px;color:#222;font-weight:normal;justify-content:center;-webkit-text-stroke:0.5px #222;">选型方法</div>
<div class="t" style="left:336px;top:1360.5px;width:44px;height:18.0px;font-size:17px;color:#9b1a80;font-weight:normal;justify-content:flex-start;">MC</div>
<div class="a" style="left:268px;top:1466px;width:62.5px;height:16px;background:#fff;border:1px solid #666;box-sizing:border-box;"></div>
<div class="t" style="left:268px;top:1466px;width:62.5px;height:16px;font-size:15px;color:#222;font-weight:normal;justify-content:center;-webkit-text-stroke:0.5px #222;">选型方法</div>
<div class="t" style="left:336px;top:1465px;width:44px;height:18px;font-size:17px;color:#9b1a80;font-weight:normal;justify-content:flex-start;">AD</div>
<div class="t" style="left:266px;top:1483px;width:144px;height:16px;font-size:12.4px;color:#222;font-weight:normal;justify-content:flex-start;-webkit-text-stroke-width:0.6px;"><span class="nt">!</span>在如左图所示位置</div>
<div class="t" style="left:283px;top:1497.5px;width:127px;height:16.0px;font-size:12.4px;color:#222;font-weight:normal;justify-content:flex-start;-webkit-text-stroke-width:0.6px;">增加引导部</div>
<div class="a" style="left:282.5px;top:1381.5px;width:60.0px;height:12.5px;background:#eeeeee;"></div>
<div class="t" style="left:282.5px;top:1381.5px;width:33.0px;height:12.5px;font-size:12.5px;color:#9b1a80;font-weight:bold;justify-content:center;-webkit-text-stroke-width:0.2px;">MC</div>
<div class="t" style="left:315.5px;top:1381.5px;width:27.0px;height:12.5px;font-size:12.5px;color:#222;font-weight:bold;justify-content:center;-webkit-text-stroke-width:0.2px;">螺距</div>
<div class="a" style="left:282.5px;top:1393.25px;width:60.0px;height:1.5px;background:#444;"></div>
<div class="a" style="left:282.5px;top:1458.25px;width:60.0px;height:1.5px;background:#444;"></div>
<div class="a" style="left:315.0px;top:1381.5px;width:1.0px;height:77.5px;background:#888;"></div>
<div class="t" style="left:282.5px;top:1394px;width:33.0px;height:13px;font-size:13.5px;color:#222;font-weight:bold;justify-content:center;-webkit-text-stroke-width:0.2px;">M12</div>
<div class="a" style="left:282.5px;top:1406.5px;width:33.0px;height:1.0px;background:#888;"></div>
<div class="t" style="left:282.5px;top:1407px;width:33.0px;height:13px;font-size:13.5px;color:#222;font-weight:bold;justify-content:center;-webkit-text-stroke-width:0.2px;">M15</div>
<div class="a" style="left:282.5px;top:1419.5px;width:33.0px;height:1.0px;background:#888;"></div>
<div class="t" style="left:282.5px;top:1420px;width:33.0px;height:13px;font-size:13.5px;color:#222;font-weight:bold;justify-content:center;-webkit-text-stroke-width:0.2px;">M20</div>
<div class="a" style="left:282.5px;top:1432.5px;width:33.0px;height:1.0px;background:#888;"></div>
<div class="t" style="left:282.5px;top:1433px;width:33.0px;height:13px;font-size:13.5px;color:#222;font-weight:bold;justify-content:center;-webkit-text-stroke-width:0.2px;">M25</div>
<div class="a" style="left:282.5px;top:1445.5px;width:33.0px;height:1.0px;background:#888;"></div>
<div class="t" style="left:282.5px;top:1446px;width:33.0px;height:13px;font-size:13.5px;color:#222;font-weight:bold;justify-content:center;-webkit-text-stroke-width:0.2px;">M30</div>
<div class="t" style="left:315.5px;top:1394px;width:27.0px;height:39px;font-size:13.5px;color:#222;font-weight:normal;justify-content:center;-webkit-text-stroke-width:0.45px;">1.0</div>
<div class="a" style="left:315.5px;top:1432.5px;width:27.0px;height:1.0px;background:#888;"></div>
<div class="t" style="left:315.5px;top:1433px;width:27.0px;height:26px;font-size:13.5px;color:#222;font-weight:normal;justify-content:center;-webkit-text-stroke-width:0.45px;">1.5</div>
<div class="a" style="left:357.5px;top:1365px;width:60.0px;height:13px;background:#eeeeee;"></div>
<div class="t" style="left:357.5px;top:1365px;width:29.5px;height:13px;font-size:12.5px;color:#9b1a80;font-weight:bold;justify-content:center;-webkit-text-stroke-width:0.2px;">MC</div>
<div class="t" style="left:387px;top:1365px;width:30.5px;height:13px;font-size:12.5px;color:#222;font-weight:bold;justify-content:center;-webkit-text-stroke-width:0.2px;">螺距</div>
<div class="a" style="left:357.5px;top:1377.25px;width:60.0px;height:1.5px;background:#444;"></div>
<div class="a" style="left:357.5px;top:1454.05px;width:60.0px;height:1.5px;background:#444;"></div>
<div class="a" style="left:386.5px;top:1365px;width:1.0px;height:89.8px;background:#888;"></div>
<div class="t" style="left:357.5px;top:1378.0px;width:29.5px;height:12.8px;font-size:13.5px;color:#222;font-weight:bold;justify-content:center;-webkit-text-stroke-width:0.2px;">M3</div>
<div class="a" style="left:357.5px;top:1390.3px;width:29.5px;height:1.0px;background:#888;"></div>
<div class="t" style="left:357.5px;top:1390.8px;width:29.5px;height:12.8px;font-size:13.5px;color:#222;font-weight:bold;justify-content:center;-webkit-text-stroke-width:0.2px;">M4</div>
<div class="a" style="left:357.5px;top:1403.1px;width:29.5px;height:1.0px;background:#888;"></div>
<div class="t" style="left:357.5px;top:1403.6px;width:29.5px;height:12.8px;font-size:13.5px;color:#222;font-weight:bold;justify-content:center;-webkit-text-stroke-width:0.2px;">M5</div>
<div class="a" style="left:357.5px;top:1415.9px;width:29.5px;height:1.0px;background:#888;"></div>
<div class="t" style="left:357.5px;top:1416.4px;width:29.5px;height:12.8px;font-size:13.5px;color:#222;font-weight:bold;justify-content:center;-webkit-text-stroke-width:0.2px;">M6</div>
<div class="a" style="left:357.5px;top:1428.7px;width:29.5px;height:1.0px;background:#888;"></div>
<div class="t" style="left:357.5px;top:1429.2px;width:29.5px;height:12.8px;font-size:13.5px;color:#222;font-weight:bold;justify-content:center;-webkit-text-stroke-width:0.2px;">M8</div>
<div class="a" style="left:357.5px;top:1441.5px;width:29.5px;height:1.0px;background:#888;"></div>
<div class="t" style="left:357.5px;top:1442.0px;width:29.5px;height:12.8px;font-size:13.5px;color:#222;font-weight:bold;justify-content:center;-webkit-text-stroke-width:0.2px;">M10</div>
<div class="t" style="left:387px;top:1378.0px;width:30.5px;height:12.8px;font-size:13.5px;color:#222;font-weight:normal;justify-content:center;-webkit-text-stroke-width:0.45px;">0.35</div>
<div class="a" style="left:387px;top:1390.3px;width:30.5px;height:1.0px;background:#888;"></div>
<div class="t" style="left:387px;top:1390.8px;width:30.5px;height:25.6px;font-size:13.5px;color:#222;font-weight:normal;justify-content:center;-webkit-text-stroke-width:0.45px;">0.5</div>
<div class="a" style="left:387px;top:1415.9px;width:30.5px;height:1.0px;background:#888;"></div>
<div class="t" style="left:387px;top:1416.4px;width:30.5px;height:12.8px;font-size:13.5px;color:#222;font-weight:normal;justify-content:center;-webkit-text-stroke-width:0.45px;">0.75</div>
<div class="a" style="left:387px;top:1428.7px;width:30.5px;height:1.0px;background:#888;"></div>
<div class="t" style="left:387px;top:1429.2px;width:30.5px;height:25.6px;font-size:13.5px;color:#222;font-weight:normal;justify-content:center;-webkit-text-stroke-width:0.45px;">1.0</div>
<div class="a" style="left:285px;top:1517.5px;width:99px;height:12.5px;background:#eeeeee;"></div>
<div class="t" style="left:285px;top:1517.5px;width:49px;height:12.5px;font-size:13px;color:#222;font-weight:bold;justify-content:center;-webkit-text-stroke-width:0.2px;">D</div>
<div class="t" style="left:334px;top:1517.5px;width:50px;height:12.5px;font-size:13px;color:#9b1a80;font-weight:bold;justify-content:center;-webkit-text-stroke-width:0.2px;">AD<span style="font-size:10px">g6</span></div>
<div class="a" style="left:285px;top:1529.25px;width:99px;height:1.5px;background:#444;"></div>
<div class="a" style="left:285px;top:1569.15px;width:99px;height:1.5px;background:#444;"></div>
<div class="a" style="left:333.5px;top:1517.5px;width:1.0px;height:52.4px;background:#888;"></div>
<div class="t" style="left:285px;top:1530.0px;width:49px;height:13.3px;font-size:14px;color:#222;font-weight:normal;justify-content:center;-webkit-text-stroke-width:0.45px;">6</div>
<div class="a" style="left:285px;top:1542.8px;width:49px;height:1.0px;background:#888;"></div>
<div class="t" style="left:285px;top:1543.3px;width:49px;height:13.3px;font-size:14px;color:#222;font-weight:normal;justify-content:center;-webkit-text-stroke-width:0.45px;">8~30</div>
<div class="a" style="left:285px;top:1556.1px;width:49px;height:1.0px;background:#888;"></div>
<div class="t" style="left:285px;top:1556.6px;width:49px;height:13.3px;font-size:14px;color:#222;font-weight:normal;justify-content:center;-webkit-text-stroke-width:0.45px;">35~50</div>
<div class="t" style="left:334px;top:1530.0px;width:50px;height:13.3px;font-size:14px;color:#222;font-weight:normal;justify-content:center;-webkit-text-stroke-width:0.45px;">8</div>
<div class="a" style="left:334px;top:1542.8px;width:50px;height:1.0px;background:#888;"></div>
<div class="t" style="left:334px;top:1543.3px;width:50px;height:13.3px;font-size:14px;color:#222;font-weight:normal;justify-content:center;-webkit-text-stroke-width:0.45px;">10</div>
<div class="a" style="left:334px;top:1556.1px;width:50px;height:1.0px;background:#888;"></div>
<div class="t" style="left:334px;top:1556.6px;width:50px;height:13.3px;font-size:14px;color:#222;font-weight:normal;justify-content:center;-webkit-text-stroke-width:0.45px;">12</div>
<div class="t" style="left:496px;top:1230px;width:204px;height:18px;font-size:14.3px;color:#222;font-weight:normal;justify-content:flex-start;-webkit-text-stroke-width:0.5px;"><span class="nt">!</span>外螺纹退刀槽加工尺寸</div>
<div class="a" style="left:497.5px;top:1317px;width:14.0px;height:13px;background:#e3268a;"></div>
<div class="c" style="left:500.3px;top:1319.3px;width:8.4px;height:8.4px;background:#e85aa5;color:#f7a8d0;font-size:5.88px;"></div>
<div class="t" style="left:516px;top:1314px;width:244px;height:19px;font-size:15px;color:#222;font-weight:normal;justify-content:flex-start;-webkit-text-stroke:0.5px #222;">表1:外螺纹退刀槽加工尺寸参照表</div>
<div class="a" style="left:496.5px;top:1336px;width:494.2px;height:31.2px;background:#eeeeee;"></div>
<div class="a" style="left:496.5px;top:1382.58px;width:494.2px;height:15.38px;background:#fdeff1;"></div>
<div class="a" style="left:496.5px;top:1413.34px;width:494.2px;height:15.38px;background:#fdeff1;"></div>
<div class="a" style="left:496.5px;top:1444.1px;width:494.2px;height:15.38px;background:#fdeff1;"></div>
<div class="a" style="left:496.5px;top:1474.86px;width:494.2px;height:15.38px;background:#fdeff1;"></div>
<div class="a" style="left:496.5px;top:1505.62px;width:494.2px;height:15.38px;background:#fdeff1;"></div>
<div class="a" style="left:496.5px;top:1335.0px;width:494.2px;height:2.0px;background:#111;"></div>
<div class="a" style="left:496.5px;top:1366.2px;width:494.2px;height:2.0px;background:#111;"></div>
<div class="a" style="left:496.5px;top:1520.0px;width:494.2px;height:2.0px;background:#111;"></div>
<div class="a" style="left:496.5px;top:1351.5px;width:494.2px;height:1.0px;background:#fff;"></div>
<div class="a" style="left:496.5px;top:1352.5px;width:494.2px;height:1.0px;background:#bbb;"></div>
<div class="a" style="left:738.8px;top:1336px;width:2.0px;height:185px;background:#222;"></div>
<div class="a" style="left:561.0px;top:1352px;width:1.0px;height:15.2px;background:#fff;"></div>
<div class="a" style="left:562.0px;top:1352px;width:1.0px;height:15.2px;background:#bbb;"></div>
<div class="a" style="left:561.0px;top:1367.2px;width:1.0px;height:153.8px;background:#888;"></div>
<div class="a" style="left:620.8px;top:1352px;width:1.0px;height:15.2px;background:#fff;"></div>
<div class="a" style="left:621.8px;top:1352px;width:1.0px;height:15.2px;background:#bbb;"></div>
<div class="a" style="left:620.8px;top:1367.2px;width:1.0px;height:153.8px;background:#888;"></div>
<div class="a" style="left:675.5px;top:1352px;width:1.0px;height:15.2px;background:#fff;"></div>
<div class="a" style="left:676.5px;top:1352px;width:1.0px;height:15.2px;background:#bbb;"></div>
<div class="a" style="left:675.5px;top:1367.2px;width:1.0px;height:153.8px;background:#888;"></div>
<div class="a" style="left:805.5px;top:1352px;width:1.0px;height:15.2px;background:#fff;"></div>
<div class="a" style="left:806.5px;top:1352px;width:1.0px;height:15.2px;background:#bbb;"></div>
<div class="a" style="left:805.5px;top:1367.2px;width:1.0px;height:153.8px;background:#888;"></div>
<div class="a" style="left:863.8px;top:1352px;width:1.0px;height:15.2px;background:#fff;"></div>
<div class="a" style="left:864.8px;top:1352px;width:1.0px;height:15.2px;background:#bbb;"></div>
<div class="a" style="left:863.8px;top:1367.2px;width:1.0px;height:153.8px;background:#888;"></div>
<div class="a" style="left:922.1px;top:1352px;width:1.0px;height:15.2px;background:#fff;"></div>
<div class="a" style="left:923.1px;top:1352px;width:1.0px;height:15.2px;background:#bbb;"></div>
<div class="a" style="left:922.1px;top:1367.2px;width:1.0px;height:153.8px;background:#888;"></div>
<div class="t" style="left:496.5px;top:1336px;width:243.3px;height:16px;font-size:15px;color:#222;font-weight:normal;justify-content:center;">粗牙螺纹</div>
<div class="t" style="left:739.8px;top:1336px;width:250.9px;height:16px;font-size:15px;color:#222;font-weight:normal;justify-content:center;">细牙螺纹</div>
<div class="t" style="left:496.5px;top:1352px;width:65.0px;height:15.2px;font-size:12px;color:#222;font-weight:normal;justify-content:center;letter-spacing:-0.8px;">螺纹直径(<span style="color:#9b1a80">M</span>)</div>
<div class="t" style="left:739.8px;top:1352px;width:66.2px;height:15.2px;font-size:12px;color:#222;font-weight:normal;justify-content:center;letter-spacing:-0.8px;">螺纹直径(<span style="color:#9b1a80">MC</span>)</div>
<div class="t" style="left:561.5px;top:1352px;width:59.8px;height:15.2px;font-size:11.5px;color:#222;font-weight:normal;justify-content:center;-webkit-text-stroke-width:0.4px;">g</div>
<div class="t" style="left:621.3px;top:1352px;width:54.7px;height:15.2px;font-size:11.5px;color:#222;font-weight:normal;justify-content:center;-webkit-text-stroke-width:0.4px;">r</div>
<div class="t" style="left:676px;top:1352px;width:63.8px;height:15.2px;font-size:11.5px;color:#222;font-weight:normal;justify-content:center;-webkit-text-stroke-width:0.4px;">f</div>
<div class="t" style="left:806px;top:1352px;width:58.3px;height:15.2px;font-size:11.5px;color:#222;font-weight:normal;justify-content:center;-webkit-text-stroke-width:0.4px;">g</div>
<div class="t" style="left:864.3px;top:1352px;width:58.3px;height:15.2px;font-size:11.5px;color:#222;font-weight:normal;justify-content:center;-webkit-text-stroke-width:0.4px;">r</div>
<div class="t" style="left:922.6px;top:1352px;width:68.1px;height:15.2px;font-size:11.5px;color:#222;font-weight:normal;justify-content:center;-webkit-text-stroke-width:0.4px;">f</div>
<div class="t" style="left:496.5px;top:1367.2px;width:42.0px;height:15.38px;font-size:12.8px;color:#222;font-weight:normal;justify-content:flex-end;-webkit-text-stroke:0.45px #222;">4</div>
<div class="t" style="left:676px;top:1367.2px;width:63.8px;height:15.38px;font-size:13px;color:#222;font-weight:normal;justify-content:center;-webkit-text-stroke:0.45px #222;">2.9~3.2</div>
<div class="a" style="left:496.5px;top:1382.08px;width:65.0px;height:1.0px;background:#888;"></div>
<div class="a" style="left:676px;top:1382.08px;width:63.8px;height:1.0px;background:#888;"></div>
<div class="t" style="left:496.5px;top:1382.58px;width:42.0px;height:15.38px;font-size:12.8px;color:#222;font-weight:normal;justify-content:flex-end;-webkit-text-stroke:0.45px #222;">5</div>
<div class="t" style="left:676px;top:1382.58px;width:63.8px;height:15.38px;font-size:13px;color:#222;font-weight:normal;justify-content:center;-webkit-text-stroke:0.45px #222;">3.9~4.1</div>
<div class="a" style="left:496.5px;top:1397.46px;width:65.0px;height:1.0px;background:#888;"></div>
<div class="a" style="left:676px;top:1397.46px;width:63.8px;height:1.0px;background:#888;"></div>
<div class="t" style="left:496.5px;top:1397.96px;width:42.0px;height:15.38px;font-size:12.8px;color:#222;font-weight:normal;justify-content:flex-end;-webkit-text-stroke:0.45px #222;">6</div>
<div class="t" style="left:676px;top:1397.96px;width:63.8px;height:15.38px;font-size:13px;color:#222;font-weight:normal;justify-content:center;-webkit-text-stroke:0.45px #222;">4.3~4.9</div>
<div class="a" style="left:496.5px;top:1412.84px;width:65.0px;height:1.0px;background:#888;"></div>
<div class="a" style="left:676px;top:1412.84px;width:63.8px;height:1.0px;background:#888;"></div>
<div class="t" style="left:496.5px;top:1413.34px;width:42.0px;height:15.38px;font-size:12.8px;color:#222;font-weight:normal;justify-content:flex-end;-webkit-text-stroke:0.45px #222;">8</div>
<div class="t" style="left:676px;top:1413.34px;width:63.8px;height:15.38px;font-size:13px;color:#222;font-weight:normal;justify-content:center;-webkit-text-stroke:0.45px #222;">6.3~6.6</div>
<div class="a" style="left:496.5px;top:1428.22px;width:65.0px;height:1.0px;background:#888;"></div>
<div class="a" style="left:676px;top:1428.22px;width:63.8px;height:1.0px;background:#888;"></div>
<div class="t" style="left:496.5px;top:1428.72px;width:42.0px;height:15.38px;font-size:12.8px;color:#222;font-weight:normal;justify-content:flex-end;-webkit-text-stroke:0.45px #222;">10</div>
<div class="t" style="left:676px;top:1428.72px;width:63.8px;height:15.38px;font-size:13px;color:#222;font-weight:normal;justify-content:center;-webkit-text-stroke:0.45px #222;">8.1~8.3</div>
<div class="a" style="left:496.5px;top:1443.6px;width:65.0px;height:1.0px;background:#888;"></div>
<div class="a" style="left:676px;top:1443.6px;width:63.8px;height:1.0px;background:#888;"></div>
<div class="t" style="left:496.5px;top:1444.1px;width:42.0px;height:15.38px;font-size:12.8px;color:#222;font-weight:normal;justify-content:flex-end;-webkit-text-stroke:0.45px #222;">12</div>
<div class="t" style="left:676px;top:1444.1px;width:63.8px;height:15.38px;font-size:13px;color:#222;font-weight:normal;justify-content:center;-webkit-text-stroke:0.45px #222;">9.8~10.1</div>
<div class="a" style="left:496.5px;top:1458.98px;width:65.0px;height:1.0px;background:#888;"></div>
<div class="a" style="left:676px;top:1458.98px;width:63.8px;height:1.0px;background:#888;"></div>
<div class="t" style="left:496.5px;top:1459.48px;width:42.0px;height:15.38px;font-size:12.8px;color:#222;font-weight:normal;justify-content:flex-end;-webkit-text-stroke:0.45px #222;">16</div>
<div class="t" style="left:676px;top:1459.48px;width:63.8px;height:15.38px;font-size:13px;color:#222;font-weight:normal;justify-content:center;-webkit-text-stroke:0.45px #222;">13.6~13.8</div>
<div class="a" style="left:496.5px;top:1474.36px;width:65.0px;height:1.0px;background:#888;"></div>
<div class="a" style="left:676px;top:1474.36px;width:63.8px;height:1.0px;background:#888;"></div>
<div class="t" style="left:496.5px;top:1474.86px;width:42.0px;height:15.38px;font-size:12.8px;color:#222;font-weight:normal;justify-content:flex-end;-webkit-text-stroke:0.45px #222;">20</div>
<div class="t" style="left:676px;top:1474.86px;width:63.8px;height:15.38px;font-size:13px;color:#222;font-weight:normal;justify-content:center;-webkit-text-stroke:0.45px #222;">17.0~17.2</div>
<div class="a" style="left:496.5px;top:1489.74px;width:65.0px;height:1.0px;background:#888;"></div>
<div class="a" style="left:676px;top:1489.74px;width:63.8px;height:1.0px;background:#888;"></div>
<div class="t" style="left:496.5px;top:1490.24px;width:42.0px;height:15.38px;font-size:12.8px;color:#222;font-weight:normal;justify-content:flex-end;-webkit-text-stroke:0.45px #222;">24</div>
<div class="t" style="left:676px;top:1490.24px;width:63.8px;height:15.38px;font-size:13px;color:#222;font-weight:normal;justify-content:center;-webkit-text-stroke:0.45px #222;">20.2~20.7</div>
<div class="a" style="left:496.5px;top:1505.12px;width:65.0px;height:1.0px;background:#888;"></div>
<div class="a" style="left:676px;top:1505.12px;width:63.8px;height:1.0px;background:#888;"></div>
<div class="t" style="left:496.5px;top:1505.62px;width:42.0px;height:15.38px;font-size:12.8px;color:#222;font-weight:normal;justify-content:flex-end;-webkit-text-stroke:0.45px #222;">30</div>
<div class="t" style="left:676px;top:1505.62px;width:63.8px;height:15.38px;font-size:13px;color:#222;font-weight:normal;justify-content:center;-webkit-text-stroke:0.45px #222;">26.0~26.2</div>
<div class="t" style="left:561.5px;top:1367.2px;width:59.8px;height:30.76px;font-size:13.5px;color:#222;font-weight:normal;justify-content:center;-webkit-text-stroke:0.45px #222;">1.2~1.5</div>
<div class="a" style="left:561.5px;top:1397.46px;width:59.8px;height:1.0px;background:#888;"></div>
<div class="t" style="left:561.5px;top:1397.96px;width:59.8px;height:46.14px;font-size:13.5px;color:#222;font-weight:normal;justify-content:center;-webkit-text-stroke:0.45px #222;">1.5~2.5</div>
<div class="a" style="left:561.5px;top:1443.6px;width:59.8px;height:1.0px;background:#888;"></div>
<div class="t" style="left:561.5px;top:1444.1px;width:59.8px;height:30.76px;font-size:13.5px;color:#222;font-weight:normal;justify-content:center;-webkit-text-stroke:0.45px #222;">1.5~3.0</div>
<div class="a" style="left:561.5px;top:1474.36px;width:59.8px;height:1.0px;background:#888;"></div>
<div class="t" style="left:561.5px;top:1474.86px;width:59.8px;height:15.38px;font-size:13.5px;color:#222;font-weight:normal;justify-content:center;-webkit-text-stroke:0.45px #222;">1.5~4.0</div>
<div class="a" style="left:561.5px;top:1489.74px;width:59.8px;height:1.0px;background:#888;"></div>
<div class="t" style="left:561.5px;top:1490.24px;width:59.8px;height:30.76px;font-size:13.5px;color:#222;font-weight:normal;justify-content:center;-webkit-text-stroke:0.45px #222;">2.5~5.0</div>
<div class="t" style="left:621.3px;top:1367.2px;width:54.7px;height:30.76px;font-size:13.5px;color:#222;font-weight:normal;justify-content:center;-webkit-text-stroke:0.45px #222;">0.2~0.3</div>
<div class="a" style="left:621.3px;top:1397.46px;width:54.7px;height:1.0px;background:#888;"></div>
<div class="t" style="left:621.3px;top:1397.96px;width:54.7px;height:46.14px;font-size:13.5px;color:#222;font-weight:normal;justify-content:center;-webkit-text-stroke:0.45px #222;">0.2~0.6</div>
<div class="a" style="left:621.3px;top:1443.6px;width:54.7px;height:1.0px;background:#888;"></div>
<div class="t" style="left:621.3px;top:1444.1px;width:54.7px;height:46.14px;font-size:13.5px;color:#222;font-weight:normal;justify-content:center;-webkit-text-stroke:0.45px #222;">0.2~1.0</div>
<div class="a" style="left:621.3px;top:1489.74px;width:54.7px;height:1.0px;background:#888;"></div>
<div class="t" style="left:621.3px;top:1490.24px;width:54.7px;height:30.76px;font-size:13.5px;color:#222;font-weight:normal;justify-content:center;-webkit-text-stroke:0.45px #222;">0.2~1.5</div>
<div class="t" style="left:739.8px;top:1367.2px;width:43.2px;height:15.38px;font-size:12.8px;color:#222;font-weight:normal;justify-content:flex-end;-webkit-text-stroke:0.45px #222;">4</div>
<div class="t" style="left:922.6px;top:1367.2px;width:68.1px;height:15.38px;font-size:13px;color:#222;font-weight:normal;justify-content:center;-webkit-text-stroke:0.45px #222;">2.9~3.2</div>
<div class="a" style="left:739.8px;top:1382.08px;width:66.2px;height:1.0px;background:#888;"></div>
<div class="a" style="left:922.6px;top:1382.08px;width:68.1px;height:1.0px;background:#888;"></div>
<div class="t" style="left:739.8px;top:1382.58px;width:43.2px;height:15.38px;font-size:12.8px;color:#222;font-weight:normal;justify-content:flex-end;-webkit-text-stroke:0.45px #222;">5</div>
<div class="t" style="left:922.6px;top:1382.58px;width:68.1px;height:15.38px;font-size:13px;color:#222;font-weight:normal;justify-content:center;-webkit-text-stroke:0.45px #222;">3.9~4.1</div>
<div class="a" style="left:739.8px;top:1397.46px;width:66.2px;height:1.0px;background:#888;"></div>
<div class="a" style="left:922.6px;top:1397.46px;width:68.1px;height:1.0px;background:#888;"></div>
<div class="t" style="left:739.8px;top:1397.96px;width:43.2px;height:15.38px;font-size:12.8px;color:#222;font-weight:normal;justify-content:flex-end;-webkit-text-stroke:0.45px #222;">6</div>
<div class="t" style="left:922.6px;top:1397.96px;width:68.1px;height:15.38px;font-size:13px;color:#222;font-weight:normal;justify-content:center;-webkit-text-stroke:0.45px #222;">4.3~4.9</div>
<div class="a" style="left:739.8px;top:1412.84px;width:66.2px;height:1.0px;background:#888;"></div>
<div class="a" style="left:922.6px;top:1412.84px;width:68.1px;height:1.0px;background:#888;"></div>
<div class="t" style="left:739.8px;top:1413.34px;width:43.2px;height:15.38px;font-size:12.8px;color:#222;font-weight:normal;justify-content:flex-end;-webkit-text-stroke:0.45px #222;">8</div>
<div class="t" style="left:922.6px;top:1413.34px;width:68.1px;height:15.38px;font-size:13px;color:#222;font-weight:normal;justify-content:center;-webkit-text-stroke:0.45px #222;">6.3~6.6</div>
<div class="a" style="left:739.8px;top:1428.22px;width:66.2px;height:1.0px;background:#888;"></div>
<div class="a" style="left:922.6px;top:1428.22px;width:68.1px;height:1.0px;background:#888;"></div>
<div class="t" style="left:739.8px;top:1428.72px;width:43.2px;height:15.38px;font-size:12.8px;color:#222;font-weight:normal;justify-content:flex-end;-webkit-text-stroke:0.45px #222;">10</div>
<div class="t" style="left:922.6px;top:1428.72px;width:68.1px;height:15.38px;font-size:13px;color:#222;font-weight:normal;justify-content:center;-webkit-text-stroke:0.45px #222;">8.3~8.6</div>
<div class="a" style="left:739.8px;top:1443.6px;width:66.2px;height:1.0px;background:#888;"></div>
<div class="a" style="left:922.6px;top:1443.6px;width:68.1px;height:1.0px;background:#888;"></div>
<div class="t" style="left:739.8px;top:1444.1px;width:43.2px;height:15.38px;font-size:12.8px;color:#222;font-weight:normal;justify-content:flex-end;-webkit-text-stroke:0.45px #222;">12</div>
<div class="t" style="left:922.6px;top:1444.1px;width:68.1px;height:15.38px;font-size:13px;color:#222;font-weight:normal;justify-content:center;-webkit-text-stroke:0.45px #222;">9.8~10.7</div>
<div class="a" style="left:739.8px;top:1458.98px;width:66.2px;height:1.0px;background:#888;"></div>
<div class="a" style="left:922.6px;top:1458.98px;width:68.1px;height:1.0px;background:#888;"></div>
<div class="t" style="left:739.8px;top:1459.48px;width:43.2px;height:15.38px;font-size:12.8px;color:#222;font-weight:normal;justify-content:flex-end;-webkit-text-stroke:0.45px #222;">15</div>
<div class="t" style="left:922.6px;top:1459.48px;width:68.1px;height:15.38px;font-size:13px;color:#222;font-weight:normal;justify-content:center;-webkit-text-stroke:0.45px #222;">13.6~13.8</div>
<div class="a" style="left:739.8px;top:1474.36px;width:66.2px;height:1.0px;background:#888;"></div>
<div class="a" style="left:922.6px;top:1474.36px;width:68.1px;height:1.0px;background:#888;"></div>
<div class="t" style="left:739.8px;top:1474.86px;width:43.2px;height:15.38px;font-size:12.8px;color:#222;font-weight:normal;justify-content:flex-end;-webkit-text-stroke:0.45px #222;">20</div>
<div class="t" style="left:922.6px;top:1474.86px;width:68.1px;height:15.38px;font-size:13px;color:#222;font-weight:normal;justify-content:center;-webkit-text-stroke:0.45px #222;">17.2~18.8</div>
<div class="a" style="left:739.8px;top:1489.74px;width:66.2px;height:1.0px;background:#888;"></div>
<div class="a" style="left:922.6px;top:1489.74px;width:68.1px;height:1.0px;background:#888;"></div>
<div class="t" style="left:739.8px;top:1490.24px;width:43.2px;height:15.38px;font-size:12.8px;color:#222;font-weight:normal;justify-content:flex-end;-webkit-text-stroke:0.45px #222;">25</div>
<div class="t" style="left:922.6px;top:1490.24px;width:68.1px;height:15.38px;font-size:13px;color:#222;font-weight:normal;justify-content:center;-webkit-text-stroke:0.45px #222;">20.2~23.2</div>
<div class="a" style="left:739.8px;top:1505.12px;width:66.2px;height:1.0px;background:#888;"></div>
<div class="a" style="left:922.6px;top:1505.12px;width:68.1px;height:1.0px;background:#888;"></div>
<div class="t" style="left:739.8px;top:1505.62px;width:43.2px;height:15.38px;font-size:12.8px;color:#222;font-weight:normal;justify-content:flex-end;-webkit-text-stroke:0.45px #222;">30</div>
<div class="t" style="left:922.6px;top:1505.62px;width:68.1px;height:15.38px;font-size:13px;color:#222;font-weight:normal;justify-content:center;-webkit-text-stroke:0.45px #222;">26.2~28.2</div>
<div class="t" style="left:806px;top:1367.2px;width:58.3px;height:30.76px;font-size:13.5px;color:#222;font-weight:normal;justify-content:center;-webkit-text-stroke:0.45px #222;">1.2~1.5</div>
<div class="a" style="left:806px;top:1397.46px;width:58.3px;height:1.0px;background:#888;"></div>
<div class="t" style="left:806px;top:1397.96px;width:58.3px;height:46.14px;font-size:13.5px;color:#222;font-weight:normal;justify-content:center;-webkit-text-stroke:0.45px #222;">1.5~2.5</div>
<div class="a" style="left:806px;top:1443.6px;width:58.3px;height:1.0px;background:#888;"></div>
<div class="t" style="left:806px;top:1444.1px;width:58.3px;height:30.76px;font-size:13.5px;color:#222;font-weight:normal;justify-content:center;-webkit-text-stroke:0.45px #222;">1.5~3.0</div>
<div class="a" style="left:806px;top:1474.36px;width:58.3px;height:1.0px;background:#888;"></div>
<div class="t" style="left:806px;top:1474.86px;width:58.3px;height:15.38px;font-size:13.5px;color:#222;font-weight:normal;justify-content:center;-webkit-text-stroke:0.45px #222;">1.5~4.0</div>
<div class="a" style="left:806px;top:1489.74px;width:58.3px;height:1.0px;background:#888;"></div>
<div class="t" style="left:806px;top:1490.24px;width:58.3px;height:30.76px;font-size:13.5px;color:#222;font-weight:normal;justify-content:center;-webkit-text-stroke:0.45px #222;">2.5~5.0</div>
<div class="t" style="left:864.3px;top:1367.2px;width:58.3px;height:30.76px;font-size:13.5px;color:#222;font-weight:normal;justify-content:center;-webkit-text-stroke:0.45px #222;">0.2~0.3</div>
<div class="a" style="left:864.3px;top:1397.46px;width:58.3px;height:1.0px;background:#888;"></div>
<div class="t" style="left:864.3px;top:1397.96px;width:58.3px;height:46.14px;font-size:13.5px;color:#222;font-weight:normal;justify-content:center;-webkit-text-stroke:0.45px #222;">0.2~0.6</div>
<div class="a" style="left:864.3px;top:1443.6px;width:58.3px;height:1.0px;background:#888;"></div>
<div class="t" style="left:864.3px;top:1444.1px;width:58.3px;height:46.14px;font-size:13.5px;color:#222;font-weight:normal;justify-content:center;-webkit-text-stroke:0.45px #222;">0.2~1.0</div>
<div class="a" style="left:864.3px;top:1489.74px;width:58.3px;height:1.0px;background:#888;"></div>
<div class="t" style="left:864.3px;top:1490.24px;width:58.3px;height:30.76px;font-size:13.5px;color:#222;font-weight:normal;justify-content:center;-webkit-text-stroke:0.45px #222;">0.2~1.5</div>
<svg class="a" style="left:0;top:0" width="1000" height="1588" viewBox="0 0 1000 1588">
<rect x="258" y="454.4" width="25" height="18.9" fill="#ececec" stroke="#333" stroke-width="1.1"/>
<line x1="260.5" y1="454.4" x2="260.5" y2="473.3" stroke="#666" stroke-width="0.6"/>
<rect x="283" y="456.5" width="3.3" height="14.7" fill="#ececec" stroke="#333" stroke-width="1.1"/>
<rect x="286.3" y="448.8" width="66.5" height="29.6" fill="#ececec" stroke="#333" stroke-width="1.1"/>
<rect x="352.8" y="450.5" width="2.2" height="26.3" fill="#ececec" stroke="#333" stroke-width="1.1"/>
<rect x="355" y="444.3" width="21.5" height="39.0" fill="#ececec" stroke="#333" stroke-width="1.1"/>
<rect x="376.5" y="446" width="2.7" height="35.5" fill="#ececec" stroke="#333" stroke-width="1.1"/>
<rect x="379.2" y="400.1" width="49.3" height="126.9" fill="#ececec" stroke="#333" stroke-width="1.1"/>
<path d="M379.5,406.2 H396.8 V438.2 H379.5" fill="none" stroke="#555" stroke-width="0.8" stroke-dasharray="3,2"/>
<line x1="396.8" y1="413.4" x2="428.5" y2="413.4" stroke="#555" stroke-width="0.8" stroke-dasharray="3,2"/>
<line x1="396.8" y1="431.5" x2="428.5" y2="431.5" stroke="#555" stroke-width="0.8" stroke-dasharray="3,2"/>
<line x1="375" y1="421.9" x2="432" y2="421.9" stroke="#555" stroke-width="0.6" stroke-dasharray="10,3,2,3"/>
<path d="M379.5,489 H396.8 V521.4 H379.5" fill="none" stroke="#555" stroke-width="0.8" stroke-dasharray="3,2"/>
<line x1="396.8" y1="496" x2="428.5" y2="496" stroke="#555" stroke-width="0.8" stroke-dasharray="3,2"/>
<line x1="396.8" y1="514.2" x2="428.5" y2="514.2" stroke="#555" stroke-width="0.8" stroke-dasharray="3,2"/>
<line x1="375" y1="505" x2="432" y2="505" stroke="#555" stroke-width="0.6" stroke-dasharray="10,3,2,3"/>
<line x1="250" y1="464" x2="434" y2="464" stroke="#555" stroke-width="0.6" stroke-dasharray="10,3,2,3"/>
<line x1="258" y1="475.3" x2="258" y2="577" stroke="#555" stroke-width="0.6"/>
<line x1="286.3" y1="480.4" x2="286.3" y2="577" stroke="#555" stroke-width="0.6"/>
<line x1="354.7" y1="485.3" x2="354.7" y2="577" stroke="#555" stroke-width="0.6"/>
<line x1="379.2" y1="529" x2="379.2" y2="556" stroke="#555" stroke-width="0.6"/>
<line x1="428.5" y1="529" x2="428.5" y2="577" stroke="#555" stroke-width="0.6"/>
<line x1="379.2" y1="550" x2="428.5" y2="550" stroke="#333" stroke-width="0.8"/>
<polygon points="379.2,550 384.2,548.4 384.2,551.6" fill="#222"/>
<polygon points="428.5,550 423.5,551.6 423.5,548.4" fill="#222"/>
<text x="403.5" y="546" font-size="15" fill="#222" text-anchor="middle" font-weight="normal"  stroke="#222" stroke-width="0.3">T</text>
<line x1="230" y1="572.3" x2="437" y2="572.3" stroke="#333" stroke-width="0.8"/>
<polygon points="258,572.3 253.0,573.9 253.0,570.7" fill="#222"/>
<polygon points="258,572.3 263.0,570.7 263.0,573.9" fill="#222"/>
<polygon points="286.3,572.3 281.3,573.9 281.3,570.7" fill="#222"/>
<polygon points="286.3,572.3 291.3,570.7 291.3,573.9" fill="#222"/>
<polygon points="354.7,572.3 349.7,573.9 349.7,570.7" fill="#222"/>
<polygon points="354.7,572.3 359.7,570.7 359.7,573.9" fill="#222"/>
<polygon points="428.5,572.3 423.5,573.9 423.5,570.7" fill="#222"/>
<polygon points="428.5,572.3 433.5,570.7 433.5,573.9" fill="#222"/>
<text x="229" y="569" font-size="15" fill="#222" text-anchor="middle" font-weight="normal"  stroke="#222" stroke-width="0.3">M×1.5</text>
<text x="309" y="571" font-size="16" fill="#a0197f" stroke="#a0197f" stroke-width="0.3">F</text><text x="319" y="561" font-size="10" fill="#222" stroke="#222" stroke-width="0.3">+0.1</text><text x="321" y="571" font-size="10" fill="#222" stroke="#222" stroke-width="0.3">0</text>
<text x="373" y="573" font-size="17" fill="#a0197f" stroke="#a0197f" stroke-width="0.3">Y</text><text x="384" y="573" font-size="10.5" fill="#222" font-weight="bold" stroke="#222" stroke-width="0.3">±0.15</text>
<line x1="430" y1="400.1" x2="455" y2="400.1" stroke="#555" stroke-width="0.6"/>
<line x1="430" y1="527" x2="455" y2="527" stroke="#555" stroke-width="0.6"/>
<line x1="450.4" y1="400.1" x2="450.4" y2="527" stroke="#333" stroke-width="0.8"/>
<polygon points="450.4,400.1 452.0,405.1 448.8,405.1" fill="#222"/>
<polygon points="450.4,527 448.8,522.0 452.0,522.0" fill="#222"/>
<text x="445" y="464" font-size="15" fill="#222" text-anchor="middle" font-weight="normal" transform="rotate(-90 445 464)"  stroke="#222" stroke-width="0.3">H</text>
<rect x="452" y="554.5" width="83" height="18.5" fill="#fff" stroke="#555" stroke-width="0.9"/>
<line x1="479" y1="554.5" x2="479" y2="573" stroke="#555" stroke-width="0.9"/>
<line x1="513" y1="554.5" x2="513" y2="573" stroke="#555" stroke-width="0.9"/>
<line x1="459" y1="569" x2="472" y2="569" stroke="#333" stroke-width="1"/>
<line x1="465.5" y1="558" x2="465.5" y2="569" stroke="#333" stroke-width="1"/>
<text x="496" y="569" font-size="14" fill="#222" text-anchor="middle" font-weight="normal"  stroke="#222" stroke-width="0.3">0.03</text>
<text x="524" y="569" font-size="14" fill="#222" text-anchor="middle" font-weight="normal"  stroke="#222" stroke-width="0.3">A</text>
<line x1="432" y1="563.5" x2="452" y2="563.5" stroke="#333" stroke-width="0.8"/>
<polygon points="430,563.5 435.0,561.9 435.0,565.1" fill="#222"/>
<line x1="208" y1="448.8" x2="284" y2="448.8" stroke="#555" stroke-width="0.6"/>
<line x1="208" y1="478.4" x2="284" y2="478.4" stroke="#555" stroke-width="0.6"/>
<line x1="211.6" y1="448.8" x2="211.6" y2="478.4" stroke="#333" stroke-width="0.8"/>
<polygon points="211.6,448.8 213.2,453.8 210.0,453.8" fill="#222"/>
<polygon points="211.6,478.4 210.0,473.4 213.2,473.4" fill="#222"/>
<line x1="231" y1="454.4" x2="257" y2="454.4" stroke="#555" stroke-width="0.6"/>
<line x1="231" y1="473.3" x2="257" y2="473.3" stroke="#555" stroke-width="0.6"/>
<line x1="234.8" y1="454.4" x2="234.8" y2="473.3" stroke="#333" stroke-width="0.8"/>
<polygon points="234.8,454.4 236.4,459.4 233.2,459.4" fill="#222"/>
<polygon points="234.8,473.3 233.2,468.3 236.4,468.3" fill="#222"/>
<text transform="translate(210 472) rotate(-90)" font-size="15" fill="#222" stroke="#222" stroke-width="0.3">D<tspan font-size="10" dy="2">g6</tspan></text>
<text x="232" y="464" font-size="14" fill="#a0197f" text-anchor="middle" font-weight="bold" transform="rotate(-90 232 464)"  stroke="#a0197f" stroke-width="0.3">M</text>
<line x1="211.6" y1="480" x2="211.6" y2="486" stroke="#333" stroke-width="0.8"/>
<line x1="206" y1="480.5" x2="217" y2="480.5" stroke="#333" stroke-width="1"/>
<circle cx="212.4" cy="492.8" r="6.3" fill="#fff" stroke="#333" stroke-width="0.9"/>
<text x="212.4" y="496.5" font-size="9.5" fill="#222" text-anchor="middle" font-weight="normal"  stroke="#222" stroke-width="0.3">A</text>
<line x1="330" y1="444.3" x2="354" y2="444.3" stroke="#555" stroke-width="0.6"/>
<line x1="330" y1="483.3" x2="354" y2="483.3" stroke="#555" stroke-width="0.6"/>
<line x1="336.9" y1="444.3" x2="336.9" y2="483.3" stroke="#333" stroke-width="0.8"/>
<polygon points="336.9,444.3 338.5,449.3 335.3,449.3" fill="#222"/>
<polygon points="336.9,483.3 335.3,478.3 338.5,478.3" fill="#222"/>
<text transform="translate(334 480) rotate(-90)" font-size="15" fill="#222" stroke="#222" stroke-width="0.3">V</text><text transform="translate(327 469) rotate(-90)" font-size="9.5" fill="#222" stroke="#222" stroke-width="0.3">0</text><text transform="translate(334 469) rotate(-90)" font-size="9.5" fill="#222" stroke="#222" stroke-width="0.3">-0.2</text>
<text x="351" y="426" font-size="15" fill="#222" text-anchor="middle" font-weight="normal"  stroke="#222" stroke-width="0.3">R0.5</text>
<line x1="336" y1="429" x2="366" y2="429" stroke="#444" stroke-width="0.7"/>
<line x1="366" y1="429" x2="377" y2="443" stroke="#444" stroke-width="0.7"/>
<polygon points="378,444 374.56,441.58 376.64,440.02" fill="#222"/>
<circle cx="379.5" cy="445" r="1.6" fill="#fff" stroke="#333" stroke-width="0.6"/>
<g transform="translate(258,448) rotate(0)"><polyline points="-7,-11 0,0 6,-11 -7,-11" fill="none" stroke="#444" stroke-width="0.8"/><line x1="6" y1="-11" x2="14" y2="-24" stroke="#444" stroke-width="0.8"/><text x="0" y="-13" font-size="9" text-anchor="middle" fill="#222" stroke="#222" stroke-width="0.3">1.6</text></g>
<g transform="translate(286,510) rotate(-90)"><polyline points="-7,-11 0,0 6,-11 -7,-11" fill="none" stroke="#444" stroke-width="0.8"/><line x1="6" y1="-11" x2="14" y2="-24" stroke="#444" stroke-width="0.8"/><text x="0" y="-13" font-size="9" text-anchor="middle" fill="#222" stroke="#222" stroke-width="0.3">1.6</text></g>
<g transform="translate(354,510) rotate(-90)"><polyline points="-7,-11 0,0 6,-11 -7,-11" fill="none" stroke="#444" stroke-width="0.8"/><line x1="6" y1="-11" x2="14" y2="-24" stroke="#444" stroke-width="0.8"/><text x="0" y="-13" font-size="9" text-anchor="middle" fill="#222" stroke="#222" stroke-width="0.3">1.6</text></g>
<g transform="translate(429,531) rotate(90)"><polyline points="-7,-11 0,0 6,-11 -7,-11" fill="none" stroke="#444" stroke-width="0.8"/><line x1="6" y1="-11" x2="14" y2="-24" stroke="#444" stroke-width="0.8"/><text x="0" y="-13" font-size="9" text-anchor="middle" fill="#222" stroke="#222" stroke-width="0.3">1.6</text></g>
<text x="543.5" y="376" font-size="14.3" fill="#222" text-anchor="middle" font-weight="normal"  stroke="#222" stroke-width="0.3">圆法兰型</text>
<circle cx="566" cy="482" r="62.5" fill="#ececec" stroke="#333" stroke-width="1.2"/>
<circle cx="566" cy="482" r="41" fill="none" stroke="#666" stroke-width="0.7" stroke-dasharray="6,3"/>
<circle cx="566" cy="441" r="15.5" fill="#ececec" stroke="#333" stroke-width="1.1"/>
<circle cx="566" cy="441" r="8.5" fill="#fff" stroke="#555" stroke-width="0.8"/>
<circle cx="566" cy="441" r="7.2" fill="#f4f4f4" stroke="#333" stroke-width="1"/>
<circle cx="525" cy="482" r="15.5" fill="#ececec" stroke="#333" stroke-width="1.1"/>
<circle cx="525" cy="482" r="8.5" fill="#fff" stroke="#555" stroke-width="0.8"/>
<circle cx="525" cy="482" r="7.2" fill="#f4f4f4" stroke="#333" stroke-width="1"/>
<circle cx="607" cy="482" r="15.5" fill="#ececec" stroke="#333" stroke-width="1.1"/>
<circle cx="607" cy="482" r="8.5" fill="#fff" stroke="#555" stroke-width="0.8"/>
<circle cx="607" cy="482" r="7.2" fill="#f4f4f4" stroke="#333" stroke-width="1"/>
<circle cx="566" cy="523" r="15.5" fill="#ececec" stroke="#333" stroke-width="1.1"/>
<circle cx="566" cy="523" r="8.5" fill="#fff" stroke="#555" stroke-width="0.8"/>
<circle cx="566" cy="523" r="7.2" fill="#f4f4f4" stroke="#333" stroke-width="1"/>
<circle cx="566" cy="482" r="19" fill="#ececec" stroke="#333" stroke-width="1.1"/>
<circle cx="566" cy="482" r="14.5" fill="#ececec" stroke="#222" stroke-width="1.6"/>
<circle cx="566" cy="482" r="9.5" fill="#f4f4f4" stroke="#333" stroke-width="1"/>
<line x1="498" y1="482" x2="634" y2="482" stroke="#555" stroke-width="0.6" stroke-dasharray="10,3,2,3"/>
<line x1="566" y1="412" x2="566" y2="550" stroke="#555" stroke-width="0.6" stroke-dasharray="10,3,2,3"/>
<line x1="558" y1="433" x2="552" y2="427" stroke="#222" stroke-width="1.6"/>
<line x1="574" y1="433" x2="580" y2="427" stroke="#222" stroke-width="1.6"/>
<line x1="558" y1="449" x2="552" y2="455" stroke="#222" stroke-width="1.6"/>
<line x1="574" y1="449" x2="580" y2="455" stroke="#222" stroke-width="1.6"/>
<text x="527" y="413" font-size="14" fill="#222" text-anchor="middle" font-weight="normal"  stroke="#222" stroke-width="0.3">4-d<tspan font-size="9" dy="1">2</tspan></text>
<line x1="511" y1="415" x2="541" y2="415" stroke="#555" stroke-width="0.6"/>
<line x1="541" y1="415" x2="556" y2="432" stroke="#555" stroke-width="0.6"/>
<text x="637" y="411" font-size="14" fill="#222" text-anchor="middle" font-weight="normal"  stroke="#222" stroke-width="0.3">4-N</text>
<line x1="596" y1="413.5" x2="668" y2="413.5" stroke="#555" stroke-width="0.6"/>
<line x1="596" y1="413.5" x2="581" y2="428" stroke="#555" stroke-width="0.6"/>
<text x="634" y="428" font-size="14" fill="#222" text-anchor="middle" font-weight="normal"  stroke="#222" stroke-width="0.3">沉孔d<tspan font-size="9" dy="1">1</tspan><tspan dy="-1">深h</tspan></text>
<text x="646" y="446" font-size="14" fill="#222" text-anchor="middle" font-weight="normal"  stroke="#222" stroke-width="0.3">P.C.D</text>
<line x1="628" y1="448" x2="664" y2="448" stroke="#555" stroke-width="0.6"/>
<line x1="628" y1="448" x2="594" y2="467" stroke="#555" stroke-width="0.6"/>
<polygon points="594,467 596.9,463.99 598.07,466.08" fill="#222"/>
<line x1="521" y1="508" x2="594" y2="467" stroke="#555" stroke-width="0.6"/>
<polygon points="521,508 523.9,504.99 525.07,507.08" fill="#222"/>
<text x="738" y="375" font-size="14.4" fill="#222" text-anchor="middle" font-weight="normal"  stroke="#222" stroke-width="0.3">对边法兰型</text>
<path d="M705.6,427.7 A63,63 0 0 1 769.4,427.7 V536.3 A63,63 0 0 1 705.6,536.3 Z" fill="#ececec" stroke="#333" stroke-width="1.2"/>
<path d="M711,452 A41,41 0 0 1 764,452 M711,512 A41,41 0 0 0 764,512" fill="none" stroke="#666" stroke-width="0.7" stroke-dasharray="6,3"/>
<circle cx="737.5" cy="441" r="15.5" fill="#ececec" stroke="#333" stroke-width="1.1"/>
<circle cx="737.5" cy="441" r="8.5" fill="#fff" stroke="#555" stroke-width="0.8"/>
<circle cx="737.5" cy="441" r="7.2" fill="#f4f4f4" stroke="#333" stroke-width="1"/>
<circle cx="737.5" cy="523" r="15.5" fill="#ececec" stroke="#333" stroke-width="1.1"/>
<circle cx="737.5" cy="523" r="8.5" fill="#fff" stroke="#555" stroke-width="0.8"/>
<circle cx="737.5" cy="523" r="7.2" fill="#f4f4f4" stroke="#333" stroke-width="1"/>
<circle cx="737.5" cy="482" r="19" fill="#ececec" stroke="#333" stroke-width="1.1"/>
<circle cx="737.5" cy="482" r="14.5" fill="#ececec" stroke="#222" stroke-width="1.6"/>
<circle cx="737.5" cy="482" r="9.5" fill="#f4f4f4" stroke="#333" stroke-width="1"/>
<line x1="700" y1="482" x2="775" y2="482" stroke="#555" stroke-width="0.6" stroke-dasharray="10,3,2,3"/>
<line x1="737.5" y1="412" x2="737.5" y2="552" stroke="#555" stroke-width="0.6" stroke-dasharray="10,3,2,3"/>
<line x1="729.5" y1="433" x2="723.5" y2="427" stroke="#222" stroke-width="1.6"/>
<line x1="745.5" y1="433" x2="751.5" y2="427" stroke="#222" stroke-width="1.6"/>
<line x1="729.5" y1="449" x2="723.5" y2="455" stroke="#222" stroke-width="1.6"/>
<line x1="745.5" y1="449" x2="751.5" y2="455" stroke="#222" stroke-width="1.6"/>
<line x1="745" y1="441" x2="798" y2="441" stroke="#555" stroke-width="0.6"/>
<line x1="745" y1="523" x2="798" y2="523" stroke="#555" stroke-width="0.6"/>
<line x1="793" y1="441" x2="793" y2="523" stroke="#333" stroke-width="0.8"/>
<polygon points="793,441 794.6,446.0 791.4,446.0" fill="#222"/>
<polygon points="793,523 791.4,518.0 794.6,518.0" fill="#222"/>
<text x="789" y="482" font-size="15" fill="#222" text-anchor="middle" font-weight="normal" transform="rotate(-90 789 482)"  stroke="#222" stroke-width="0.3">A</text>
<line x1="705.6" y1="540" x2="705.6" y2="572" stroke="#555" stroke-width="0.6"/>
<line x1="769.4" y1="540" x2="769.4" y2="572" stroke="#555" stroke-width="0.6"/>
<line x1="705.6" y1="568" x2="769.4" y2="568" stroke="#333" stroke-width="0.8"/>
<polygon points="705.6,568 710.6,566.4 710.6,569.6" fill="#222"/>
<polygon points="769.4,568 764.4,569.6 764.4,566.4" fill="#222"/>
<text x="737.5" y="563" font-size="15" fill="#222" text-anchor="middle" font-weight="normal"  stroke="#222" stroke-width="0.3">W</text>
<text x="699" y="413" font-size="14" fill="#222" text-anchor="middle" font-weight="normal"  stroke="#222" stroke-width="0.3">2-d<tspan font-size="9" dy="1">2</tspan></text>
<line x1="686" y1="415" x2="714" y2="415" stroke="#555" stroke-width="0.6"/>
<line x1="714" y1="415" x2="727" y2="430" stroke="#555" stroke-width="0.6"/>
<text x="804" y="411" font-size="14" fill="#222" text-anchor="middle" font-weight="normal"  stroke="#222" stroke-width="0.3">2-N</text>
<line x1="766" y1="413.5" x2="838" y2="413.5" stroke="#555" stroke-width="0.6"/>
<line x1="766" y1="413.5" x2="753" y2="428" stroke="#555" stroke-width="0.6"/>
<text x="804" y="428" font-size="14" fill="#222" text-anchor="middle" font-weight="normal"  stroke="#222" stroke-width="0.3">沉孔d<tspan font-size="9" dy="1">1</tspan><tspan dy="-1">深h</tspan></text>
<g transform="translate(848,402) rotate(0)"><polyline points="-7,-11 0,0 6,-11 -7,-11" fill="none" stroke="#444" stroke-width="0.8"/><line x1="6" y1="-11" x2="14" y2="-24" stroke="#444" stroke-width="0.8"/><text x="0" y="-13" font-size="9" text-anchor="middle" fill="#222" stroke="#222" stroke-width="0.3">6.3</text></g>
<text x="890" y="442" font-size="14" fill="#222" stroke="#222" stroke-width="0.3">D=<tspan fill="#a0197f">M</tspan>时</text>
<rect x="860" y="468" width="37" height="27" fill="#ececec" stroke="#333" stroke-width="1.1"/>
<line x1="863" y1="468" x2="863" y2="495" stroke="#666" stroke-width="0.6"/>
<rect x="897" y="468" width="40" height="27" fill="#ececec" stroke="#333" stroke-width="1.1"/>
<path d="M937,462 H977 C974,470 979,478 976,486 C973,494 978,498 977,501 H937 Z" fill="#ececec" stroke="#333" stroke-width="1.1"/>
<line x1="850" y1="481.5" x2="981" y2="481.5" stroke="#555" stroke-width="0.6"/>
<text x="858" y="452" font-size="15" fill="#a0197f" font-weight="bold" stroke="#a0197f" stroke-width="0.3">M</text>
<line x1="858" y1="454" x2="871" y2="454" stroke="#555" stroke-width="0.6"/>
<line x1="871" y1="454" x2="880" y2="467" stroke="#555" stroke-width="0.6"/>
<polygon points="880.5,468 877.06,465.58 879.14,464.02" fill="#222"/>
<line x1="838" y1="468" x2="858" y2="468" stroke="#555" stroke-width="0.6"/>
<line x1="838" y1="495" x2="858" y2="495" stroke="#555" stroke-width="0.6"/>
<line x1="841.5" y1="468" x2="841.5" y2="495" stroke="#333" stroke-width="0.8"/>
<polygon points="841.5,468 843.1,473.0 839.9,473.0" fill="#222"/>
<polygon points="841.5,495 839.9,490.0 843.1,490.0" fill="#222"/>
<text transform="translate(838 493) rotate(-90)" font-size="14" fill="#222" stroke="#222" stroke-width="0.3">D<tspan font-size="9" dy="2">g6</tspan></text>
<line x1="860" y1="497" x2="860" y2="522" stroke="#555" stroke-width="0.6"/>
<line x1="897" y1="497" x2="897" y2="522" stroke="#555" stroke-width="0.6"/>
<line x1="937" y1="503" x2="937" y2="522" stroke="#555" stroke-width="0.6"/>
<line x1="848" y1="520" x2="937" y2="520" stroke="#333" stroke-width="0.8"/>
<polygon points="860,520 855.0,521.6 855.0,518.4" fill="#222"/>
<polygon points="897,520 902.0,518.4 902.0,521.6" fill="#222"/>
<polygon points="897,520 892.0,521.6 892.0,518.4" fill="#222"/>
<polygon points="937,520 932.0,521.6 932.0,518.4" fill="#222"/>
<text x="878.5" y="518" font-size="13.5" fill="#222" text-anchor="middle" font-weight="normal"  stroke="#222" stroke-width="0.3">M×1.5</text>
<text x="910" y="518" font-size="15" fill="#a0197f" stroke="#a0197f" stroke-width="0.3">F</text>
<defs>
<linearGradient id="gs" x1="0" x2="1" y1="0" y2="0"><stop offset="0" stop-color="#7d7d7d"/><stop offset="0.35" stop-color="#d9d9d9"/><stop offset="0.6" stop-color="#bdbdbd"/><stop offset="1" stop-color="#858585"/></linearGradient>
<linearGradient id="gf" x1="0" x2="1" y1="0" y2="0"><stop offset="0" stop-color="#8f8f8f"/><stop offset="0.5" stop-color="#b4b4b4"/><stop offset="1" stop-color="#9a9a9a"/></linearGradient>
<linearGradient id="gd" x1="0" x2="1" y1="0" y2="0"><stop offset="0" stop-color="#3c3c3c"/><stop offset="0.45" stop-color="#6a6a6a"/><stop offset="1" stop-color="#3a3a3a"/></linearGradient>
<linearGradient id="gd2" x1="0" x2="1" y1="0" y2="0"><stop offset="0" stop-color="#4a4a4a"/><stop offset="0.4" stop-color="#7b7b7b"/><stop offset="1" stop-color="#555"/></linearGradient>
</defs>
<rect x="32.6" y="372" width="66.6" height="20" rx="2" fill="url(#gf)"/>
<path d="M32.6,372 L35,362.5 Q35.5,362 37,362 H95 Q96.5,362 97,362.5 L99.2,372 Z" fill="#979797"/>
<ellipse cx="37" cy="367.3" rx="2" ry="1.6" fill="#505050"/>
<ellipse cx="44.5" cy="367.3" rx="3.5" ry="1.6" fill="#505050"/>
<ellipse cx="85.5" cy="367.3" rx="2.5" ry="1.6" fill="#505050"/>
<ellipse cx="92" cy="367.3" rx="3.5" ry="1.6" fill="#505050"/>
<rect x="52.6" y="346" width="26.2" height="25" fill="url(#gs)"/>
<rect x="54.8" y="274.6" width="21" height="72" fill="url(#gs)"/>
<rect x="59.6" y="256" width="11.4" height="19" rx="2" fill="url(#gs)"/>
<line x1="59.8" y1="259" x2="70.8" y2="259" stroke="#888" stroke-width="0.7"/>
<line x1="59.8" y1="262" x2="70.8" y2="262" stroke="#888" stroke-width="0.7"/>
<line x1="59.8" y1="265" x2="70.8" y2="265" stroke="#888" stroke-width="0.7"/>
<line x1="59.8" y1="268" x2="70.8" y2="268" stroke="#888" stroke-width="0.7"/>
<line x1="59.8" y1="271" x2="70.8" y2="271" stroke="#888" stroke-width="0.7"/>
<path d="M125.5,354 V378 A34.8,12.5 0 0 0 195.1,378 V354 Z" fill="url(#gd2)"/>
<ellipse cx="160.3" cy="354" rx="34.8" ry="12" fill="#8a8a8a"/>
<ellipse cx="143" cy="348" rx="7.5" ry="3.6" fill="#2e2e2e"/>
<ellipse cx="178" cy="348" rx="7.5" ry="3.6" fill="#2e2e2e"/>
<ellipse cx="143" cy="359.5" rx="7.5" ry="3.6" fill="#2e2e2e"/>
<ellipse cx="178" cy="359.5" rx="7.5" ry="3.6" fill="#2e2e2e"/>
<rect x="151" y="340" width="20" height="23" fill="url(#gd)"/>
<rect x="153.5" y="275" width="16.2" height="70" fill="url(#gd)"/>
<rect x="156.9" y="258.4" width="10.1" height="17" rx="2" fill="url(#gd)"/>
<rect x="204.5" y="386.5" width="38.5" height="20.5" rx="1.5" fill="#fff" stroke="#aaa" stroke-width="0.8"/>
<rect x="226.5" y="387.5" width="15.5" height="9.5" fill="#d42a2a"/><rect x="226.5" y="397" width="15.5" height="9.5" fill="#1b7ec4"/>
<text x="205.5" y="401.5" font-size="11" font-weight="bold" fill="#111" letter-spacing="-0.3" stroke="#111" stroke-width="0.3">CAD</text>
<text x="234.3" y="395.7" font-size="8.5" font-weight="bold" fill="#fff" text-anchor="middle" stroke="#fff" stroke-width="0.3">2D</text><text x="234.3" y="405.3" font-size="8.5" font-weight="bold" fill="#fff" text-anchor="middle" stroke="#fff" stroke-width="0.3">3D</text>
<rect x="158.6" y="1292.6" width="11.4" height="45.0" fill="#ececec" stroke="#333" stroke-width="1.1"/>
<rect x="170" y="1305.8" width="9" height="18.6" fill="#ececec" stroke="#333" stroke-width="1.1"/>
<rect x="179" y="1308.2" width="36" height="14.4" fill="#ececec" stroke="#333" stroke-width="1.1"/>
<rect x="216.2" y="1310" width="13.8" height="10.8" rx="1.5" fill="#ececec" stroke="#333" stroke-width="1.1"/>
<line x1="154.6" y1="1315.4" x2="235" y2="1315.4" stroke="#666" stroke-width="0.5" stroke-dasharray="6,2,1,2"/>
<line x1="154.6" y1="1298.2" x2="174" y2="1298.2" stroke="#666" stroke-width="0.5"/>
<line x1="154.6" y1="1331.9" x2="174" y2="1331.9" stroke="#666" stroke-width="0.5"/>
<line x1="158.6" y1="1338" x2="158.6" y2="1354" stroke="#555" stroke-width="0.6"/>
<line x1="179" y1="1325" x2="179" y2="1354" stroke="#555" stroke-width="0.6"/>
<text x="168.5" y="1349" font-size="12.5" font-weight="bold" fill="#a0197f" text-anchor="middle" stroke="#a0197f" stroke-width="0.3">YC</text>
<line x1="158.6" y1="1352" x2="179" y2="1352" stroke="#333" stroke-width="0.8"/>
<polygon points="158.6,1352 161.6,1350.9 161.6,1353.1" fill="#222"/>
<polygon points="179,1352 176.0,1353.1 176.0,1350.9" fill="#222"/>
<rect x="163.4" y="1395.8" width="13.8" height="54.6" fill="#ececec" stroke="#333" stroke-width="1.1"/>
<rect x="177.2" y="1411.4" width="10.8" height="22.8" fill="#ececec" stroke="#333" stroke-width="1.1"/>
<rect x="188" y="1414.4" width="21.6" height="18.0" fill="#ececec" stroke="#333" stroke-width="1.1"/>
<rect x="209.6" y="1414.4" width="22.2" height="18.0" rx="1.5" fill="#ececec" stroke="#333" stroke-width="1.1"/>
<line x1="159.4" y1="1422.8" x2="236.8" y2="1422.8" stroke="#666" stroke-width="0.5" stroke-dasharray="6,2,1,2"/>
<line x1="159.4" y1="1402" x2="181.2" y2="1402" stroke="#666" stroke-width="0.5"/>
<line x1="159.4" y1="1443.5" x2="181.2" y2="1443.5" stroke="#666" stroke-width="0.5"/>
<line x1="211" y1="1417" x2="230" y2="1417" stroke="#777" stroke-width="0.5"/>
<line x1="211" y1="1430" x2="230" y2="1430" stroke="#777" stroke-width="0.5"/>
<text x="196.4" y="1394.6" font-size="12" font-weight="bold" fill="#a0197f" text-anchor="middle" stroke="#a0197f" stroke-width="0.3">MC</text>
<line x1="186" y1="1396.5" x2="206" y2="1396.5" stroke="#555" stroke-width="0.6"/>
<line x1="206" y1="1396.5" x2="218" y2="1412" stroke="#555" stroke-width="0.6"/>
<polygon points="219,1414 215.56,1411.58 217.64,1410.02" fill="#222"/>
<rect x="158" y="1512.8" width="12" height="44.2" fill="#ececec" stroke="#333" stroke-width="1"/>
<rect x="170" y="1523.6" width="8" height="16.0" fill="#ececec" stroke="#333" stroke-width="1"/>
<rect x="178" y="1525.6" width="36" height="12.0" fill="#ececec" stroke="#333" stroke-width="1"/>
<rect x="214" y="1526.6" width="12" height="10.0" fill="#ececec" stroke="#333" stroke-width="1"/>
<line x1="216" y1="1528.6" x2="226" y2="1528.6" stroke="#666" stroke-width="0.5" stroke-dasharray="2,1"/>
<line x1="216" y1="1534.6" x2="226" y2="1534.6" stroke="#666" stroke-width="0.5" stroke-dasharray="2,1"/>
<line x1="133" y1="1531.6" x2="230" y2="1531.6" stroke="#666" stroke-width="0.5" stroke-dasharray="6,2,1,2"/>
<rect x="148.8" y="1485.4" width="51.9" height="10.9" fill="#fff" stroke="#555" stroke-width="0.8"/>
<line x1="158" y1="1485.4" x2="158" y2="1496.3" stroke="#555" stroke-width="0.8"/>
<line x1="191" y1="1485.4" x2="191" y2="1496.3" stroke="#555" stroke-width="0.8"/>
<text x="174.5" y="1494.5" font-size="10" fill="#222" text-anchor="middle" stroke="#222" stroke-width="0.3">Ø0.02</text><text x="196" y="1494.5" font-size="9.5" fill="#222" text-anchor="middle" stroke="#222" stroke-width="0.3">A</text><circle cx="153.4" cy="1490.8" r="3" fill="none" stroke="#333" stroke-width="0.8"/>
<line x1="148.8" y1="1490.8" x2="143" y2="1490.8" stroke="#555" stroke-width="0.6"/>
<line x1="143" y1="1490.8" x2="143" y2="1512" stroke="#555" stroke-width="0.6"/>
<polygon points="143,1513 141.8,1509.5 144.2,1509.5" fill="#222"/>
<text x="151" y="1507" font-size="11" fill="#222" stroke="#222" stroke-width="0.3">R0.5max</text>
<line x1="151" y1="1509" x2="190" y2="1509" stroke="#555" stroke-width="0.6"/>
<line x1="151" y1="1509" x2="158" y2="1514" stroke="#555" stroke-width="0.6"/>
<text x="141" y="1521" font-size="9" fill="#222" stroke="#222" stroke-width="0.3">1.6</text>
<polyline points="135,1524 141,1533 147,1524 135,1524" fill="none" stroke="#444" stroke-width="0.7"/><line x1="147" y1="1524" x2="153" y2="1512" stroke="#444" stroke-width="0.7"/>
<text x="137" y="1565" font-size="11" fill="#a0197f" transform="rotate(-90 137 1565)" stroke="#a0197f" stroke-width="0.3">AD<tspan font-size="8" fill="#222">g6</tspan></text>
<text x="148" y="1553" font-size="9" fill="#222" transform="rotate(-90 148 1553)" stroke="#222" stroke-width="0.3">C0.2</text>
<line x1="130" y1="1525" x2="156" y2="1525" stroke="#555" stroke-width="0.6"/>
<line x1="130" y1="1538" x2="156" y2="1538" stroke="#555" stroke-width="0.6"/>
<line x1="133" y1="1515" x2="133" y2="1568" stroke="#555" stroke-width="0.6"/>
<line x1="158" y1="1558" x2="158" y2="1572" stroke="#555" stroke-width="0.6"/>
<line x1="170" y1="1558" x2="170" y2="1572" stroke="#555" stroke-width="0.6"/>
<line x1="144" y1="1567" x2="184" y2="1567" stroke="#555" stroke-width="0.6"/>
<polygon points="158,1567 154.5,1568.2 154.5,1565.8" fill="#222"/>
<polygon points="170,1567 173.5,1565.8 173.5,1568.2" fill="#222"/>
<text x="170" y="1564" font-size="11.5" fill="#222" stroke="#222" stroke-width="0.3">5</text>
<circle cx="241" cy="1517" r="5" fill="#fff" stroke="#333" stroke-width="0.8"/><text x="241" y="1520.3" font-size="8" fill="#222" text-anchor="middle" stroke="#222" stroke-width="0.3">A</text>
<line x1="241" y1="1522" x2="241" y2="1541" stroke="#555" stroke-width="0.6"/>
<line x1="227" y1="1526.6" x2="244" y2="1526.6" stroke="#555" stroke-width="0.6"/>
<line x1="227" y1="1536.6" x2="244" y2="1536.6" stroke="#555" stroke-width="0.6"/>
<text x="236" y="1539" font-size="9.5" fill="#222" transform="rotate(-90 236 1539)" stroke="#222" stroke-width="0.3">Dg6</text>
<rect x="777" y="1237.5" width="67" height="63" fill="#ececec"/>
<path d="M761.2,1249.2 H716 Q712.8,1249.2 712.8,1253 V1284.5 Q712.8,1288.3 716,1288.3 H761.2 Z" fill="#ececec" stroke="#333" stroke-width="1"/>
<path d="M761.2,1249.2 Q765,1249.5 766.5,1253.5 H774.5 Q775.5,1250 776.9,1249.2 M761.2,1288.3 Q765,1288 766.5,1284 H774.5 Q775.5,1287.5 776.9,1288.3" fill="none" stroke="#333" stroke-width="1"/>
<rect x="761.2" y="1253.5" width="15.7" height="30.5" fill="#ececec"/>
<line x1="765.5" y1="1253.5" x2="765.5" y2="1284" stroke="#555" stroke-width="0.6"/>
<line x1="776.9" y1="1237.3" x2="776.9" y2="1300.6" stroke="#333" stroke-width="1"/>
<line x1="716" y1="1253.5" x2="761" y2="1253.5" stroke="#666" stroke-width="0.6"/>
<line x1="716" y1="1284" x2="761" y2="1284" stroke="#666" stroke-width="0.6"/>
<line x1="776.9" y1="1237.3" x2="843" y2="1237.3" stroke="#444" stroke-width="1"/>
<line x1="776.9" y1="1300.6" x2="843" y2="1300.6" stroke="#444" stroke-width="1"/>
<line x1="776.9" y1="1253.5" x2="866" y2="1253.5" stroke="#555" stroke-width="0.7"/>
<line x1="776.9" y1="1283.6" x2="866" y2="1283.6" stroke="#555" stroke-width="0.7"/>
<line x1="707" y1="1268.3" x2="845" y2="1268.3" stroke="#666" stroke-width="0.5" stroke-dasharray="14,3,2,3"/>
<line x1="863" y1="1253.5" x2="863" y2="1283.6" stroke="#333" stroke-width="0.8"/>
<polygon points="863,1253.5 864.6,1258.5 861.4,1258.5" fill="#222"/>
<polygon points="863,1283.6 861.4,1278.6 864.6,1278.6" fill="#222"/>
<text x="857" y="1268.5" font-size="10" fill="#222" text-anchor="middle" font-weight="normal" transform="rotate(-90 857 1268.5)"  stroke="#222" stroke-width="0.3">f</text>
<line x1="765.5" y1="1290" x2="765.5" y2="1323" stroke="#555" stroke-width="0.6"/>
<line x1="776.9" y1="1302" x2="776.9" y2="1323" stroke="#555" stroke-width="0.6"/>
<line x1="748" y1="1319.8" x2="793" y2="1319.8" stroke="#555" stroke-width="0.6"/>
<polygon points="765.5,1319.8 761.5,1321.1 761.5,1318.5" fill="#222"/>
<polygon points="776.9,1319.8 780.9,1318.5 780.9,1321.1" fill="#222"/>
<text x="771.5" y="1314" font-size="12" fill="#222" text-anchor="middle" font-weight="normal"  stroke="#222" stroke-width="0.3">g</text>
<text x="775" y="1232" font-size="12" fill="#222" text-anchor="middle" font-weight="normal"  stroke="#222" stroke-width="0.3">r</text>
<line x1="768.5" y1="1250" x2="771.5" y2="1235" stroke="#444" stroke-width="0.6"/>
<line x1="773.5" y1="1250" x2="772.5" y2="1235" stroke="#444" stroke-width="0.6"/>
<polygon points="768.5,1251.5 768.01,1247.83 770.36,1248.3" fill="#222"/>
<polygon points="773.5,1251.5 771.96,1248.14 774.35,1247.9" fill="#222"/>
</svg>
</body></html>
